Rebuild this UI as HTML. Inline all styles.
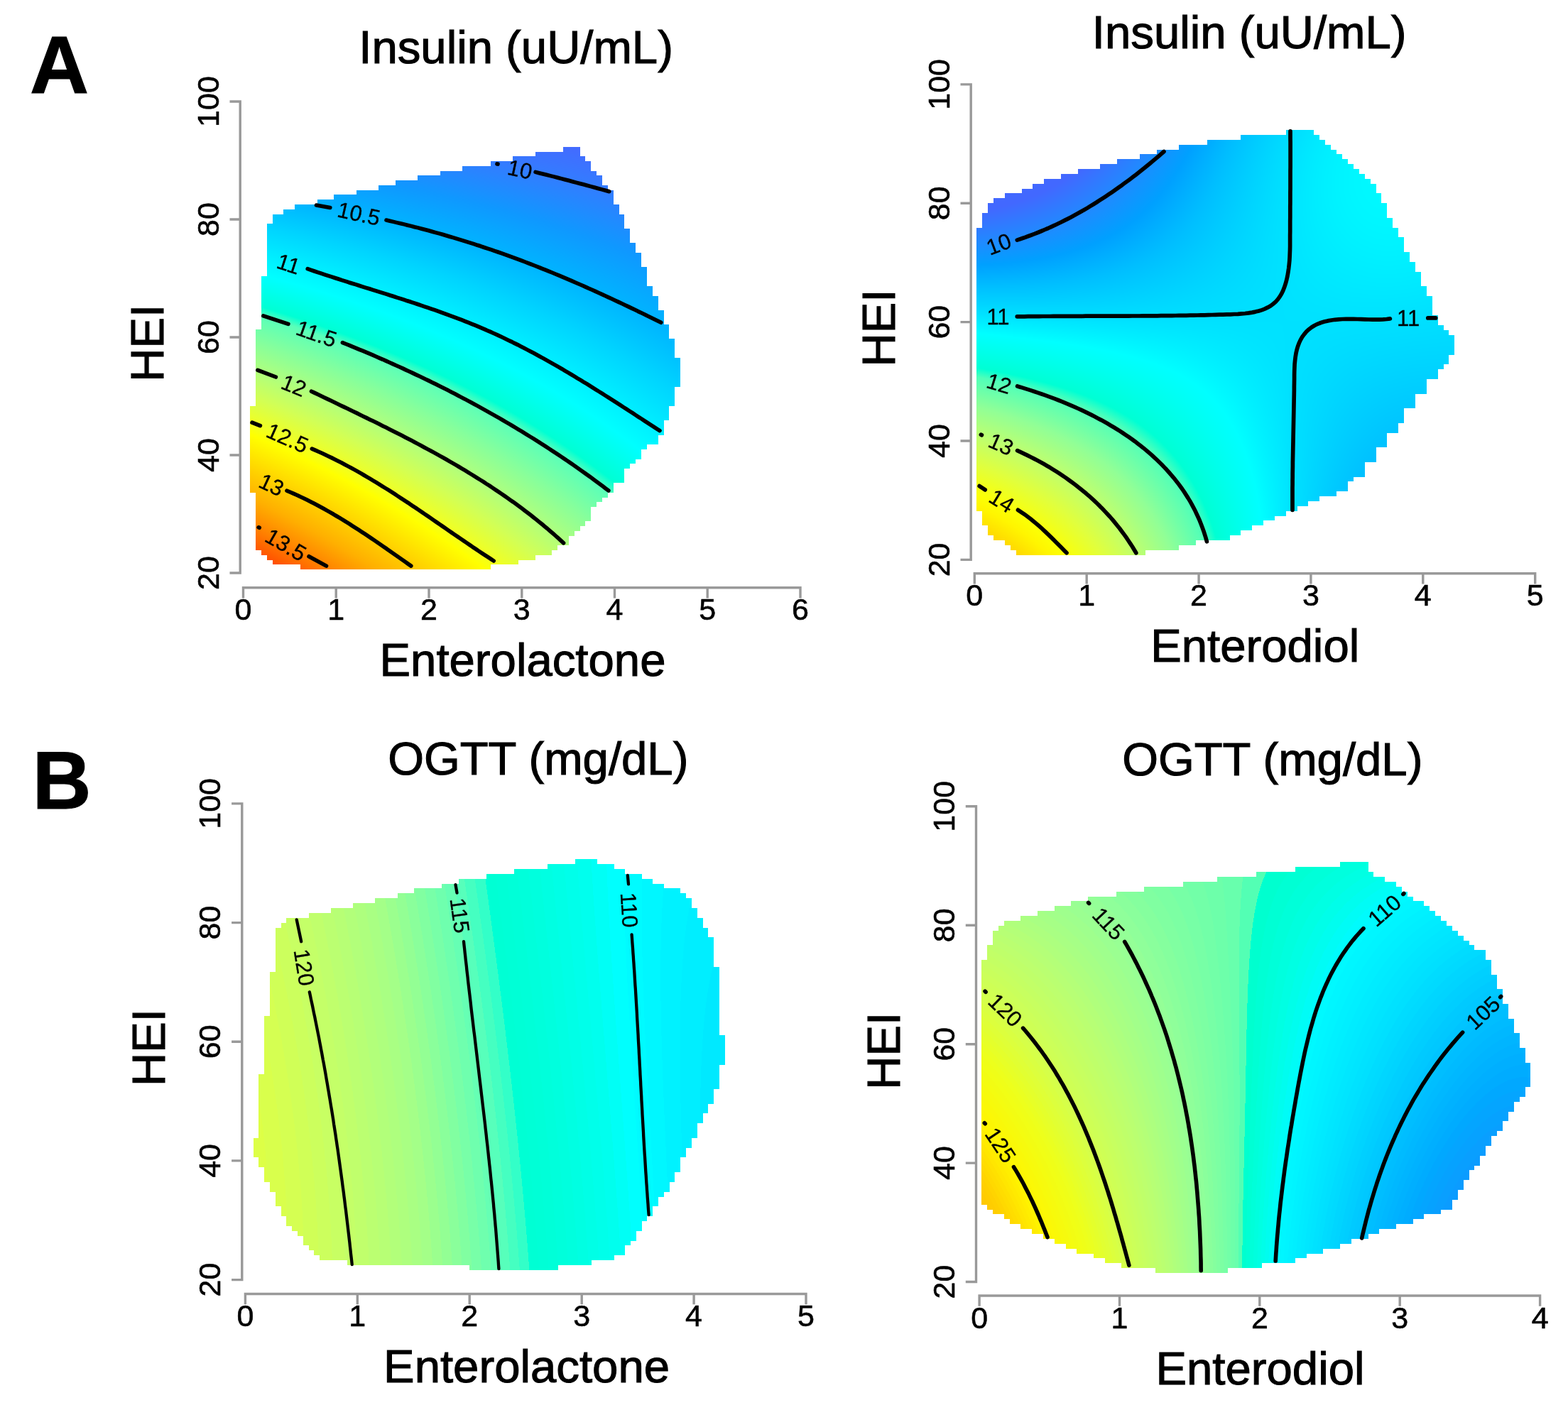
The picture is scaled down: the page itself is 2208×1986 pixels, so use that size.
<!DOCTYPE html>
<html><head><meta charset="utf-8"><title>Figure</title>
<style>html,body{margin:0;padding:0;background:#fff}#wrap{position:relative;width:2208px;height:1986px;overflow:hidden;background:#fff}
svg{position:absolute;left:0;top:0}text{font-family:"Liberation Sans", Arial, sans-serif;fill:#000;stroke:#000;stroke-width:1.1px}text.cl{stroke-width:0.3px}text.tk{stroke-width:0.6px}</style></head>
<body><div id="wrap"><noscript><svg width="2208" height="1986" style="position:absolute;left:0;top:0" xmlns="http://www.w3.org/2000/svg"><defs><linearGradient id="gTL0" gradientUnits="userSpaceOnUse" x1="792.9" x2="816.5"><stop offset="-0.039" stop-color="#416dff"/><stop offset="0.977" stop-color="#436bff"/></linearGradient><linearGradient id="gTL1" gradientUnits="userSpaceOnUse" x1="753.6" x2="816.5"><stop offset="-0.009" stop-color="#3c72ff"/><stop offset="1.007" stop-color="#416eff"/></linearGradient><linearGradient id="gTL2" gradientUnits="userSpaceOnUse" x1="722.1" x2="824.4"><stop offset="-0.001" stop-color="#3778ff"/><stop offset="0.996" stop-color="#3f70ff"/></linearGradient><linearGradient id="gTL3" gradientUnits="userSpaceOnUse" x1="690.6" x2="832.3"><stop offset="-0.004" stop-color="#327dff"/><stop offset="0.998" stop-color="#3d71ff"/></linearGradient><linearGradient id="gTL4" gradientUnits="userSpaceOnUse" x1="651.3" x2="832.3"><stop offset="-0.001" stop-color="#2a83ff"/><stop offset="1.004" stop-color="#3b74ff"/></linearGradient><linearGradient id="gTL5" gradientUnits="userSpaceOnUse" x1="619.8" x2="840.1"><stop offset="-0.004" stop-color="#2289ff"/><stop offset="1.004" stop-color="#3975ff"/></linearGradient><linearGradient id="gTL6" gradientUnits="userSpaceOnUse" x1="588.3" x2="848.0"><stop offset="-0.001" stop-color="#1a90ff"/><stop offset="1.000" stop-color="#3777ff"/></linearGradient><linearGradient id="gTL7" gradientUnits="userSpaceOnUse" x1="556.8" x2="848.0"><stop offset="-0.003" stop-color="#1296ff"/><stop offset="1.000" stop-color="#357aff"/></linearGradient><linearGradient id="gTL8" gradientUnits="userSpaceOnUse" x1="533.2" x2="855.9"><stop offset="-0.001" stop-color="#0d9cff"/><stop offset="0.997" stop-color="#347bff"/></linearGradient><linearGradient id="gTL9" gradientUnits="userSpaceOnUse" x1="501.7" x2="863.8"><stop offset="-0.002" stop-color="#09a3ff"/><stop offset="0.998" stop-color="#327dff"/></linearGradient><linearGradient id="gTL10" gradientUnits="userSpaceOnUse" x1="470.3" x2="863.8"><stop offset="-0.001" stop-color="#05aaff"/><stop offset="0.762" stop-color="#2289ff"/><stop offset="1.001" stop-color="#2f7fff"/></linearGradient><linearGradient id="gTL11" gradientUnits="userSpaceOnUse" x1="446.6" x2="863.8"><stop offset="-0.002" stop-color="#02b1ff"/><stop offset="0.775" stop-color="#1f8cff"/><stop offset="1.001" stop-color="#2c82ff"/></linearGradient><linearGradient id="gTL12" gradientUnits="userSpaceOnUse" x1="415.2" x2="871.6"><stop offset="-0.000" stop-color="#00b9ff"/><stop offset="0.784" stop-color="#1b8eff"/><stop offset="0.999" stop-color="#2a83ff"/></linearGradient><linearGradient id="gTL13" gradientUnits="userSpaceOnUse" x1="399.4" x2="871.6"><stop offset="-0.001" stop-color="#00c0ff"/><stop offset="0.812" stop-color="#1990ff"/><stop offset="0.999" stop-color="#2786ff"/></linearGradient><linearGradient id="gTL14" gradientUnits="userSpaceOnUse" x1="383.7" x2="879.5"><stop offset="-0.001" stop-color="#00c7ff"/><stop offset="0.733" stop-color="#1097ff"/><stop offset="0.999" stop-color="#2587ff"/></linearGradient><linearGradient id="gTL15" gradientUnits="userSpaceOnUse" x1="383.7" x2="879.5"><stop offset="-0.001" stop-color="#00ccff"/><stop offset="0.696" stop-color="#0d9cff"/><stop offset="0.999" stop-color="#228aff"/></linearGradient><linearGradient id="gTL16" gradientUnits="userSpaceOnUse" x1="375.8" x2="879.5"><stop offset="-0.002" stop-color="#00d2ff"/><stop offset="0.681" stop-color="#0aa1ff"/><stop offset="0.999" stop-color="#1f8cff"/></linearGradient><linearGradient id="gTL17" gradientUnits="userSpaceOnUse" x1="375.8" x2="887.4"><stop offset="-0.002" stop-color="#00d7ff"/><stop offset="0.687" stop-color="#09a2ff"/><stop offset="0.999" stop-color="#1d8dff"/></linearGradient><linearGradient id="gTL18" gradientUnits="userSpaceOnUse" x1="375.8" x2="887.4"><stop offset="-0.002" stop-color="#00dbff"/><stop offset="0.714" stop-color="#09a4ff"/><stop offset="0.999" stop-color="#1a90ff"/></linearGradient><linearGradient id="gTL19" gradientUnits="userSpaceOnUse" x1="375.8" x2="887.4"><stop offset="-0.002" stop-color="#00e0ff"/><stop offset="0.741" stop-color="#08a4ff"/><stop offset="0.999" stop-color="#1792ff"/></linearGradient><linearGradient id="gTL20" gradientUnits="userSpaceOnUse" x1="375.8" x2="895.2"><stop offset="-0.002" stop-color="#00e4ff"/><stop offset="0.761" stop-color="#08a5ff"/><stop offset="1.000" stop-color="#1593ff"/></linearGradient><linearGradient id="gTL21" gradientUnits="userSpaceOnUse" x1="375.8" x2="895.2"><stop offset="-0.002" stop-color="#00e8ff"/><stop offset="0.792" stop-color="#08a6ff"/><stop offset="1.000" stop-color="#1296ff"/></linearGradient><linearGradient id="gTL22" gradientUnits="userSpaceOnUse" x1="375.8" x2="903.1"><stop offset="-0.002" stop-color="#00edff"/><stop offset="0.810" stop-color="#08a6ff"/><stop offset="1.000" stop-color="#1097ff"/></linearGradient><linearGradient id="gTL23" gradientUnits="userSpaceOnUse" x1="375.8" x2="903.1"><stop offset="-0.002" stop-color="#00f1ff"/><stop offset="0.840" stop-color="#07a6ff"/><stop offset="1.000" stop-color="#0e99ff"/></linearGradient><linearGradient id="gTL24" gradientUnits="userSpaceOnUse" x1="375.8" x2="903.1"><stop offset="-0.002" stop-color="#00f5ff"/><stop offset="0.871" stop-color="#07a6ff"/><stop offset="1.000" stop-color="#0d9cff"/></linearGradient><linearGradient id="gTL25" gradientUnits="userSpaceOnUse" x1="375.8" x2="911.0"><stop offset="-0.002" stop-color="#00f9ff"/><stop offset="0.884" stop-color="#07a7ff"/><stop offset="1.000" stop-color="#0c9dff"/></linearGradient><linearGradient id="gTL26" gradientUnits="userSpaceOnUse" x1="375.8" x2="911.0"><stop offset="-0.002" stop-color="#00fdff"/><stop offset="0.914" stop-color="#07a7ff"/><stop offset="1.000" stop-color="#0b9fff"/></linearGradient><linearGradient id="gTL27" gradientUnits="userSpaceOnUse" x1="367.9" x2="911.0"><stop offset="-0.002" stop-color="#00fffa"/><stop offset="0.941" stop-color="#07a7ff"/><stop offset="1.000" stop-color="#0aa2ff"/></linearGradient><linearGradient id="gTL28" gradientUnits="userSpaceOnUse" x1="367.9" x2="911.0"><stop offset="-0.002" stop-color="#00fff3"/><stop offset="0.168" stop-color="#00f8ff"/><stop offset="0.971" stop-color="#07a7ff"/><stop offset="1.000" stop-color="#09a4ff"/></linearGradient><linearGradient id="gTL29" gradientUnits="userSpaceOnUse" x1="367.9" x2="918.8"><stop offset="-0.002" stop-color="#00ffed"/><stop offset="0.183" stop-color="#00faff"/><stop offset="0.982" stop-color="#07a7ff"/><stop offset="1.000" stop-color="#08a5ff"/></linearGradient><linearGradient id="gTL30" gradientUnits="userSpaceOnUse" x1="367.9" x2="918.8"><stop offset="-0.002" stop-color="#00ffe6"/><stop offset="0.216" stop-color="#00faff"/><stop offset="1.000" stop-color="#07a7ff"/></linearGradient><linearGradient id="gTL31" gradientUnits="userSpaceOnUse" x1="367.9" x2="926.7"><stop offset="-0.002" stop-color="#00ffe0"/><stop offset="0.249" stop-color="#00faff"/><stop offset="1.001" stop-color="#06a8ff"/></linearGradient><linearGradient id="gTL32" gradientUnits="userSpaceOnUse" x1="367.9" x2="926.7"><stop offset="-0.002" stop-color="#00ffd9"/><stop offset="0.281" stop-color="#00fbff"/><stop offset="1.001" stop-color="#05abff"/></linearGradient><linearGradient id="gTL33" gradientUnits="userSpaceOnUse" x1="367.9" x2="926.7"><stop offset="-0.002" stop-color="#0bffd1"/><stop offset="0.020" stop-color="#00ffd6"/><stop offset="0.317" stop-color="#00fbff"/><stop offset="1.001" stop-color="#04adff"/></linearGradient><linearGradient id="gTL34" gradientUnits="userSpaceOnUse" x1="367.9" x2="934.6"><stop offset="-0.002" stop-color="#3affc3"/><stop offset="0.051" stop-color="#00ffd5"/><stop offset="0.344" stop-color="#00fbff"/><stop offset="1.001" stop-color="#03aeff"/></linearGradient><linearGradient id="gTL35" gradientUnits="userSpaceOnUse" x1="367.9" x2="934.6"><stop offset="-0.002" stop-color="#5cffb7"/><stop offset="0.023" stop-color="#4bffbd"/><stop offset="0.090" stop-color="#00ffd5"/><stop offset="0.376" stop-color="#00fbff"/><stop offset="1.001" stop-color="#02b0ff"/></linearGradient><linearGradient id="gTL36" gradientUnits="userSpaceOnUse" x1="367.9" x2="934.6"><stop offset="-0.002" stop-color="#64ffb2"/><stop offset="0.055" stop-color="#52ffbb"/><stop offset="0.125" stop-color="#00ffd5"/><stop offset="0.408" stop-color="#00fbff"/><stop offset="1.001" stop-color="#01b2ff"/></linearGradient><linearGradient id="gTL37" gradientUnits="userSpaceOnUse" x1="367.9" x2="942.5"><stop offset="-0.002" stop-color="#6bffad"/><stop offset="0.089" stop-color="#53ffbb"/><stop offset="0.158" stop-color="#00ffd5"/><stop offset="0.430" stop-color="#00fbff"/><stop offset="1.001" stop-color="#00b3ff"/></linearGradient><linearGradient id="gTL38" gradientUnits="userSpaceOnUse" x1="360.1" x2="942.5"><stop offset="-0.000" stop-color="#76ffa7"/><stop offset="0.134" stop-color="#55ffba"/><stop offset="0.202" stop-color="#00ffd5"/><stop offset="0.467" stop-color="#00fbff"/><stop offset="0.999" stop-color="#00b6ff"/></linearGradient><linearGradient id="gTL39" gradientUnits="userSpaceOnUse" x1="360.1" x2="942.5"><stop offset="-0.000" stop-color="#7dffa2"/><stop offset="0.168" stop-color="#53ffbb"/><stop offset="0.233" stop-color="#00ffd5"/><stop offset="0.491" stop-color="#00fbff"/><stop offset="0.999" stop-color="#00b9ff"/></linearGradient><linearGradient id="gTL40" gradientUnits="userSpaceOnUse" x1="360.1" x2="950.3"><stop offset="-0.000" stop-color="#85ff9c"/><stop offset="0.196" stop-color="#54ffbb"/><stop offset="0.261" stop-color="#00ffd5"/><stop offset="0.512" stop-color="#00fbff"/><stop offset="0.999" stop-color="#00b9ff"/></linearGradient><linearGradient id="gTL41" gradientUnits="userSpaceOnUse" x1="360.1" x2="950.3"><stop offset="-0.000" stop-color="#8cff97"/><stop offset="0.227" stop-color="#53ffbb"/><stop offset="0.288" stop-color="#00ffd4"/><stop offset="0.535" stop-color="#00fbff"/><stop offset="0.999" stop-color="#00bcff"/></linearGradient><linearGradient id="gTL42" gradientUnits="userSpaceOnUse" x1="360.1" x2="950.3"><stop offset="-0.000" stop-color="#93ff92"/><stop offset="0.254" stop-color="#56ffba"/><stop offset="0.318" stop-color="#00ffd5"/><stop offset="0.562" stop-color="#00fbff"/><stop offset="0.999" stop-color="#00beff"/></linearGradient><linearGradient id="gTL43" gradientUnits="userSpaceOnUse" x1="360.1" x2="950.3"><stop offset="-0.000" stop-color="#9aff8d"/><stop offset="0.284" stop-color="#53ffbb"/><stop offset="0.345" stop-color="#00ffd5"/><stop offset="0.586" stop-color="#00fbff"/><stop offset="0.999" stop-color="#00c1ff"/></linearGradient><linearGradient id="gTL44" gradientUnits="userSpaceOnUse" x1="360.1" x2="958.2"><stop offset="-0.000" stop-color="#a1ff88"/><stop offset="0.308" stop-color="#54ffbb"/><stop offset="0.364" stop-color="#00ffd4"/><stop offset="0.598" stop-color="#00fbff"/><stop offset="1.000" stop-color="#00c2ff"/></linearGradient><linearGradient id="gTL45" gradientUnits="userSpaceOnUse" x1="360.1" x2="958.2"><stop offset="-0.000" stop-color="#a8ff83"/><stop offset="0.334" stop-color="#53ffbb"/><stop offset="0.391" stop-color="#00ffd5"/><stop offset="0.622" stop-color="#00fbff"/><stop offset="1.000" stop-color="#00c4ff"/></linearGradient><linearGradient id="gTL46" gradientUnits="userSpaceOnUse" x1="360.1" x2="958.2"><stop offset="-0.000" stop-color="#afff7d"/><stop offset="0.358" stop-color="#56ffba"/><stop offset="0.415" stop-color="#00ffd4"/><stop offset="0.642" stop-color="#00fbff"/><stop offset="1.000" stop-color="#00c7ff"/></linearGradient><linearGradient id="gTL47" gradientUnits="userSpaceOnUse" x1="360.1" x2="958.2"><stop offset="-0.000" stop-color="#b5ff76"/><stop offset="0.384" stop-color="#53ffbb"/><stop offset="0.441" stop-color="#00ffd5"/><stop offset="0.662" stop-color="#00fbff"/><stop offset="1.000" stop-color="#00caff"/></linearGradient><linearGradient id="gTL48" gradientUnits="userSpaceOnUse" x1="360.1" x2="958.2"><stop offset="-0.000" stop-color="#bbff6f"/><stop offset="0.408" stop-color="#54ffbb"/><stop offset="0.465" stop-color="#00ffd5"/><stop offset="0.685" stop-color="#00fbff"/><stop offset="1.000" stop-color="#00ccff"/></linearGradient><linearGradient id="gTL49" gradientUnits="userSpaceOnUse" x1="360.1" x2="958.2"><stop offset="-0.000" stop-color="#c1ff68"/><stop offset="0.428" stop-color="#5affb9"/><stop offset="0.485" stop-color="#00ffd4"/><stop offset="0.702" stop-color="#00fbff"/><stop offset="1.000" stop-color="#00cfff"/></linearGradient><linearGradient id="gTL50" gradientUnits="userSpaceOnUse" x1="360.1" x2="950.3"><stop offset="-0.000" stop-color="#c7ff61"/><stop offset="0.457" stop-color="#59ffb9"/><stop offset="0.515" stop-color="#00ffd5"/><stop offset="0.732" stop-color="#00fbff"/><stop offset="0.999" stop-color="#00d4ff"/></linearGradient><linearGradient id="gTL51" gradientUnits="userSpaceOnUse" x1="360.1" x2="950.3"><stop offset="-0.000" stop-color="#ceff5a"/><stop offset="0.427" stop-color="#68ffb0"/><stop offset="0.481" stop-color="#57ffba"/><stop offset="0.535" stop-color="#00ffd4"/><stop offset="0.752" stop-color="#00fbff"/><stop offset="0.999" stop-color="#00d6ff"/></linearGradient><linearGradient id="gTL52" gradientUnits="userSpaceOnUse" x1="360.1" x2="950.3"><stop offset="-0.000" stop-color="#d4ff52"/><stop offset="0.362" stop-color="#7fffa0"/><stop offset="0.505" stop-color="#54ffbb"/><stop offset="0.559" stop-color="#00ffd5"/><stop offset="0.769" stop-color="#00fbff"/><stop offset="0.999" stop-color="#00d8ff"/></linearGradient><linearGradient id="gTL53" gradientUnits="userSpaceOnUse" x1="360.1" x2="950.3"><stop offset="-0.000" stop-color="#d9ff49"/><stop offset="0.325" stop-color="#8fff95"/><stop offset="0.525" stop-color="#56ffba"/><stop offset="0.579" stop-color="#00ffd5"/><stop offset="0.789" stop-color="#00fbff"/><stop offset="0.999" stop-color="#00dbff"/></linearGradient><linearGradient id="gTL54" gradientUnits="userSpaceOnUse" x1="352.2" x2="942.5"><stop offset="-0.000" stop-color="#e1ff3c"/><stop offset="0.332" stop-color="#97ff8f"/><stop offset="0.559" stop-color="#57ffba"/><stop offset="0.613" stop-color="#00ffd5"/><stop offset="0.820" stop-color="#00fbff"/><stop offset="0.999" stop-color="#00dfff"/></linearGradient><linearGradient id="gTL55" gradientUnits="userSpaceOnUse" x1="352.2" x2="942.5"><stop offset="-0.000" stop-color="#e6ff33"/><stop offset="0.318" stop-color="#a0ff88"/><stop offset="0.579" stop-color="#57ffba"/><stop offset="0.633" stop-color="#00ffd5"/><stop offset="0.837" stop-color="#00fbff"/><stop offset="0.999" stop-color="#00e2ff"/></linearGradient><linearGradient id="gTL56" gradientUnits="userSpaceOnUse" x1="352.2" x2="942.5"><stop offset="-0.000" stop-color="#ecff2a"/><stop offset="0.311" stop-color="#a8ff82"/><stop offset="0.599" stop-color="#56ffba"/><stop offset="0.650" stop-color="#00ffd4"/><stop offset="0.854" stop-color="#00fbff"/><stop offset="0.999" stop-color="#00e4ff"/></linearGradient><linearGradient id="gTL57" gradientUnits="userSpaceOnUse" x1="352.2" x2="934.6"><stop offset="-0.000" stop-color="#f1ff20"/><stop offset="0.312" stop-color="#afff7d"/><stop offset="0.628" stop-color="#55ffbb"/><stop offset="0.680" stop-color="#00ffd5"/><stop offset="0.882" stop-color="#00fbff"/><stop offset="0.999" stop-color="#00e9ff"/></linearGradient><linearGradient id="gTL58" gradientUnits="userSpaceOnUse" x1="352.2" x2="934.6"><stop offset="-0.000" stop-color="#f7ff12"/><stop offset="0.274" stop-color="#bdff6d"/><stop offset="0.645" stop-color="#59ffb9"/><stop offset="0.697" stop-color="#00ffd4"/><stop offset="0.896" stop-color="#00fbff"/><stop offset="0.999" stop-color="#00ebff"/></linearGradient><linearGradient id="gTL59" gradientUnits="userSpaceOnUse" x1="352.2" x2="934.6"><stop offset="-0.000" stop-color="#fdff05"/><stop offset="0.164" stop-color="#dbff46"/><stop offset="0.467" stop-color="#92ff93"/><stop offset="0.666" stop-color="#55ffba"/><stop offset="0.717" stop-color="#00ffd5"/><stop offset="0.913" stop-color="#00fbff"/><stop offset="0.999" stop-color="#00eeff"/></linearGradient><linearGradient id="gTL60" gradientUnits="userSpaceOnUse" x1="352.2" x2="926.7"><stop offset="-0.000" stop-color="#fffb00"/><stop offset="0.055" stop-color="#f7ff13"/><stop offset="0.327" stop-color="#bcff6e"/><stop offset="0.692" stop-color="#58ffba"/><stop offset="0.745" stop-color="#00ffd5"/><stop offset="0.943" stop-color="#00fbff"/><stop offset="0.999" stop-color="#00f2ff"/></linearGradient><linearGradient id="gTL61" gradientUnits="userSpaceOnUse" x1="352.2" x2="926.7"><stop offset="-0.000" stop-color="#fff500"/><stop offset="0.059" stop-color="#fcff08"/><stop offset="0.236" stop-color="#d7ff4d"/><stop offset="0.539" stop-color="#8bff98"/><stop offset="0.713" stop-color="#53ffbb"/><stop offset="0.762" stop-color="#00ffd5"/><stop offset="0.957" stop-color="#00fbff"/><stop offset="0.999" stop-color="#00f5ff"/></linearGradient><linearGradient id="gTL62" gradientUnits="userSpaceOnUse" x1="352.2" x2="911.0"><stop offset="-0.000" stop-color="#ffef00"/><stop offset="0.086" stop-color="#fcff07"/><stop offset="0.257" stop-color="#d9ff4a"/><stop offset="0.562" stop-color="#8fff95"/><stop offset="0.751" stop-color="#54ffbb"/><stop offset="0.801" stop-color="#00ffd5"/><stop offset="0.998" stop-color="#00fbff"/></linearGradient><linearGradient id="gTL63" gradientUnits="userSpaceOnUse" x1="352.2" x2="903.1"><stop offset="-0.000" stop-color="#ffe900"/><stop offset="0.112" stop-color="#fcff07"/><stop offset="0.283" stop-color="#d9ff49"/><stop offset="0.584" stop-color="#90ff94"/><stop offset="0.780" stop-color="#54ffbb"/><stop offset="0.831" stop-color="#00ffd5"/><stop offset="1.002" stop-color="#00ffff"/></linearGradient><linearGradient id="gTL64" gradientUnits="userSpaceOnUse" x1="352.2" x2="903.1"><stop offset="-0.000" stop-color="#ffe200"/><stop offset="0.138" stop-color="#fcff06"/><stop offset="0.305" stop-color="#d9ff49"/><stop offset="0.606" stop-color="#90ff94"/><stop offset="0.798" stop-color="#53ffbb"/><stop offset="0.846" stop-color="#00ffd4"/><stop offset="1.002" stop-color="#00fffb"/></linearGradient><linearGradient id="gTL65" gradientUnits="userSpaceOnUse" x1="352.2" x2="895.2"><stop offset="-0.000" stop-color="#ffdc00"/><stop offset="0.162" stop-color="#fdff05"/><stop offset="0.324" stop-color="#dbff46"/><stop offset="0.622" stop-color="#93ff92"/><stop offset="0.825" stop-color="#58ffb9"/><stop offset="0.876" stop-color="#00ffd5"/><stop offset="1.001" stop-color="#00fff4"/></linearGradient><linearGradient id="gTL66" gradientUnits="userSpaceOnUse" x1="352.2" x2="887.4"><stop offset="-0.000" stop-color="#ffd600"/><stop offset="0.190" stop-color="#fdff05"/><stop offset="0.351" stop-color="#dbff46"/><stop offset="0.650" stop-color="#94ff92"/><stop offset="0.855" stop-color="#57ffba"/><stop offset="0.908" stop-color="#00ffd5"/><stop offset="1.001" stop-color="#00ffec"/></linearGradient><linearGradient id="gTL67" gradientUnits="userSpaceOnUse" x1="352.2" x2="879.5"><stop offset="-0.000" stop-color="#ffd000"/><stop offset="0.220" stop-color="#fcff06"/><stop offset="0.390" stop-color="#d9ff49"/><stop offset="0.694" stop-color="#90ff94"/><stop offset="0.887" stop-color="#54ffbb"/><stop offset="0.936" stop-color="#00ffd4"/><stop offset="1.001" stop-color="#00ffe4"/></linearGradient><linearGradient id="gTL68" gradientUnits="userSpaceOnUse" x1="352.2" x2="879.5"><stop offset="-0.000" stop-color="#ffca00"/><stop offset="0.242" stop-color="#fdff05"/><stop offset="0.405" stop-color="#dbff47"/><stop offset="0.701" stop-color="#93ff92"/><stop offset="0.902" stop-color="#58ffba"/><stop offset="0.952" stop-color="#00ffd4"/><stop offset="1.001" stop-color="#00ffe0"/></linearGradient><linearGradient id="gTL69" gradientUnits="userSpaceOnUse" x1="352.2" x2="879.5"><stop offset="-0.000" stop-color="#ffc400"/><stop offset="0.265" stop-color="#fdff04"/><stop offset="0.421" stop-color="#dcff44"/><stop offset="0.716" stop-color="#94ff91"/><stop offset="0.921" stop-color="#54ffbb"/><stop offset="0.971" stop-color="#00ffd5"/><stop offset="1.001" stop-color="#00ffdc"/></linearGradient><linearGradient id="gTL70" gradientUnits="userSpaceOnUse" x1="352.2" x2="863.8"><stop offset="-0.000" stop-color="#ffbe00"/><stop offset="0.301" stop-color="#fcff06"/><stop offset="0.465" stop-color="#daff47"/><stop offset="0.766" stop-color="#92ff93"/><stop offset="0.965" stop-color="#56ffba"/><stop offset="1.000" stop-color="#18ffcd"/></linearGradient><linearGradient id="gTL71" gradientUnits="userSpaceOnUse" x1="352.2" x2="863.8"><stop offset="-0.000" stop-color="#ffb800"/><stop offset="0.324" stop-color="#fcff06"/><stop offset="0.488" stop-color="#daff48"/><stop offset="0.785" stop-color="#92ff93"/><stop offset="0.981" stop-color="#58ffba"/><stop offset="1.000" stop-color="#35ffc4"/></linearGradient><linearGradient id="gTL72" gradientUnits="userSpaceOnUse" x1="360.1" x2="855.9"><stop offset="-0.000" stop-color="#ffb600"/><stop offset="0.343" stop-color="#fcff06"/><stop offset="0.512" stop-color="#d9ff49"/><stop offset="0.815" stop-color="#91ff93"/><stop offset="1.000" stop-color="#5dffb7"/></linearGradient><linearGradient id="gTL73" gradientUnits="userSpaceOnUse" x1="360.1" x2="848.0"><stop offset="-0.000" stop-color="#ffb000"/><stop offset="0.369" stop-color="#fdff04"/><stop offset="0.529" stop-color="#dcff44"/><stop offset="0.836" stop-color="#94ff91"/><stop offset="1.000" stop-color="#67ffb1"/></linearGradient><linearGradient id="gTL74" gradientUnits="userSpaceOnUse" x1="360.1" x2="840.1"><stop offset="-0.000" stop-color="#ffa900"/><stop offset="0.400" stop-color="#fdff05"/><stop offset="0.562" stop-color="#dcff45"/><stop offset="0.871" stop-color="#93ff92"/><stop offset="1.000" stop-color="#70ffaa"/></linearGradient><linearGradient id="gTL75" gradientUnits="userSpaceOnUse" x1="360.1" x2="832.3"><stop offset="-0.000" stop-color="#ffa100"/><stop offset="0.432" stop-color="#fdff06"/><stop offset="0.601" stop-color="#daff47"/><stop offset="0.910" stop-color="#92ff93"/><stop offset="0.999" stop-color="#7affa4"/></linearGradient><linearGradient id="gTL76" gradientUnits="userSpaceOnUse" x1="360.1" x2="832.3"><stop offset="-0.000" stop-color="#ff9900"/><stop offset="0.453" stop-color="#fdff05"/><stop offset="0.618" stop-color="#dbff46"/><stop offset="0.923" stop-color="#93ff92"/><stop offset="0.999" stop-color="#7fffa0"/></linearGradient><linearGradient id="gTL77" gradientUnits="userSpaceOnUse" x1="360.1" x2="832.3"><stop offset="-0.000" stop-color="#ff9100"/><stop offset="0.478" stop-color="#fcff06"/><stop offset="0.644" stop-color="#daff47"/><stop offset="0.944" stop-color="#93ff92"/><stop offset="0.999" stop-color="#84ff9d"/></linearGradient><linearGradient id="gTL78" gradientUnits="userSpaceOnUse" x1="360.1" x2="824.4"><stop offset="-0.000" stop-color="#ff8900"/><stop offset="0.465" stop-color="#fff800"/><stop offset="0.517" stop-color="#fbff0a"/><stop offset="0.706" stop-color="#d4ff51"/><stop offset="0.999" stop-color="#8dff96"/></linearGradient><linearGradient id="gTL79" gradientUnits="userSpaceOnUse" x1="360.1" x2="816.5"><stop offset="-0.000" stop-color="#ff8000"/><stop offset="0.307" stop-color="#ffcd00"/><stop offset="0.539" stop-color="#fdff05"/><stop offset="0.697" stop-color="#ddff43"/><stop offset="0.999" stop-color="#96ff90"/></linearGradient><linearGradient id="gTL80" gradientUnits="userSpaceOnUse" x1="360.1" x2="808.7"><stop offset="-0.000" stop-color="#ff7700"/><stop offset="0.303" stop-color="#ffc600"/><stop offset="0.571" stop-color="#fdff05"/><stop offset="0.731" stop-color="#dcff44"/><stop offset="0.999" stop-color="#9fff89"/></linearGradient><linearGradient id="gTL81" gradientUnits="userSpaceOnUse" x1="360.1" x2="800.8"><stop offset="-0.000" stop-color="#ff6d00"/><stop offset="0.317" stop-color="#ffc200"/><stop offset="0.603" stop-color="#fdff04"/><stop offset="0.767" stop-color="#dcff44"/><stop offset="0.998" stop-color="#a9ff82"/></linearGradient><linearGradient id="gTL82" gradientUnits="userSpaceOnUse" x1="360.1" x2="800.8"><stop offset="-0.000" stop-color="#ff6400"/><stop offset="0.336" stop-color="#ffc100"/><stop offset="0.626" stop-color="#fdff05"/><stop offset="0.789" stop-color="#dcff45"/><stop offset="0.998" stop-color="#aeff7e"/></linearGradient><linearGradient id="gTL83" gradientUnits="userSpaceOnUse" x1="360.1" x2="785.1"><stop offset="-0.000" stop-color="#ff5b00"/><stop offset="0.357" stop-color="#ffbe00"/><stop offset="0.673" stop-color="#fdff05"/><stop offset="0.842" stop-color="#dbff45"/><stop offset="1.002" stop-color="#b9ff71"/></linearGradient><linearGradient id="gTL84" gradientUnits="userSpaceOnUse" x1="367.9" x2="777.2"><stop offset="-0.002" stop-color="#ff5600"/><stop offset="0.364" stop-color="#ffbb00"/><stop offset="0.701" stop-color="#fdff04"/><stop offset="0.872" stop-color="#dcff44"/><stop offset="1.000" stop-color="#c2ff67"/></linearGradient><linearGradient id="gTL85" gradientUnits="userSpaceOnUse" x1="375.8" x2="753.6"><stop offset="-0.002" stop-color="#ff5300"/><stop offset="0.395" stop-color="#ffba00"/><stop offset="0.766" stop-color="#fdff05"/><stop offset="0.951" stop-color="#dcff45"/><stop offset="0.998" stop-color="#d3ff53"/></linearGradient><linearGradient id="gTL86" gradientUnits="userSpaceOnUse" x1="383.7" x2="730.0"><stop offset="-0.002" stop-color="#ff5000"/><stop offset="0.437" stop-color="#ffb900"/><stop offset="0.841" stop-color="#fdff06"/><stop offset="0.997" stop-color="#e3ff39"/></linearGradient><linearGradient id="gTL87" gradientUnits="userSpaceOnUse" x1="423.0" x2="690.6"><stop offset="-0.000" stop-color="#ff6600"/><stop offset="0.516" stop-color="#ffc100"/><stop offset="0.972" stop-color="#fdff05"/><stop offset="1.001" stop-color="#f9ff0e"/></linearGradient><linearGradient id="gTR0" gradientUnits="userSpaceOnUse" x1="1810.8" x2="1850.4"><stop offset="-0.020" stop-color="#00daff"/><stop offset="0.990" stop-color="#00e6ff"/></linearGradient><linearGradient id="gTR1" gradientUnits="userSpaceOnUse" x1="1747.4" x2="1858.3"><stop offset="-0.004" stop-color="#00c2ff"/><stop offset="1.006" stop-color="#00eaff"/></linearGradient><linearGradient id="gTR2" gradientUnits="userSpaceOnUse" x1="1699.9" x2="1866.2"><stop offset="-0.005" stop-color="#00aaff"/><stop offset="0.957" stop-color="#00ebff"/><stop offset="1.005" stop-color="#00edff"/></linearGradient><linearGradient id="gTR3" gradientUnits="userSpaceOnUse" x1="1660.3" x2="1874.1"><stop offset="-0.001" stop-color="#0b99ff"/><stop offset="0.186" stop-color="#00adff"/><stop offset="0.962" stop-color="#00edff"/><stop offset="0.999" stop-color="#00efff"/></linearGradient><linearGradient id="gTR4" gradientUnits="userSpaceOnUse" x1="1628.6" x2="1882.1"><stop offset="-0.002" stop-color="#1b8dff"/><stop offset="0.226" stop-color="#00a7ff"/><stop offset="0.881" stop-color="#00eaff"/><stop offset="1.000" stop-color="#00f1ff"/></linearGradient><linearGradient id="gTR5" gradientUnits="userSpaceOnUse" x1="1604.9" x2="1890.0"><stop offset="-0.003" stop-color="#2585ff"/><stop offset="0.271" stop-color="#00a7ff"/><stop offset="0.874" stop-color="#00ebff"/><stop offset="1.000" stop-color="#00f3ff"/></linearGradient><linearGradient id="gTR6" gradientUnits="userSpaceOnUse" x1="1573.2" x2="1897.9"><stop offset="-0.001" stop-color="#3179ff"/><stop offset="0.320" stop-color="#00a6ff"/><stop offset="0.862" stop-color="#00ecff"/><stop offset="0.997" stop-color="#00f5ff"/></linearGradient><linearGradient id="gTR7" gradientUnits="userSpaceOnUse" x1="1549.4" x2="1905.8"><stop offset="-0.001" stop-color="#3872ff"/><stop offset="0.347" stop-color="#00a6ff"/><stop offset="0.852" stop-color="#00ecff"/><stop offset="0.998" stop-color="#00f6ff"/></linearGradient><linearGradient id="gTR8" gradientUnits="userSpaceOnUse" x1="1517.8" x2="1913.8"><stop offset="-0.002" stop-color="#4268ff"/><stop offset="0.387" stop-color="#00a7ff"/><stop offset="0.857" stop-color="#00edff"/><stop offset="0.998" stop-color="#00f7ff"/></linearGradient><linearGradient id="gTR9" gradientUnits="userSpaceOnUse" x1="1494.0" x2="1921.7"><stop offset="-0.002" stop-color="#4268ff"/><stop offset="0.320" stop-color="#0b98ff"/><stop offset="0.428" stop-color="#00acff"/><stop offset="0.877" stop-color="#00f0ff"/><stop offset="0.998" stop-color="#00f8ff"/></linearGradient><linearGradient id="gTR10" gradientUnits="userSpaceOnUse" x1="1470.2" x2="1929.6"><stop offset="-0.001" stop-color="#4268ff"/><stop offset="0.152" stop-color="#3278ff"/><stop offset="0.417" stop-color="#00a7ff"/><stop offset="0.844" stop-color="#00eeff"/><stop offset="1.001" stop-color="#00f8ff"/></linearGradient><linearGradient id="gTR11" gradientUnits="userSpaceOnUse" x1="1454.4" x2="1937.5"><stop offset="-0.001" stop-color="#4268ff"/><stop offset="0.148" stop-color="#3476ff"/><stop offset="0.421" stop-color="#00a7ff"/><stop offset="0.840" stop-color="#00eeff"/><stop offset="1.001" stop-color="#00f9ff"/></linearGradient><linearGradient id="gTR12" gradientUnits="userSpaceOnUse" x1="1438.5" x2="1937.5"><stop offset="-0.001" stop-color="#4268ff"/><stop offset="0.159" stop-color="#3377ff"/><stop offset="0.428" stop-color="#00a7ff"/><stop offset="0.841" stop-color="#00eeff"/><stop offset="1.001" stop-color="#00f9ff"/></linearGradient><linearGradient id="gTR13" gradientUnits="userSpaceOnUse" x1="1414.8" x2="1945.4"><stop offset="-0.001" stop-color="#4268ff"/><stop offset="0.157" stop-color="#3674ff"/><stop offset="0.439" stop-color="#00a7ff"/><stop offset="0.843" stop-color="#00efff"/><stop offset="1.001" stop-color="#00f9ff"/></linearGradient><linearGradient id="gTR14" gradientUnits="userSpaceOnUse" x1="1399.0" x2="1945.4"><stop offset="-0.002" stop-color="#4268ff"/><stop offset="0.174" stop-color="#3377ff"/><stop offset="0.445" stop-color="#00a7ff"/><stop offset="0.847" stop-color="#00efff"/><stop offset="1.001" stop-color="#00f8ff"/></linearGradient><linearGradient id="gTR15" gradientUnits="userSpaceOnUse" x1="1391.0" x2="1953.3"><stop offset="-0.000" stop-color="#4268ff"/><stop offset="0.281" stop-color="#1e8bff"/><stop offset="0.437" stop-color="#00a7ff"/><stop offset="0.843" stop-color="#00efff"/><stop offset="0.999" stop-color="#00f8ff"/></linearGradient><linearGradient id="gTR16" gradientUnits="userSpaceOnUse" x1="1391.0" x2="1953.3"><stop offset="-0.000" stop-color="#4169ff"/><stop offset="0.324" stop-color="#1095ff"/><stop offset="0.434" stop-color="#00a9ff"/><stop offset="0.850" stop-color="#00f0ff"/><stop offset="0.999" stop-color="#00f7ff"/></linearGradient><linearGradient id="gTR17" gradientUnits="userSpaceOnUse" x1="1383.1" x2="1953.3"><stop offset="-0.000" stop-color="#3d6dff"/><stop offset="0.315" stop-color="#1195ff"/><stop offset="0.428" stop-color="#00a8ff"/><stop offset="0.852" stop-color="#00efff"/><stop offset="0.999" stop-color="#00f7ff"/></linearGradient><linearGradient id="gTR18" gradientUnits="userSpaceOnUse" x1="1383.1" x2="1961.3"><stop offset="-0.000" stop-color="#3872ff"/><stop offset="0.304" stop-color="#0e96ff"/><stop offset="0.418" stop-color="#00aaff"/><stop offset="0.851" stop-color="#00f0ff"/><stop offset="1.000" stop-color="#00f6ff"/></linearGradient><linearGradient id="gTR19" gradientUnits="userSpaceOnUse" x1="1383.1" x2="1961.3"><stop offset="-0.000" stop-color="#3278ff"/><stop offset="0.297" stop-color="#0b98ff"/><stop offset="0.415" stop-color="#00acff"/><stop offset="0.861" stop-color="#00f0ff"/><stop offset="1.000" stop-color="#00f6ff"/></linearGradient><linearGradient id="gTR20" gradientUnits="userSpaceOnUse" x1="1375.2" x2="1969.2"><stop offset="-0.000" stop-color="#2e7cff"/><stop offset="0.283" stop-color="#0b98ff"/><stop offset="0.404" stop-color="#00acff"/><stop offset="0.855" stop-color="#00f0ff"/><stop offset="1.000" stop-color="#00f5ff"/></linearGradient><linearGradient id="gTR21" gradientUnits="userSpaceOnUse" x1="1375.2" x2="1969.2"><stop offset="-0.000" stop-color="#2882ff"/><stop offset="0.296" stop-color="#049dff"/><stop offset="0.838" stop-color="#00eeff"/><stop offset="1.000" stop-color="#00f4ff"/></linearGradient><linearGradient id="gTR22" gradientUnits="userSpaceOnUse" x1="1375.2" x2="1977.1"><stop offset="-0.000" stop-color="#2387ff"/><stop offset="0.352" stop-color="#00aaff"/><stop offset="0.847" stop-color="#00efff"/><stop offset="1.000" stop-color="#00f3ff"/></linearGradient><linearGradient id="gTR23" gradientUnits="userSpaceOnUse" x1="1375.2" x2="1977.1"><stop offset="-0.000" stop-color="#1d8cff"/><stop offset="0.335" stop-color="#00abff"/><stop offset="0.857" stop-color="#00efff"/><stop offset="1.000" stop-color="#00f2ff"/></linearGradient><linearGradient id="gTR24" gradientUnits="userSpaceOnUse" x1="1375.2" x2="1977.1"><stop offset="-0.000" stop-color="#1691ff"/><stop offset="0.322" stop-color="#00acff"/><stop offset="0.867" stop-color="#00efff"/><stop offset="1.000" stop-color="#00f1ff"/></linearGradient><linearGradient id="gTR25" gradientUnits="userSpaceOnUse" x1="1375.2" x2="1985.0"><stop offset="-0.000" stop-color="#0f96ff"/><stop offset="0.318" stop-color="#00b0ff"/><stop offset="0.872" stop-color="#00efff"/><stop offset="1.000" stop-color="#00f0ff"/></linearGradient><linearGradient id="gTR26" gradientUnits="userSpaceOnUse" x1="1375.2" x2="1985.0"><stop offset="-0.000" stop-color="#089aff"/><stop offset="0.351" stop-color="#00b8ff"/><stop offset="0.898" stop-color="#00efff"/><stop offset="1.000" stop-color="#00efff"/></linearGradient><linearGradient id="gTR27" gradientUnits="userSpaceOnUse" x1="1375.2" x2="1993.0"><stop offset="-0.000" stop-color="#019fff"/><stop offset="0.446" stop-color="#00c7ff"/><stop offset="0.922" stop-color="#00efff"/><stop offset="1.000" stop-color="#00eeff"/></linearGradient><linearGradient id="gTR28" gradientUnits="userSpaceOnUse" x1="1375.2" x2="1993.0"><stop offset="-0.000" stop-color="#00a6ff"/><stop offset="0.508" stop-color="#00d0ff"/><stop offset="0.948" stop-color="#00eeff"/><stop offset="1.000" stop-color="#00edff"/></linearGradient><linearGradient id="gTR29" gradientUnits="userSpaceOnUse" x1="1375.2" x2="2000.9"><stop offset="-0.000" stop-color="#00adff"/><stop offset="0.556" stop-color="#00d6ff"/><stop offset="0.968" stop-color="#00ecff"/><stop offset="1.000" stop-color="#00ebff"/></linearGradient><linearGradient id="gTR30" gradientUnits="userSpaceOnUse" x1="1375.2" x2="2000.9"><stop offset="-0.000" stop-color="#00b4ff"/><stop offset="0.652" stop-color="#00dfff"/><stop offset="1.000" stop-color="#00eaff"/></linearGradient><linearGradient id="gTR31" gradientUnits="userSpaceOnUse" x1="1375.2" x2="2000.9"><stop offset="-0.000" stop-color="#00baff"/><stop offset="0.633" stop-color="#00deff"/><stop offset="1.000" stop-color="#00e9ff"/></linearGradient><linearGradient id="gTR32" gradientUnits="userSpaceOnUse" x1="1375.2" x2="2008.8"><stop offset="-0.000" stop-color="#00c1ff"/><stop offset="0.622" stop-color="#00deff"/><stop offset="1.000" stop-color="#00e7ff"/></linearGradient><linearGradient id="gTR33" gradientUnits="userSpaceOnUse" x1="1375.2" x2="2008.8"><stop offset="-0.000" stop-color="#00c7ff"/><stop offset="0.691" stop-color="#00e2ff"/><stop offset="1.000" stop-color="#00e6ff"/></linearGradient><linearGradient id="gTR34" gradientUnits="userSpaceOnUse" x1="1375.2" x2="2016.7"><stop offset="-0.000" stop-color="#00cdff"/><stop offset="1.000" stop-color="#00e4ff"/></linearGradient><linearGradient id="gTR35" gradientUnits="userSpaceOnUse" x1="1375.2" x2="2016.7"><stop offset="-0.000" stop-color="#00d4ff"/><stop offset="1.000" stop-color="#00e3ff"/></linearGradient><linearGradient id="gTR36" gradientUnits="userSpaceOnUse" x1="1375.2" x2="2016.7"><stop offset="-0.000" stop-color="#00daff"/><stop offset="1.000" stop-color="#00e2ff"/></linearGradient><linearGradient id="gTR37" gradientUnits="userSpaceOnUse" x1="1375.2" x2="2016.7"><stop offset="-0.000" stop-color="#00e0ff"/><stop offset="1.000" stop-color="#00e1ff"/></linearGradient><linearGradient id="gTR38" gradientUnits="userSpaceOnUse" x1="1375.2" x2="2024.6"><stop offset="-0.000" stop-color="#00e8ff"/><stop offset="1.001" stop-color="#00dfff"/></linearGradient><linearGradient id="gTR39" gradientUnits="userSpaceOnUse" x1="1375.2" x2="2024.6"><stop offset="-0.000" stop-color="#00efff"/><stop offset="0.807" stop-color="#00e1ff"/><stop offset="1.001" stop-color="#00deff"/></linearGradient><linearGradient id="gTR40" gradientUnits="userSpaceOnUse" x1="1375.2" x2="2032.5"><stop offset="-0.000" stop-color="#00f7ff"/><stop offset="0.788" stop-color="#00e0ff"/><stop offset="1.001" stop-color="#00ddff"/></linearGradient><linearGradient id="gTR41" gradientUnits="userSpaceOnUse" x1="1375.2" x2="2040.5"><stop offset="-0.000" stop-color="#00feff"/><stop offset="0.769" stop-color="#00dfff"/><stop offset="1.001" stop-color="#00dcff"/></linearGradient><linearGradient id="gTR42" gradientUnits="userSpaceOnUse" x1="1375.2" x2="2048.4"><stop offset="-0.000" stop-color="#00fffa"/><stop offset="0.995" stop-color="#00daff"/><stop offset="1.001" stop-color="#00daff"/></linearGradient><linearGradient id="gTR43" gradientUnits="userSpaceOnUse" x1="1375.2" x2="2048.4"><stop offset="-0.000" stop-color="#00fff4"/><stop offset="0.321" stop-color="#00f3ff"/><stop offset="1.001" stop-color="#00d9ff"/></linearGradient><linearGradient id="gTR44" gradientUnits="userSpaceOnUse" x1="1375.2" x2="2048.4"><stop offset="-0.000" stop-color="#00ffee"/><stop offset="0.332" stop-color="#00f6ff"/><stop offset="0.959" stop-color="#00d8ff"/><stop offset="1.001" stop-color="#00d8ff"/></linearGradient><linearGradient id="gTR45" gradientUnits="userSpaceOnUse" x1="1375.2" x2="2048.4"><stop offset="-0.000" stop-color="#00ffe8"/><stop offset="0.365" stop-color="#00f7ff"/><stop offset="0.927" stop-color="#00d8ff"/><stop offset="1.001" stop-color="#00d7ff"/></linearGradient><linearGradient id="gTR46" gradientUnits="userSpaceOnUse" x1="1375.2" x2="2040.5"><stop offset="-0.000" stop-color="#00ffe1"/><stop offset="0.400" stop-color="#00f8ff"/><stop offset="0.917" stop-color="#00d7ff"/><stop offset="1.001" stop-color="#00d6ff"/></linearGradient><linearGradient id="gTR47" gradientUnits="userSpaceOnUse" x1="1375.2" x2="2040.5"><stop offset="-0.000" stop-color="#00ffdb"/><stop offset="0.424" stop-color="#00f8ff"/><stop offset="0.899" stop-color="#00d6ff"/><stop offset="1.001" stop-color="#00d5ff"/></linearGradient><linearGradient id="gTR48" gradientUnits="userSpaceOnUse" x1="1375.2" x2="2032.5"><stop offset="-0.000" stop-color="#00ffd5"/><stop offset="0.450" stop-color="#00f9ff"/><stop offset="0.897" stop-color="#00d5ff"/><stop offset="1.001" stop-color="#00d3ff"/></linearGradient><linearGradient id="gTR49" gradientUnits="userSpaceOnUse" x1="1375.2" x2="2024.6"><stop offset="-0.000" stop-color="#23ffc8"/><stop offset="0.055" stop-color="#00ffd5"/><stop offset="0.477" stop-color="#00f8ff"/><stop offset="0.902" stop-color="#00d4ff"/><stop offset="1.001" stop-color="#00d2ff"/></linearGradient><linearGradient id="gTR50" gradientUnits="userSpaceOnUse" x1="1375.2" x2="2024.6"><stop offset="-0.000" stop-color="#4effba"/><stop offset="0.104" stop-color="#00ffd5"/><stop offset="0.492" stop-color="#00f8ff"/><stop offset="0.893" stop-color="#00d3ff"/><stop offset="1.001" stop-color="#00d1ff"/></linearGradient><linearGradient id="gTR51" gradientUnits="userSpaceOnUse" x1="1375.2" x2="2008.8"><stop offset="-0.000" stop-color="#5affb4"/><stop offset="0.060" stop-color="#48ffbc"/><stop offset="0.151" stop-color="#00ffd5"/><stop offset="0.521" stop-color="#00f8ff"/><stop offset="0.912" stop-color="#00d2ff"/><stop offset="1.000" stop-color="#00cfff"/></linearGradient><linearGradient id="gTR52" gradientUnits="userSpaceOnUse" x1="1375.2" x2="2008.8"><stop offset="-0.000" stop-color="#65ffae"/><stop offset="0.104" stop-color="#4affbb"/><stop offset="0.189" stop-color="#00ffd5"/><stop offset="0.533" stop-color="#00f8ff"/><stop offset="0.906" stop-color="#00d1ff"/><stop offset="1.000" stop-color="#00ceff"/></linearGradient><linearGradient id="gTR53" gradientUnits="userSpaceOnUse" x1="1375.2" x2="2008.8"><stop offset="-0.000" stop-color="#6fffa8"/><stop offset="0.145" stop-color="#48ffbc"/><stop offset="0.221" stop-color="#00ffd5"/><stop offset="0.543" stop-color="#00f9ff"/><stop offset="0.899" stop-color="#00d0ff"/><stop offset="1.000" stop-color="#00cdff"/></linearGradient><linearGradient id="gTR54" gradientUnits="userSpaceOnUse" x1="1375.2" x2="1993.0"><stop offset="-0.000" stop-color="#7affa3"/><stop offset="0.181" stop-color="#4bffbb"/><stop offset="0.255" stop-color="#00ffd5"/><stop offset="0.566" stop-color="#00f9ff"/><stop offset="0.916" stop-color="#00cfff"/><stop offset="1.000" stop-color="#00ccff"/></linearGradient><linearGradient id="gTR55" gradientUnits="userSpaceOnUse" x1="1375.2" x2="1993.0"><stop offset="-0.000" stop-color="#84ff9d"/><stop offset="0.213" stop-color="#4affbb"/><stop offset="0.281" stop-color="#00ffd5"/><stop offset="0.576" stop-color="#00f9ff"/><stop offset="0.913" stop-color="#00ceff"/><stop offset="1.000" stop-color="#00caff"/></linearGradient><linearGradient id="gTR56" gradientUnits="userSpaceOnUse" x1="1375.2" x2="1993.0"><stop offset="-0.000" stop-color="#8fff97"/><stop offset="0.239" stop-color="#4cffba"/><stop offset="0.307" stop-color="#00ffd5"/><stop offset="0.586" stop-color="#00f8ff"/><stop offset="0.913" stop-color="#00cdff"/><stop offset="1.000" stop-color="#00c9ff"/></linearGradient><linearGradient id="gTR57" gradientUnits="userSpaceOnUse" x1="1375.2" x2="1977.1"><stop offset="-0.000" stop-color="#97ff91"/><stop offset="0.272" stop-color="#4affbb"/><stop offset="0.335" stop-color="#00ffd5"/><stop offset="0.608" stop-color="#00f8ff"/><stop offset="0.933" stop-color="#00ccff"/><stop offset="1.000" stop-color="#00c8ff"/></linearGradient><linearGradient id="gTR58" gradientUnits="userSpaceOnUse" x1="1375.2" x2="1977.1"><stop offset="-0.000" stop-color="#9fff8a"/><stop offset="0.239" stop-color="#60ffb0"/><stop offset="0.295" stop-color="#4affbb"/><stop offset="0.355" stop-color="#00ffd5"/><stop offset="0.614" stop-color="#00f8ff"/><stop offset="0.930" stop-color="#00cbff"/><stop offset="1.000" stop-color="#00c7ff"/></linearGradient><linearGradient id="gTR59" gradientUnits="userSpaceOnUse" x1="1375.2" x2="1977.1"><stop offset="-0.000" stop-color="#a6ff83"/><stop offset="0.202" stop-color="#74ffa6"/><stop offset="0.315" stop-color="#4bffbb"/><stop offset="0.372" stop-color="#00ffd4"/><stop offset="0.621" stop-color="#00f8ff"/><stop offset="0.927" stop-color="#00caff"/><stop offset="1.000" stop-color="#00c6ff"/></linearGradient><linearGradient id="gTR60" gradientUnits="userSpaceOnUse" x1="1375.2" x2="1969.2"><stop offset="-0.000" stop-color="#aeff7d"/><stop offset="0.212" stop-color="#7affa2"/><stop offset="0.340" stop-color="#49ffbb"/><stop offset="0.394" stop-color="#00ffd5"/><stop offset="0.633" stop-color="#00f9ff"/><stop offset="0.932" stop-color="#00c9ff"/><stop offset="1.000" stop-color="#00c5ff"/></linearGradient><linearGradient id="gTR61" gradientUnits="userSpaceOnUse" x1="1375.2" x2="1969.2"><stop offset="-0.000" stop-color="#b5ff76"/><stop offset="0.229" stop-color="#7dffa1"/><stop offset="0.357" stop-color="#4affbb"/><stop offset="0.410" stop-color="#00ffd5"/><stop offset="0.639" stop-color="#00f9ff"/><stop offset="0.932" stop-color="#00c8ff"/><stop offset="1.000" stop-color="#00c4ff"/></linearGradient><linearGradient id="gTR62" gradientUnits="userSpaceOnUse" x1="1375.2" x2="1953.3"><stop offset="-0.000" stop-color="#bdff6f"/><stop offset="0.256" stop-color="#7dffa1"/><stop offset="0.384" stop-color="#49ffbb"/><stop offset="0.436" stop-color="#00ffd5"/><stop offset="0.664" stop-color="#00f8ff"/><stop offset="0.958" stop-color="#00c7ff"/><stop offset="0.999" stop-color="#00c4ff"/></linearGradient><linearGradient id="gTR63" gradientUnits="userSpaceOnUse" x1="1375.2" x2="1953.3"><stop offset="-0.000" stop-color="#c3ff67"/><stop offset="0.269" stop-color="#80ff9f"/><stop offset="0.397" stop-color="#4bffbb"/><stop offset="0.446" stop-color="#00ffd4"/><stop offset="0.667" stop-color="#00f8ff"/><stop offset="0.954" stop-color="#00c6ff"/><stop offset="0.999" stop-color="#00c3ff"/></linearGradient><linearGradient id="gTR64" gradientUnits="userSpaceOnUse" x1="1375.2" x2="1953.3"><stop offset="-0.000" stop-color="#c9ff5f"/><stop offset="0.276" stop-color="#85ff9d"/><stop offset="0.411" stop-color="#4bffbb"/><stop offset="0.460" stop-color="#00ffd5"/><stop offset="0.671" stop-color="#00f9ff"/><stop offset="0.951" stop-color="#00c6ff"/><stop offset="0.999" stop-color="#00c1ff"/></linearGradient><linearGradient id="gTR65" gradientUnits="userSpaceOnUse" x1="1375.2" x2="1937.5"><stop offset="-0.000" stop-color="#cfff56"/><stop offset="0.281" stop-color="#8eff98"/><stop offset="0.437" stop-color="#4affbb"/><stop offset="0.483" stop-color="#00ffd4"/><stop offset="0.693" stop-color="#00f9ff"/><stop offset="0.974" stop-color="#00c5ff"/><stop offset="0.999" stop-color="#00c2ff"/></linearGradient><linearGradient id="gTR66" gradientUnits="userSpaceOnUse" x1="1375.2" x2="1937.5"><stop offset="-0.000" stop-color="#d4ff4e"/><stop offset="0.266" stop-color="#98ff90"/><stop offset="0.448" stop-color="#4dffba"/><stop offset="0.494" stop-color="#00ffd4"/><stop offset="0.697" stop-color="#00f9ff"/><stop offset="0.974" stop-color="#00c4ff"/><stop offset="0.999" stop-color="#00c1ff"/></linearGradient><linearGradient id="gTR67" gradientUnits="userSpaceOnUse" x1="1375.2" x2="1937.5"><stop offset="-0.000" stop-color="#daff46"/><stop offset="0.263" stop-color="#9eff8a"/><stop offset="0.458" stop-color="#4effba"/><stop offset="0.505" stop-color="#00ffd5"/><stop offset="0.700" stop-color="#00f9ff"/><stop offset="0.971" stop-color="#00c3ff"/><stop offset="0.999" stop-color="#00c0ff"/></linearGradient><linearGradient id="gTR68" gradientUnits="userSpaceOnUse" x1="1375.2" x2="1921.7"><stop offset="-0.000" stop-color="#e0ff3d"/><stop offset="0.278" stop-color="#a2ff87"/><stop offset="0.483" stop-color="#4fffb9"/><stop offset="0.530" stop-color="#00ffd5"/><stop offset="0.724" stop-color="#00f9ff"/><stop offset="0.999" stop-color="#00c2ff"/></linearGradient><linearGradient id="gTR69" gradientUnits="userSpaceOnUse" x1="1375.2" x2="1921.7"><stop offset="-0.000" stop-color="#e5ff34"/><stop offset="0.281" stop-color="#a6ff83"/><stop offset="0.457" stop-color="#60ffb0"/><stop offset="0.497" stop-color="#47ffbc"/><stop offset="0.538" stop-color="#00ffd4"/><stop offset="0.728" stop-color="#00f9ff"/><stop offset="0.999" stop-color="#00c1ff"/></linearGradient><linearGradient id="gTR70" gradientUnits="userSpaceOnUse" x1="1375.2" x2="1921.7"><stop offset="-0.000" stop-color="#e9ff2b"/><stop offset="0.281" stop-color="#abff7f"/><stop offset="0.442" stop-color="#6cffaa"/><stop offset="0.505" stop-color="#4bffbb"/><stop offset="0.545" stop-color="#00ffd4"/><stop offset="0.732" stop-color="#00f8ff"/><stop offset="0.995" stop-color="#00c0ff"/><stop offset="0.999" stop-color="#00c0ff"/></linearGradient><linearGradient id="gTR71" gradientUnits="userSpaceOnUse" x1="1375.2" x2="1905.8"><stop offset="-0.000" stop-color="#eeff22"/><stop offset="0.286" stop-color="#b2ff79"/><stop offset="0.452" stop-color="#73ffa6"/><stop offset="0.531" stop-color="#48ffbc"/><stop offset="0.569" stop-color="#00ffd4"/><stop offset="0.757" stop-color="#00f8ff"/><stop offset="0.998" stop-color="#00c3ff"/></linearGradient><linearGradient id="gTR72" gradientUnits="userSpaceOnUse" x1="1375.2" x2="1897.9"><stop offset="-0.000" stop-color="#f2ff19"/><stop offset="0.279" stop-color="#bbff71"/><stop offset="0.463" stop-color="#76ffa4"/><stop offset="0.547" stop-color="#4affbb"/><stop offset="0.585" stop-color="#01ffd4"/><stop offset="0.769" stop-color="#00f9ff"/><stop offset="0.998" stop-color="#00c4ff"/></linearGradient><linearGradient id="gTR73" gradientUnits="userSpaceOnUse" x1="1375.2" x2="1897.9"><stop offset="-0.000" stop-color="#f7ff0f"/><stop offset="0.283" stop-color="#bfff6d"/><stop offset="0.470" stop-color="#78ffa3"/><stop offset="0.554" stop-color="#4bffbb"/><stop offset="0.593" stop-color="#00ffd4"/><stop offset="0.773" stop-color="#00f9ff"/><stop offset="0.998" stop-color="#00c3ff"/></linearGradient><linearGradient id="gTR74" gradientUnits="userSpaceOnUse" x1="1375.2" x2="1882.1"><stop offset="-0.000" stop-color="#fbff06"/><stop offset="0.292" stop-color="#c3ff67"/><stop offset="0.489" stop-color="#7bffa2"/><stop offset="0.580" stop-color="#4cffba"/><stop offset="0.619" stop-color="#00ffd4"/><stop offset="0.797" stop-color="#00f9ff"/><stop offset="1.002" stop-color="#00c7ff"/></linearGradient><linearGradient id="gTR75" gradientUnits="userSpaceOnUse" x1="1375.2" x2="1858.3"><stop offset="-0.000" stop-color="#fdfb03"/><stop offset="0.169" stop-color="#e6ff32"/><stop offset="0.434" stop-color="#a0ff89"/><stop offset="0.616" stop-color="#4bffbb"/><stop offset="0.658" stop-color="#00ffd5"/><stop offset="0.840" stop-color="#00f9ff"/><stop offset="1.001" stop-color="#00d0ff"/></linearGradient><linearGradient id="gTR76" gradientUnits="userSpaceOnUse" x1="1375.2" x2="1842.5"><stop offset="-0.000" stop-color="#fef701"/><stop offset="0.098" stop-color="#f6ff11"/><stop offset="0.385" stop-color="#b9ff73"/><stop offset="0.565" stop-color="#75ffa5"/><stop offset="0.646" stop-color="#4affbb"/><stop offset="0.684" stop-color="#01ffd4"/><stop offset="0.873" stop-color="#00f8ff"/><stop offset="1.001" stop-color="#00d6ff"/></linearGradient><linearGradient id="gTR77" gradientUnits="userSpaceOnUse" x1="1375.2" x2="1826.6"><stop offset="-0.000" stop-color="#fff200"/><stop offset="0.119" stop-color="#f7ff0e"/><stop offset="0.412" stop-color="#b9ff72"/><stop offset="0.598" stop-color="#73ffa6"/><stop offset="0.677" stop-color="#47ffbc"/><stop offset="0.717" stop-color="#00ffd4"/><stop offset="0.903" stop-color="#00f9ff"/><stop offset="1.001" stop-color="#00deff"/></linearGradient><linearGradient id="gTR78" gradientUnits="userSpaceOnUse" x1="1383.1" x2="1810.8"><stop offset="-0.000" stop-color="#ffef00"/><stop offset="0.131" stop-color="#f8ff0d"/><stop offset="0.435" stop-color="#b8ff73"/><stop offset="0.622" stop-color="#73ffa6"/><stop offset="0.701" stop-color="#4dffba"/><stop offset="0.743" stop-color="#00ffd4"/><stop offset="0.935" stop-color="#00f9ff"/><stop offset="1.000" stop-color="#00e7ff"/></linearGradient><linearGradient id="gTR79" gradientUnits="userSpaceOnUse" x1="1383.1" x2="1795.0"><stop offset="-0.000" stop-color="#ffe900"/><stop offset="0.160" stop-color="#f8ff0d"/><stop offset="0.466" stop-color="#b8ff74"/><stop offset="0.655" stop-color="#73ffa6"/><stop offset="0.738" stop-color="#48ffbc"/><stop offset="0.782" stop-color="#00ffd5"/><stop offset="0.976" stop-color="#00f8ff"/><stop offset="1.000" stop-color="#00f2ff"/></linearGradient><linearGradient id="gTR80" gradientUnits="userSpaceOnUse" x1="1383.1" x2="1779.1"><stop offset="-0.000" stop-color="#ffe300"/><stop offset="0.187" stop-color="#f9ff0c"/><stop offset="0.500" stop-color="#b7ff74"/><stop offset="0.692" stop-color="#72ffa6"/><stop offset="0.772" stop-color="#4cffba"/><stop offset="0.818" stop-color="#00ffd5"/><stop offset="1.000" stop-color="#00fdff"/></linearGradient><linearGradient id="gTR81" gradientUnits="userSpaceOnUse" x1="1391.0" x2="1763.3"><stop offset="-0.000" stop-color="#ffe000"/><stop offset="0.199" stop-color="#f9ff0b"/><stop offset="0.526" stop-color="#b7ff75"/><stop offset="0.725" stop-color="#72ffa7"/><stop offset="0.806" stop-color="#4fffb9"/><stop offset="0.854" stop-color="#00ffd4"/><stop offset="0.999" stop-color="#00fff7"/></linearGradient><linearGradient id="gTR82" gradientUnits="userSpaceOnUse" x1="1391.0" x2="1747.4"><stop offset="-0.000" stop-color="#ffda00"/><stop offset="0.224" stop-color="#faff09"/><stop offset="0.561" stop-color="#b7ff74"/><stop offset="0.763" stop-color="#73ffa6"/><stop offset="0.853" stop-color="#48ffbc"/><stop offset="0.898" stop-color="#00ffd4"/><stop offset="0.999" stop-color="#00ffec"/></linearGradient><linearGradient id="gTR83" gradientUnits="userSpaceOnUse" x1="1399.0" x2="1731.6"><stop offset="-0.003" stop-color="#ffd800"/><stop offset="0.238" stop-color="#faff08"/><stop offset="0.592" stop-color="#b7ff74"/><stop offset="0.809" stop-color="#71ffa7"/><stop offset="0.893" stop-color="#4fffb9"/><stop offset="0.947" stop-color="#00ffd5"/><stop offset="1.001" stop-color="#00ffe1"/></linearGradient><linearGradient id="gTR84" gradientUnits="userSpaceOnUse" x1="1414.8" x2="1684.1"><stop offset="-0.003" stop-color="#ffda00"/><stop offset="0.264" stop-color="#faff09"/><stop offset="0.695" stop-color="#b5ff76"/><stop offset="0.948" stop-color="#72ffa7"/><stop offset="1.000" stop-color="#61ffb0"/></linearGradient><linearGradient id="gTR85" gradientUnits="userSpaceOnUse" x1="1422.7" x2="1660.3"><stop offset="-0.003" stop-color="#ffd900"/><stop offset="0.300" stop-color="#faff0a"/><stop offset="0.771" stop-color="#b5ff76"/><stop offset="0.999" stop-color="#81ff9e"/></linearGradient><linearGradient id="gTR86" gradientUnits="userSpaceOnUse" x1="1430.6" x2="1612.8"><stop offset="-0.003" stop-color="#ffd900"/><stop offset="0.381" stop-color="#faff09"/><stop offset="0.985" stop-color="#b5ff76"/><stop offset="0.996" stop-color="#b3ff77"/></linearGradient><linearGradient id="gBL0" gradientUnits="userSpaceOnUse" x1="809.8" x2="841.1"><stop offset="-0.025" stop-color="#00ffea"/><stop offset="0.678" stop-color="#00ffee"/><stop offset="0.870" stop-color="#00fff6"/><stop offset="0.998" stop-color="#00fff6"/></linearGradient><linearGradient id="gBL1" gradientUnits="userSpaceOnUse" x1="770.7" x2="864.5"><stop offset="-0.008" stop-color="#00ffe2"/><stop offset="0.653" stop-color="#00ffee"/><stop offset="0.717" stop-color="#00fff6"/><stop offset="0.888" stop-color="#00fff6"/><stop offset="0.952" stop-color="#00fffe"/><stop offset="0.995" stop-color="#00fffe"/></linearGradient><linearGradient id="gBL2" gradientUnits="userSpaceOnUse" x1="723.8" x2="880.1"><stop offset="-0.005" stop-color="#00ffd8"/><stop offset="0.698" stop-color="#00ffee"/><stop offset="0.737" stop-color="#00fff6"/><stop offset="0.826" stop-color="#00fff6"/><stop offset="0.865" stop-color="#00fffe"/><stop offset="1.006" stop-color="#00fbff"/></linearGradient><linearGradient id="gBL3" gradientUnits="userSpaceOnUse" x1="684.8" x2="903.6"><stop offset="-0.003" stop-color="#00ffd4"/><stop offset="0.673" stop-color="#00ffee"/><stop offset="0.700" stop-color="#00fff6"/><stop offset="0.773" stop-color="#00fff6"/><stop offset="0.801" stop-color="#00fffe"/><stop offset="1.002" stop-color="#00fbff"/></linearGradient><linearGradient id="gBL4" gradientUnits="userSpaceOnUse" x1="645.7" x2="919.2"><stop offset="-0.002" stop-color="#57ffbb"/><stop offset="0.027" stop-color="#57ffbb"/><stop offset="0.034" stop-color="#45ffc1"/><stop offset="0.085" stop-color="#45ffc1"/><stop offset="0.093" stop-color="#33ffc8"/><stop offset="0.136" stop-color="#33ffc8"/><stop offset="0.144" stop-color="#00ffd4"/><stop offset="0.685" stop-color="#00ffee"/><stop offset="0.707" stop-color="#00fff6"/><stop offset="0.765" stop-color="#00fff6"/><stop offset="0.787" stop-color="#00fffe"/><stop offset="0.999" stop-color="#00f7ff"/></linearGradient><linearGradient id="gBL5" gradientUnits="userSpaceOnUse" x1="622.2" x2="934.8"><stop offset="-0.001" stop-color="#6fffae"/><stop offset="0.057" stop-color="#66ffb4"/><stop offset="0.063" stop-color="#57ffbb"/><stop offset="0.102" stop-color="#57ffbb"/><stop offset="0.108" stop-color="#45ffc1"/><stop offset="0.153" stop-color="#45ffc1"/><stop offset="0.159" stop-color="#33ffc8"/><stop offset="0.198" stop-color="#33ffc8"/><stop offset="0.204" stop-color="#00ffd4"/><stop offset="0.677" stop-color="#00ffee"/><stop offset="0.697" stop-color="#00fff6"/><stop offset="0.741" stop-color="#00fff6"/><stop offset="0.761" stop-color="#00fffe"/><stop offset="0.997" stop-color="#00f7ff"/></linearGradient><linearGradient id="gBL6" gradientUnits="userSpaceOnUse" x1="583.2" x2="958.3"><stop offset="-0.000" stop-color="#8aff9b"/><stop offset="0.016" stop-color="#81ffa1"/><stop offset="0.037" stop-color="#81ffa1"/><stop offset="0.053" stop-color="#78ffa8"/><stop offset="0.080" stop-color="#78ffa8"/><stop offset="0.096" stop-color="#6fffae"/><stop offset="0.117" stop-color="#6fffae"/><stop offset="0.133" stop-color="#66ffb4"/><stop offset="0.154" stop-color="#66ffb4"/><stop offset="0.160" stop-color="#57ffbb"/><stop offset="0.192" stop-color="#57ffbb"/><stop offset="0.197" stop-color="#45ffc1"/><stop offset="0.234" stop-color="#45ffc1"/><stop offset="0.239" stop-color="#33ffc8"/><stop offset="0.271" stop-color="#33ffc8"/><stop offset="0.277" stop-color="#00ffd4"/><stop offset="0.671" stop-color="#00ffee"/><stop offset="0.687" stop-color="#00fff6"/><stop offset="0.725" stop-color="#00fff6"/><stop offset="0.741" stop-color="#00fffe"/><stop offset="1.002" stop-color="#00f2ff"/></linearGradient><linearGradient id="gBL7" gradientUnits="userSpaceOnUse" x1="559.7" x2="966.1"><stop offset="-0.002" stop-color="#93ff94"/><stop offset="0.023" stop-color="#93ff94"/><stop offset="0.038" stop-color="#8aff9b"/><stop offset="0.062" stop-color="#8aff9b"/><stop offset="0.077" stop-color="#81ffa1"/><stop offset="0.097" stop-color="#81ffa1"/><stop offset="0.111" stop-color="#78ffa8"/><stop offset="0.131" stop-color="#78ffa8"/><stop offset="0.146" stop-color="#6fffae"/><stop offset="0.166" stop-color="#6fffae"/><stop offset="0.180" stop-color="#66ffb4"/><stop offset="0.200" stop-color="#66ffb4"/><stop offset="0.205" stop-color="#57ffbb"/><stop offset="0.239" stop-color="#57ffbb"/><stop offset="0.244" stop-color="#45ffc1"/><stop offset="0.274" stop-color="#45ffc1"/><stop offset="0.279" stop-color="#33ffc8"/><stop offset="0.308" stop-color="#33ffc8"/><stop offset="0.313" stop-color="#00ffd4"/><stop offset="0.677" stop-color="#00ffee"/><stop offset="0.692" stop-color="#00fff6"/><stop offset="0.727" stop-color="#00fff6"/><stop offset="0.741" stop-color="#00fffe"/><stop offset="1.002" stop-color="#00f2ff"/></linearGradient><linearGradient id="gBL8" gradientUnits="userSpaceOnUse" x1="528.5" x2="973.9"><stop offset="-0.001" stop-color="#a4ff88"/><stop offset="0.030" stop-color="#a4ff88"/><stop offset="0.044" stop-color="#9bff8e"/><stop offset="0.062" stop-color="#9bff8e"/><stop offset="0.075" stop-color="#93ff94"/><stop offset="0.098" stop-color="#93ff94"/><stop offset="0.111" stop-color="#8aff9b"/><stop offset="0.129" stop-color="#8aff9b"/><stop offset="0.143" stop-color="#81ffa1"/><stop offset="0.161" stop-color="#81ffa1"/><stop offset="0.174" stop-color="#78ffa8"/><stop offset="0.192" stop-color="#78ffa8"/><stop offset="0.206" stop-color="#6fffae"/><stop offset="0.223" stop-color="#6fffae"/><stop offset="0.237" stop-color="#66ffb4"/><stop offset="0.255" stop-color="#66ffb4"/><stop offset="0.259" stop-color="#57ffbb"/><stop offset="0.291" stop-color="#57ffbb"/><stop offset="0.295" stop-color="#45ffc1"/><stop offset="0.322" stop-color="#45ffc1"/><stop offset="0.327" stop-color="#33ffc8"/><stop offset="0.354" stop-color="#33ffc8"/><stop offset="0.358" stop-color="#00ffd4"/><stop offset="0.690" stop-color="#00ffee"/><stop offset="0.704" stop-color="#00fff6"/><stop offset="0.735" stop-color="#00fff6"/><stop offset="0.749" stop-color="#00fffe"/><stop offset="1.000" stop-color="#00eeff"/></linearGradient><linearGradient id="gBL9" gradientUnits="userSpaceOnUse" x1="497.2" x2="973.9"><stop offset="-0.000" stop-color="#b2ff7a"/><stop offset="0.096" stop-color="#a4ff88"/><stop offset="0.109" stop-color="#9bff8e"/><stop offset="0.125" stop-color="#9bff8e"/><stop offset="0.138" stop-color="#93ff94"/><stop offset="0.159" stop-color="#93ff94"/><stop offset="0.172" stop-color="#8aff9b"/><stop offset="0.188" stop-color="#8aff9b"/><stop offset="0.201" stop-color="#81ffa1"/><stop offset="0.218" stop-color="#81ffa1"/><stop offset="0.230" stop-color="#78ffa8"/><stop offset="0.247" stop-color="#78ffa8"/><stop offset="0.260" stop-color="#6fffae"/><stop offset="0.276" stop-color="#6fffae"/><stop offset="0.289" stop-color="#66ffb4"/><stop offset="0.310" stop-color="#66ffb4"/><stop offset="0.314" stop-color="#57ffbb"/><stop offset="0.339" stop-color="#57ffbb"/><stop offset="0.344" stop-color="#45ffc1"/><stop offset="0.369" stop-color="#45ffc1"/><stop offset="0.373" stop-color="#33ffc8"/><stop offset="0.398" stop-color="#33ffc8"/><stop offset="0.402" stop-color="#00ffd4"/><stop offset="0.709" stop-color="#00ffee"/><stop offset="0.721" stop-color="#00fff6"/><stop offset="0.751" stop-color="#00fff6"/><stop offset="0.763" stop-color="#00fffe"/><stop offset="0.998" stop-color="#00eeff"/></linearGradient><linearGradient id="gBL10" gradientUnits="userSpaceOnUse" x1="465.9" x2="981.7"><stop offset="-0.002" stop-color="#bbff71"/><stop offset="0.153" stop-color="#a4ff88"/><stop offset="0.165" stop-color="#9bff8e"/><stop offset="0.180" stop-color="#9bff8e"/><stop offset="0.192" stop-color="#93ff94"/><stop offset="0.208" stop-color="#93ff94"/><stop offset="0.219" stop-color="#8aff9b"/><stop offset="0.235" stop-color="#8aff9b"/><stop offset="0.246" stop-color="#81ffa1"/><stop offset="0.266" stop-color="#81ffa1"/><stop offset="0.277" stop-color="#78ffa8"/><stop offset="0.293" stop-color="#78ffa8"/><stop offset="0.305" stop-color="#6fffae"/><stop offset="0.320" stop-color="#6fffae"/><stop offset="0.332" stop-color="#66ffb4"/><stop offset="0.347" stop-color="#66ffb4"/><stop offset="0.351" stop-color="#57ffbb"/><stop offset="0.374" stop-color="#57ffbb"/><stop offset="0.378" stop-color="#45ffc1"/><stop offset="0.401" stop-color="#45ffc1"/><stop offset="0.405" stop-color="#33ffc8"/><stop offset="0.432" stop-color="#33ffc8"/><stop offset="0.436" stop-color="#00ffd4"/><stop offset="0.716" stop-color="#00ffee"/><stop offset="0.727" stop-color="#00fff6"/><stop offset="0.758" stop-color="#00fff6"/><stop offset="0.770" stop-color="#00fffe"/><stop offset="0.999" stop-color="#00eeff"/></linearGradient><linearGradient id="gBL11" gradientUnits="userSpaceOnUse" x1="434.7" x2="981.7"><stop offset="-0.001" stop-color="#c4ff68"/><stop offset="0.204" stop-color="#a4ff88"/><stop offset="0.214" stop-color="#9bff8e"/><stop offset="0.229" stop-color="#9bff8e"/><stop offset="0.240" stop-color="#93ff94"/><stop offset="0.255" stop-color="#93ff94"/><stop offset="0.266" stop-color="#8aff9b"/><stop offset="0.280" stop-color="#8aff9b"/><stop offset="0.291" stop-color="#81ffa1"/><stop offset="0.310" stop-color="#81ffa1"/><stop offset="0.320" stop-color="#78ffa8"/><stop offset="0.335" stop-color="#78ffa8"/><stop offset="0.346" stop-color="#6fffae"/><stop offset="0.361" stop-color="#6fffae"/><stop offset="0.372" stop-color="#66ffb4"/><stop offset="0.386" stop-color="#66ffb4"/><stop offset="0.390" stop-color="#57ffbb"/><stop offset="0.412" stop-color="#57ffbb"/><stop offset="0.416" stop-color="#45ffc1"/><stop offset="0.437" stop-color="#45ffc1"/><stop offset="0.441" stop-color="#33ffc8"/><stop offset="0.467" stop-color="#33ffc8"/><stop offset="0.470" stop-color="#00ffd4"/><stop offset="0.734" stop-color="#00ffee"/><stop offset="0.745" stop-color="#00fff6"/><stop offset="0.770" stop-color="#00fff6"/><stop offset="0.781" stop-color="#00fffe"/><stop offset="1.001" stop-color="#00eeff"/></linearGradient><linearGradient id="gBL12" gradientUnits="userSpaceOnUse" x1="403.4" x2="989.5"><stop offset="-0.001" stop-color="#c8ff63"/><stop offset="0.245" stop-color="#a4ff88"/><stop offset="0.255" stop-color="#9bff8e"/><stop offset="0.269" stop-color="#9bff8e"/><stop offset="0.279" stop-color="#93ff94"/><stop offset="0.293" stop-color="#93ff94"/><stop offset="0.303" stop-color="#8aff9b"/><stop offset="0.320" stop-color="#8aff9b"/><stop offset="0.330" stop-color="#81ffa1"/><stop offset="0.344" stop-color="#81ffa1"/><stop offset="0.354" stop-color="#78ffa8"/><stop offset="0.368" stop-color="#78ffa8"/><stop offset="0.378" stop-color="#6fffae"/><stop offset="0.392" stop-color="#6fffae"/><stop offset="0.402" stop-color="#66ffb4"/><stop offset="0.416" stop-color="#66ffb4"/><stop offset="0.419" stop-color="#57ffbb"/><stop offset="0.439" stop-color="#57ffbb"/><stop offset="0.443" stop-color="#45ffc1"/><stop offset="0.463" stop-color="#45ffc1"/><stop offset="0.467" stop-color="#33ffc8"/><stop offset="0.491" stop-color="#33ffc8"/><stop offset="0.494" stop-color="#00ffd4"/><stop offset="0.740" stop-color="#00ffee"/><stop offset="0.750" stop-color="#00fff6"/><stop offset="0.774" stop-color="#00fff6"/><stop offset="0.784" stop-color="#00fffe"/><stop offset="0.999" stop-color="#00eeff"/></linearGradient><linearGradient id="gBL13" gradientUnits="userSpaceOnUse" x1="395.6" x2="989.5"><stop offset="-0.001" stop-color="#ccff5d"/><stop offset="0.255" stop-color="#a4ff88"/><stop offset="0.265" stop-color="#9bff8e"/><stop offset="0.282" stop-color="#9bff8e"/><stop offset="0.292" stop-color="#93ff94"/><stop offset="0.305" stop-color="#93ff94"/><stop offset="0.316" stop-color="#8aff9b"/><stop offset="0.329" stop-color="#8aff9b"/><stop offset="0.339" stop-color="#81ffa1"/><stop offset="0.353" stop-color="#81ffa1"/><stop offset="0.363" stop-color="#78ffa8"/><stop offset="0.376" stop-color="#78ffa8"/><stop offset="0.386" stop-color="#6fffae"/><stop offset="0.400" stop-color="#6fffae"/><stop offset="0.410" stop-color="#66ffb4"/><stop offset="0.427" stop-color="#66ffb4"/><stop offset="0.430" stop-color="#57ffbb"/><stop offset="0.450" stop-color="#57ffbb"/><stop offset="0.454" stop-color="#45ffc1"/><stop offset="0.474" stop-color="#45ffc1"/><stop offset="0.477" stop-color="#33ffc8"/><stop offset="0.497" stop-color="#33ffc8"/><stop offset="0.501" stop-color="#00ffd4"/><stop offset="0.743" stop-color="#00ffee"/><stop offset="0.753" stop-color="#00fff6"/><stop offset="0.777" stop-color="#00fff6"/><stop offset="0.787" stop-color="#00fffe"/><stop offset="0.999" stop-color="#00eeff"/></linearGradient><linearGradient id="gBL14" gradientUnits="userSpaceOnUse" x1="387.8" x2="997.4"><stop offset="-0.001" stop-color="#ccff5d"/><stop offset="0.264" stop-color="#a4ff88"/><stop offset="0.274" stop-color="#9bff8e"/><stop offset="0.287" stop-color="#9bff8e"/><stop offset="0.297" stop-color="#93ff94"/><stop offset="0.314" stop-color="#93ff94"/><stop offset="0.324" stop-color="#8aff9b"/><stop offset="0.337" stop-color="#8aff9b"/><stop offset="0.346" stop-color="#81ffa1"/><stop offset="0.360" stop-color="#81ffa1"/><stop offset="0.369" stop-color="#78ffa8"/><stop offset="0.383" stop-color="#78ffa8"/><stop offset="0.392" stop-color="#6fffae"/><stop offset="0.406" stop-color="#6fffae"/><stop offset="0.415" stop-color="#66ffb4"/><stop offset="0.429" stop-color="#66ffb4"/><stop offset="0.432" stop-color="#57ffbb"/><stop offset="0.451" stop-color="#57ffbb"/><stop offset="0.455" stop-color="#45ffc1"/><stop offset="0.474" stop-color="#45ffc1"/><stop offset="0.478" stop-color="#33ffc8"/><stop offset="0.501" stop-color="#33ffc8"/><stop offset="0.504" stop-color="#00ffd4"/><stop offset="0.737" stop-color="#00ffee"/><stop offset="0.747" stop-color="#00fff6"/><stop offset="0.770" stop-color="#00fff6"/><stop offset="0.780" stop-color="#00fffe"/><stop offset="0.999" stop-color="#00eeff"/></linearGradient><linearGradient id="gBL15" gradientUnits="userSpaceOnUse" x1="387.8" x2="997.4"><stop offset="-0.001" stop-color="#ccff5d"/><stop offset="0.242" stop-color="#a9ff83"/><stop offset="0.268" stop-color="#a4ff88"/><stop offset="0.278" stop-color="#9bff8e"/><stop offset="0.291" stop-color="#9bff8e"/><stop offset="0.301" stop-color="#93ff94"/><stop offset="0.314" stop-color="#93ff94"/><stop offset="0.324" stop-color="#8aff9b"/><stop offset="0.337" stop-color="#8aff9b"/><stop offset="0.346" stop-color="#81ffa1"/><stop offset="0.360" stop-color="#81ffa1"/><stop offset="0.369" stop-color="#78ffa8"/><stop offset="0.383" stop-color="#78ffa8"/><stop offset="0.392" stop-color="#6fffae"/><stop offset="0.406" stop-color="#6fffae"/><stop offset="0.415" stop-color="#66ffb4"/><stop offset="0.432" stop-color="#66ffb4"/><stop offset="0.435" stop-color="#57ffbb"/><stop offset="0.455" stop-color="#57ffbb"/><stop offset="0.458" stop-color="#45ffc1"/><stop offset="0.478" stop-color="#45ffc1"/><stop offset="0.481" stop-color="#33ffc8"/><stop offset="0.501" stop-color="#33ffc8"/><stop offset="0.504" stop-color="#00ffd4"/><stop offset="0.740" stop-color="#00ffee"/><stop offset="0.750" stop-color="#00fff6"/><stop offset="0.773" stop-color="#00fff6"/><stop offset="0.783" stop-color="#00fffe"/><stop offset="0.999" stop-color="#00eeff"/></linearGradient><linearGradient id="gBL16" gradientUnits="userSpaceOnUse" x1="387.8" x2="1005.2"><stop offset="-0.001" stop-color="#d0ff57"/><stop offset="0.264" stop-color="#a4ff88"/><stop offset="0.274" stop-color="#9bff8e"/><stop offset="0.287" stop-color="#9bff8e"/><stop offset="0.297" stop-color="#93ff94"/><stop offset="0.313" stop-color="#93ff94"/><stop offset="0.323" stop-color="#8aff9b"/><stop offset="0.336" stop-color="#8aff9b"/><stop offset="0.345" stop-color="#81ffa1"/><stop offset="0.358" stop-color="#81ffa1"/><stop offset="0.368" stop-color="#78ffa8"/><stop offset="0.381" stop-color="#78ffa8"/><stop offset="0.391" stop-color="#6fffae"/><stop offset="0.404" stop-color="#6fffae"/><stop offset="0.413" stop-color="#66ffb4"/><stop offset="0.426" stop-color="#66ffb4"/><stop offset="0.430" stop-color="#57ffbb"/><stop offset="0.449" stop-color="#57ffbb"/><stop offset="0.452" stop-color="#45ffc1"/><stop offset="0.472" stop-color="#45ffc1"/><stop offset="0.475" stop-color="#33ffc8"/><stop offset="0.498" stop-color="#33ffc8"/><stop offset="0.501" stop-color="#00ffd4"/><stop offset="0.731" stop-color="#00ffee"/><stop offset="0.741" stop-color="#00fff6"/><stop offset="0.763" stop-color="#00fff6"/><stop offset="0.773" stop-color="#00fffe"/><stop offset="1.000" stop-color="#00eeff"/></linearGradient><linearGradient id="gBL17" gradientUnits="userSpaceOnUse" x1="387.8" x2="1005.2"><stop offset="-0.001" stop-color="#d0ff57"/><stop offset="0.268" stop-color="#a4ff88"/><stop offset="0.277" stop-color="#9bff8e"/><stop offset="0.290" stop-color="#9bff8e"/><stop offset="0.300" stop-color="#93ff94"/><stop offset="0.313" stop-color="#93ff94"/><stop offset="0.323" stop-color="#8aff9b"/><stop offset="0.336" stop-color="#8aff9b"/><stop offset="0.345" stop-color="#81ffa1"/><stop offset="0.358" stop-color="#81ffa1"/><stop offset="0.368" stop-color="#78ffa8"/><stop offset="0.381" stop-color="#78ffa8"/><stop offset="0.391" stop-color="#6fffae"/><stop offset="0.407" stop-color="#6fffae"/><stop offset="0.417" stop-color="#66ffb4"/><stop offset="0.430" stop-color="#66ffb4"/><stop offset="0.433" stop-color="#57ffbb"/><stop offset="0.452" stop-color="#57ffbb"/><stop offset="0.455" stop-color="#45ffc1"/><stop offset="0.475" stop-color="#45ffc1"/><stop offset="0.478" stop-color="#33ffc8"/><stop offset="0.498" stop-color="#33ffc8"/><stop offset="0.501" stop-color="#00ffd4"/><stop offset="0.731" stop-color="#00ffee"/><stop offset="0.741" stop-color="#00fff6"/><stop offset="0.763" stop-color="#00fff6"/><stop offset="0.773" stop-color="#00fffe"/><stop offset="1.000" stop-color="#00eeff"/></linearGradient><linearGradient id="gBL18" gradientUnits="userSpaceOnUse" x1="387.8" x2="1005.2"><stop offset="-0.001" stop-color="#d0ff57"/><stop offset="0.268" stop-color="#a4ff88"/><stop offset="0.277" stop-color="#9bff8e"/><stop offset="0.294" stop-color="#9bff8e"/><stop offset="0.303" stop-color="#93ff94"/><stop offset="0.316" stop-color="#93ff94"/><stop offset="0.326" stop-color="#8aff9b"/><stop offset="0.339" stop-color="#8aff9b"/><stop offset="0.349" stop-color="#81ffa1"/><stop offset="0.362" stop-color="#81ffa1"/><stop offset="0.371" stop-color="#78ffa8"/><stop offset="0.384" stop-color="#78ffa8"/><stop offset="0.394" stop-color="#6fffae"/><stop offset="0.407" stop-color="#6fffae"/><stop offset="0.417" stop-color="#66ffb4"/><stop offset="0.430" stop-color="#66ffb4"/><stop offset="0.433" stop-color="#57ffbb"/><stop offset="0.452" stop-color="#57ffbb"/><stop offset="0.455" stop-color="#45ffc1"/><stop offset="0.475" stop-color="#45ffc1"/><stop offset="0.478" stop-color="#33ffc8"/><stop offset="0.498" stop-color="#33ffc8"/><stop offset="0.501" stop-color="#00ffd4"/><stop offset="0.731" stop-color="#00ffee"/><stop offset="0.741" stop-color="#00fff6"/><stop offset="0.763" stop-color="#00fff6"/><stop offset="0.773" stop-color="#00fffe"/><stop offset="1.000" stop-color="#00eeff"/></linearGradient><linearGradient id="gBL19" gradientUnits="userSpaceOnUse" x1="387.8" x2="1005.2"><stop offset="-0.001" stop-color="#d0ff57"/><stop offset="0.271" stop-color="#a4ff88"/><stop offset="0.281" stop-color="#9bff8e"/><stop offset="0.294" stop-color="#9bff8e"/><stop offset="0.303" stop-color="#93ff94"/><stop offset="0.316" stop-color="#93ff94"/><stop offset="0.326" stop-color="#8aff9b"/><stop offset="0.339" stop-color="#8aff9b"/><stop offset="0.349" stop-color="#81ffa1"/><stop offset="0.362" stop-color="#81ffa1"/><stop offset="0.371" stop-color="#78ffa8"/><stop offset="0.384" stop-color="#78ffa8"/><stop offset="0.394" stop-color="#6fffae"/><stop offset="0.410" stop-color="#6fffae"/><stop offset="0.420" stop-color="#66ffb4"/><stop offset="0.433" stop-color="#66ffb4"/><stop offset="0.436" stop-color="#57ffbb"/><stop offset="0.455" stop-color="#57ffbb"/><stop offset="0.459" stop-color="#45ffc1"/><stop offset="0.478" stop-color="#45ffc1"/><stop offset="0.481" stop-color="#33ffc8"/><stop offset="0.501" stop-color="#33ffc8"/><stop offset="0.504" stop-color="#00ffd4"/><stop offset="0.734" stop-color="#00ffee"/><stop offset="0.744" stop-color="#00fff6"/><stop offset="0.763" stop-color="#00fff6"/><stop offset="0.773" stop-color="#00fffe"/><stop offset="1.000" stop-color="#00eeff"/></linearGradient><linearGradient id="gBL20" gradientUnits="userSpaceOnUse" x1="387.8" x2="1005.2"><stop offset="-0.001" stop-color="#d0ff57"/><stop offset="0.274" stop-color="#a4ff88"/><stop offset="0.284" stop-color="#9bff8e"/><stop offset="0.297" stop-color="#9bff8e"/><stop offset="0.306" stop-color="#93ff94"/><stop offset="0.319" stop-color="#93ff94"/><stop offset="0.329" stop-color="#8aff9b"/><stop offset="0.342" stop-color="#8aff9b"/><stop offset="0.352" stop-color="#81ffa1"/><stop offset="0.365" stop-color="#81ffa1"/><stop offset="0.375" stop-color="#78ffa8"/><stop offset="0.387" stop-color="#78ffa8"/><stop offset="0.397" stop-color="#6fffae"/><stop offset="0.410" stop-color="#6fffae"/><stop offset="0.420" stop-color="#66ffb4"/><stop offset="0.433" stop-color="#66ffb4"/><stop offset="0.436" stop-color="#57ffbb"/><stop offset="0.455" stop-color="#57ffbb"/><stop offset="0.459" stop-color="#45ffc1"/><stop offset="0.478" stop-color="#45ffc1"/><stop offset="0.481" stop-color="#33ffc8"/><stop offset="0.501" stop-color="#33ffc8"/><stop offset="0.504" stop-color="#00ffd4"/><stop offset="0.734" stop-color="#00ffee"/><stop offset="0.744" stop-color="#00fff6"/><stop offset="0.766" stop-color="#00fff6"/><stop offset="0.776" stop-color="#00fffe"/><stop offset="1.000" stop-color="#00eeff"/></linearGradient><linearGradient id="gBL21" gradientUnits="userSpaceOnUse" x1="387.8" x2="1005.2"><stop offset="-0.001" stop-color="#d0ff57"/><stop offset="0.274" stop-color="#a4ff88"/><stop offset="0.284" stop-color="#9bff8e"/><stop offset="0.297" stop-color="#9bff8e"/><stop offset="0.306" stop-color="#93ff94"/><stop offset="0.319" stop-color="#93ff94"/><stop offset="0.329" stop-color="#8aff9b"/><stop offset="0.342" stop-color="#8aff9b"/><stop offset="0.352" stop-color="#81ffa1"/><stop offset="0.368" stop-color="#81ffa1"/><stop offset="0.378" stop-color="#78ffa8"/><stop offset="0.391" stop-color="#78ffa8"/><stop offset="0.400" stop-color="#6fffae"/><stop offset="0.413" stop-color="#6fffae"/><stop offset="0.423" stop-color="#66ffb4"/><stop offset="0.436" stop-color="#66ffb4"/><stop offset="0.439" stop-color="#57ffbb"/><stop offset="0.459" stop-color="#57ffbb"/><stop offset="0.462" stop-color="#45ffc1"/><stop offset="0.481" stop-color="#45ffc1"/><stop offset="0.485" stop-color="#33ffc8"/><stop offset="0.504" stop-color="#33ffc8"/><stop offset="0.507" stop-color="#00ffd4"/><stop offset="0.734" stop-color="#00ffee"/><stop offset="0.744" stop-color="#00fff6"/><stop offset="0.766" stop-color="#00fff6"/><stop offset="0.776" stop-color="#00fffe"/><stop offset="1.000" stop-color="#00e9ff"/></linearGradient><linearGradient id="gBL22" gradientUnits="userSpaceOnUse" x1="387.8" x2="1013.0"><stop offset="-0.001" stop-color="#d0ff57"/><stop offset="0.274" stop-color="#a4ff88"/><stop offset="0.283" stop-color="#9bff8e"/><stop offset="0.296" stop-color="#9bff8e"/><stop offset="0.306" stop-color="#93ff94"/><stop offset="0.319" stop-color="#93ff94"/><stop offset="0.328" stop-color="#8aff9b"/><stop offset="0.341" stop-color="#8aff9b"/><stop offset="0.351" stop-color="#81ffa1"/><stop offset="0.363" stop-color="#81ffa1"/><stop offset="0.373" stop-color="#78ffa8"/><stop offset="0.386" stop-color="#78ffa8"/><stop offset="0.395" stop-color="#6fffae"/><stop offset="0.408" stop-color="#6fffae"/><stop offset="0.418" stop-color="#66ffb4"/><stop offset="0.431" stop-color="#66ffb4"/><stop offset="0.434" stop-color="#57ffbb"/><stop offset="0.453" stop-color="#57ffbb"/><stop offset="0.456" stop-color="#45ffc1"/><stop offset="0.475" stop-color="#45ffc1"/><stop offset="0.479" stop-color="#33ffc8"/><stop offset="0.498" stop-color="#33ffc8"/><stop offset="0.501" stop-color="#00ffd4"/><stop offset="0.728" stop-color="#00ffee"/><stop offset="0.738" stop-color="#00fff6"/><stop offset="0.757" stop-color="#00fff6"/><stop offset="0.766" stop-color="#00fffe"/><stop offset="1.000" stop-color="#00e9ff"/></linearGradient><linearGradient id="gBL23" gradientUnits="userSpaceOnUse" x1="380.0" x2="1013.0"><stop offset="-0.002" stop-color="#d0ff57"/><stop offset="0.239" stop-color="#aeff7e"/><stop offset="0.283" stop-color="#a4ff88"/><stop offset="0.292" stop-color="#9bff8e"/><stop offset="0.305" stop-color="#9bff8e"/><stop offset="0.314" stop-color="#93ff94"/><stop offset="0.330" stop-color="#93ff94"/><stop offset="0.340" stop-color="#8aff9b"/><stop offset="0.352" stop-color="#8aff9b"/><stop offset="0.362" stop-color="#81ffa1"/><stop offset="0.374" stop-color="#81ffa1"/><stop offset="0.384" stop-color="#78ffa8"/><stop offset="0.397" stop-color="#78ffa8"/><stop offset="0.406" stop-color="#6fffae"/><stop offset="0.419" stop-color="#6fffae"/><stop offset="0.428" stop-color="#66ffb4"/><stop offset="0.441" stop-color="#66ffb4"/><stop offset="0.444" stop-color="#57ffbb"/><stop offset="0.463" stop-color="#57ffbb"/><stop offset="0.466" stop-color="#45ffc1"/><stop offset="0.485" stop-color="#45ffc1"/><stop offset="0.488" stop-color="#33ffc8"/><stop offset="0.507" stop-color="#33ffc8"/><stop offset="0.510" stop-color="#00ffd4"/><stop offset="0.731" stop-color="#00ffee"/><stop offset="0.741" stop-color="#00fff6"/><stop offset="0.760" stop-color="#00fff6"/><stop offset="0.769" stop-color="#00fffe"/><stop offset="1.000" stop-color="#00e9ff"/></linearGradient><linearGradient id="gBL24" gradientUnits="userSpaceOnUse" x1="380.0" x2="1013.0"><stop offset="-0.002" stop-color="#d0ff57"/><stop offset="0.191" stop-color="#b7ff75"/><stop offset="0.286" stop-color="#a4ff88"/><stop offset="0.295" stop-color="#9bff8e"/><stop offset="0.308" stop-color="#9bff8e"/><stop offset="0.318" stop-color="#93ff94"/><stop offset="0.330" stop-color="#93ff94"/><stop offset="0.340" stop-color="#8aff9b"/><stop offset="0.352" stop-color="#8aff9b"/><stop offset="0.362" stop-color="#81ffa1"/><stop offset="0.374" stop-color="#81ffa1"/><stop offset="0.384" stop-color="#78ffa8"/><stop offset="0.397" stop-color="#78ffa8"/><stop offset="0.406" stop-color="#6fffae"/><stop offset="0.419" stop-color="#6fffae"/><stop offset="0.428" stop-color="#66ffb4"/><stop offset="0.441" stop-color="#66ffb4"/><stop offset="0.444" stop-color="#57ffbb"/><stop offset="0.463" stop-color="#57ffbb"/><stop offset="0.466" stop-color="#45ffc1"/><stop offset="0.485" stop-color="#45ffc1"/><stop offset="0.488" stop-color="#33ffc8"/><stop offset="0.507" stop-color="#33ffc8"/><stop offset="0.510" stop-color="#00ffd4"/><stop offset="0.731" stop-color="#00ffee"/><stop offset="0.741" stop-color="#00fff6"/><stop offset="0.763" stop-color="#00fff6"/><stop offset="0.773" stop-color="#00fffe"/><stop offset="1.000" stop-color="#00e9ff"/></linearGradient><linearGradient id="gBL25" gradientUnits="userSpaceOnUse" x1="380.0" x2="1013.0"><stop offset="-0.002" stop-color="#d5ff52"/><stop offset="0.286" stop-color="#a4ff88"/><stop offset="0.295" stop-color="#9bff8e"/><stop offset="0.311" stop-color="#9bff8e"/><stop offset="0.321" stop-color="#93ff94"/><stop offset="0.333" stop-color="#93ff94"/><stop offset="0.343" stop-color="#8aff9b"/><stop offset="0.355" stop-color="#8aff9b"/><stop offset="0.365" stop-color="#81ffa1"/><stop offset="0.378" stop-color="#81ffa1"/><stop offset="0.387" stop-color="#78ffa8"/><stop offset="0.400" stop-color="#78ffa8"/><stop offset="0.409" stop-color="#6fffae"/><stop offset="0.422" stop-color="#6fffae"/><stop offset="0.431" stop-color="#66ffb4"/><stop offset="0.441" stop-color="#66ffb4"/><stop offset="0.444" stop-color="#57ffbb"/><stop offset="0.463" stop-color="#57ffbb"/><stop offset="0.466" stop-color="#45ffc1"/><stop offset="0.488" stop-color="#45ffc1"/><stop offset="0.491" stop-color="#33ffc8"/><stop offset="0.510" stop-color="#33ffc8"/><stop offset="0.513" stop-color="#00ffd4"/><stop offset="0.731" stop-color="#00ffee"/><stop offset="0.741" stop-color="#00fff6"/><stop offset="0.763" stop-color="#00fff6"/><stop offset="0.773" stop-color="#00fffe"/><stop offset="1.000" stop-color="#00e9ff"/></linearGradient><linearGradient id="gBL26" gradientUnits="userSpaceOnUse" x1="380.0" x2="1013.0"><stop offset="-0.002" stop-color="#d5ff52"/><stop offset="0.289" stop-color="#a4ff88"/><stop offset="0.299" stop-color="#9bff8e"/><stop offset="0.311" stop-color="#9bff8e"/><stop offset="0.321" stop-color="#93ff94"/><stop offset="0.333" stop-color="#93ff94"/><stop offset="0.343" stop-color="#8aff9b"/><stop offset="0.355" stop-color="#8aff9b"/><stop offset="0.365" stop-color="#81ffa1"/><stop offset="0.378" stop-color="#81ffa1"/><stop offset="0.387" stop-color="#78ffa8"/><stop offset="0.400" stop-color="#78ffa8"/><stop offset="0.409" stop-color="#6fffae"/><stop offset="0.422" stop-color="#6fffae"/><stop offset="0.431" stop-color="#66ffb4"/><stop offset="0.444" stop-color="#66ffb4"/><stop offset="0.447" stop-color="#57ffbb"/><stop offset="0.466" stop-color="#57ffbb"/><stop offset="0.469" stop-color="#45ffc1"/><stop offset="0.488" stop-color="#45ffc1"/><stop offset="0.491" stop-color="#33ffc8"/><stop offset="0.510" stop-color="#33ffc8"/><stop offset="0.513" stop-color="#00ffd4"/><stop offset="0.735" stop-color="#00ffee"/><stop offset="0.744" stop-color="#00fff6"/><stop offset="0.763" stop-color="#00fff6"/><stop offset="0.773" stop-color="#00fffe"/><stop offset="1.000" stop-color="#00e9ff"/></linearGradient><linearGradient id="gBL27" gradientUnits="userSpaceOnUse" x1="380.0" x2="1013.0"><stop offset="-0.002" stop-color="#d5ff52"/><stop offset="0.292" stop-color="#a4ff88"/><stop offset="0.302" stop-color="#9bff8e"/><stop offset="0.314" stop-color="#9bff8e"/><stop offset="0.324" stop-color="#93ff94"/><stop offset="0.337" stop-color="#93ff94"/><stop offset="0.346" stop-color="#8aff9b"/><stop offset="0.359" stop-color="#8aff9b"/><stop offset="0.368" stop-color="#81ffa1"/><stop offset="0.381" stop-color="#81ffa1"/><stop offset="0.390" stop-color="#78ffa8"/><stop offset="0.403" stop-color="#78ffa8"/><stop offset="0.412" stop-color="#6fffae"/><stop offset="0.422" stop-color="#6fffae"/><stop offset="0.431" stop-color="#66ffb4"/><stop offset="0.444" stop-color="#66ffb4"/><stop offset="0.447" stop-color="#57ffbb"/><stop offset="0.466" stop-color="#57ffbb"/><stop offset="0.469" stop-color="#45ffc1"/><stop offset="0.488" stop-color="#45ffc1"/><stop offset="0.491" stop-color="#33ffc8"/><stop offset="0.513" stop-color="#33ffc8"/><stop offset="0.517" stop-color="#00ffd4"/><stop offset="0.735" stop-color="#00ffee"/><stop offset="0.744" stop-color="#00fff6"/><stop offset="0.763" stop-color="#00fff6"/><stop offset="0.773" stop-color="#00fffe"/><stop offset="1.000" stop-color="#00e9ff"/></linearGradient><linearGradient id="gBL28" gradientUnits="userSpaceOnUse" x1="380.0" x2="1013.0"><stop offset="-0.002" stop-color="#d5ff52"/><stop offset="0.292" stop-color="#a4ff88"/><stop offset="0.302" stop-color="#9bff8e"/><stop offset="0.314" stop-color="#9bff8e"/><stop offset="0.324" stop-color="#93ff94"/><stop offset="0.337" stop-color="#93ff94"/><stop offset="0.346" stop-color="#8aff9b"/><stop offset="0.359" stop-color="#8aff9b"/><stop offset="0.368" stop-color="#81ffa1"/><stop offset="0.381" stop-color="#81ffa1"/><stop offset="0.390" stop-color="#78ffa8"/><stop offset="0.403" stop-color="#78ffa8"/><stop offset="0.412" stop-color="#6fffae"/><stop offset="0.425" stop-color="#6fffae"/><stop offset="0.434" stop-color="#66ffb4"/><stop offset="0.447" stop-color="#66ffb4"/><stop offset="0.450" stop-color="#57ffbb"/><stop offset="0.469" stop-color="#57ffbb"/><stop offset="0.472" stop-color="#45ffc1"/><stop offset="0.491" stop-color="#45ffc1"/><stop offset="0.495" stop-color="#33ffc8"/><stop offset="0.513" stop-color="#33ffc8"/><stop offset="0.517" stop-color="#00ffd4"/><stop offset="0.735" stop-color="#00ffee"/><stop offset="0.744" stop-color="#00fff6"/><stop offset="0.763" stop-color="#00fff6"/><stop offset="0.773" stop-color="#00fffe"/><stop offset="1.000" stop-color="#00e9ff"/></linearGradient><linearGradient id="gBL29" gradientUnits="userSpaceOnUse" x1="380.0" x2="1013.0"><stop offset="-0.002" stop-color="#d5ff52"/><stop offset="0.270" stop-color="#a9ff83"/><stop offset="0.295" stop-color="#a4ff88"/><stop offset="0.305" stop-color="#9bff8e"/><stop offset="0.318" stop-color="#9bff8e"/><stop offset="0.327" stop-color="#93ff94"/><stop offset="0.340" stop-color="#93ff94"/><stop offset="0.349" stop-color="#8aff9b"/><stop offset="0.362" stop-color="#8aff9b"/><stop offset="0.371" stop-color="#81ffa1"/><stop offset="0.384" stop-color="#81ffa1"/><stop offset="0.393" stop-color="#78ffa8"/><stop offset="0.406" stop-color="#78ffa8"/><stop offset="0.416" stop-color="#6fffae"/><stop offset="0.425" stop-color="#6fffae"/><stop offset="0.434" stop-color="#66ffb4"/><stop offset="0.447" stop-color="#66ffb4"/><stop offset="0.450" stop-color="#57ffbb"/><stop offset="0.469" stop-color="#57ffbb"/><stop offset="0.472" stop-color="#45ffc1"/><stop offset="0.491" stop-color="#45ffc1"/><stop offset="0.495" stop-color="#33ffc8"/><stop offset="0.513" stop-color="#33ffc8"/><stop offset="0.517" stop-color="#00ffd4"/><stop offset="0.735" stop-color="#00ffee"/><stop offset="0.744" stop-color="#00fff6"/><stop offset="0.766" stop-color="#00fff6"/><stop offset="0.776" stop-color="#00fffe"/><stop offset="1.000" stop-color="#00e9ff"/></linearGradient><linearGradient id="gBL30" gradientUnits="userSpaceOnUse" x1="380.0" x2="1013.0"><stop offset="-0.002" stop-color="#d5ff52"/><stop offset="0.273" stop-color="#a9ff83"/><stop offset="0.295" stop-color="#a4ff88"/><stop offset="0.305" stop-color="#9bff8e"/><stop offset="0.318" stop-color="#9bff8e"/><stop offset="0.327" stop-color="#93ff94"/><stop offset="0.340" stop-color="#93ff94"/><stop offset="0.349" stop-color="#8aff9b"/><stop offset="0.362" stop-color="#8aff9b"/><stop offset="0.371" stop-color="#81ffa1"/><stop offset="0.384" stop-color="#81ffa1"/><stop offset="0.393" stop-color="#78ffa8"/><stop offset="0.406" stop-color="#78ffa8"/><stop offset="0.416" stop-color="#6fffae"/><stop offset="0.428" stop-color="#6fffae"/><stop offset="0.438" stop-color="#66ffb4"/><stop offset="0.450" stop-color="#66ffb4"/><stop offset="0.453" stop-color="#57ffbb"/><stop offset="0.472" stop-color="#57ffbb"/><stop offset="0.476" stop-color="#45ffc1"/><stop offset="0.495" stop-color="#45ffc1"/><stop offset="0.498" stop-color="#33ffc8"/><stop offset="0.517" stop-color="#33ffc8"/><stop offset="0.520" stop-color="#00ffd4"/><stop offset="0.738" stop-color="#00ffee"/><stop offset="0.747" stop-color="#00fff6"/><stop offset="0.766" stop-color="#00fff6"/><stop offset="0.776" stop-color="#00fffe"/><stop offset="1.000" stop-color="#00e9ff"/></linearGradient><linearGradient id="gBL31" gradientUnits="userSpaceOnUse" x1="380.0" x2="1013.0"><stop offset="-0.002" stop-color="#d5ff52"/><stop offset="0.251" stop-color="#aeff7e"/><stop offset="0.299" stop-color="#a4ff88"/><stop offset="0.308" stop-color="#9bff8e"/><stop offset="0.321" stop-color="#9bff8e"/><stop offset="0.330" stop-color="#93ff94"/><stop offset="0.343" stop-color="#93ff94"/><stop offset="0.352" stop-color="#8aff9b"/><stop offset="0.365" stop-color="#8aff9b"/><stop offset="0.374" stop-color="#81ffa1"/><stop offset="0.387" stop-color="#81ffa1"/><stop offset="0.397" stop-color="#78ffa8"/><stop offset="0.406" stop-color="#78ffa8"/><stop offset="0.416" stop-color="#6fffae"/><stop offset="0.428" stop-color="#6fffae"/><stop offset="0.438" stop-color="#66ffb4"/><stop offset="0.450" stop-color="#66ffb4"/><stop offset="0.453" stop-color="#57ffbb"/><stop offset="0.472" stop-color="#57ffbb"/><stop offset="0.476" stop-color="#45ffc1"/><stop offset="0.495" stop-color="#45ffc1"/><stop offset="0.498" stop-color="#33ffc8"/><stop offset="0.517" stop-color="#33ffc8"/><stop offset="0.520" stop-color="#00ffd4"/><stop offset="0.738" stop-color="#00ffee"/><stop offset="0.747" stop-color="#00fff6"/><stop offset="0.766" stop-color="#00fff6"/><stop offset="0.776" stop-color="#00fffe"/><stop offset="1.000" stop-color="#00e9ff"/></linearGradient><linearGradient id="gBL32" gradientUnits="userSpaceOnUse" x1="372.2" x2="1013.0"><stop offset="-0.000" stop-color="#d5ff52"/><stop offset="0.215" stop-color="#b7ff75"/><stop offset="0.309" stop-color="#a4ff88"/><stop offset="0.318" stop-color="#9bff8e"/><stop offset="0.331" stop-color="#9bff8e"/><stop offset="0.340" stop-color="#93ff94"/><stop offset="0.352" stop-color="#93ff94"/><stop offset="0.362" stop-color="#8aff9b"/><stop offset="0.374" stop-color="#8aff9b"/><stop offset="0.384" stop-color="#81ffa1"/><stop offset="0.396" stop-color="#81ffa1"/><stop offset="0.405" stop-color="#78ffa8"/><stop offset="0.415" stop-color="#78ffa8"/><stop offset="0.424" stop-color="#6fffae"/><stop offset="0.437" stop-color="#6fffae"/><stop offset="0.446" stop-color="#66ffb4"/><stop offset="0.459" stop-color="#66ffb4"/><stop offset="0.462" stop-color="#57ffbb"/><stop offset="0.480" stop-color="#57ffbb"/><stop offset="0.484" stop-color="#45ffc1"/><stop offset="0.502" stop-color="#45ffc1"/><stop offset="0.505" stop-color="#33ffc8"/><stop offset="0.524" stop-color="#33ffc8"/><stop offset="0.527" stop-color="#00ffd4"/><stop offset="0.743" stop-color="#00ffee"/><stop offset="0.752" stop-color="#00fff6"/><stop offset="0.771" stop-color="#00fff6"/><stop offset="0.780" stop-color="#00fffe"/><stop offset="0.998" stop-color="#00e9ff"/></linearGradient><linearGradient id="gBL33" gradientUnits="userSpaceOnUse" x1="372.2" x2="1013.0"><stop offset="-0.000" stop-color="#d5ff52"/><stop offset="0.218" stop-color="#b7ff75"/><stop offset="0.309" stop-color="#a4ff88"/><stop offset="0.318" stop-color="#9bff8e"/><stop offset="0.331" stop-color="#9bff8e"/><stop offset="0.340" stop-color="#93ff94"/><stop offset="0.352" stop-color="#93ff94"/><stop offset="0.362" stop-color="#8aff9b"/><stop offset="0.374" stop-color="#8aff9b"/><stop offset="0.384" stop-color="#81ffa1"/><stop offset="0.396" stop-color="#81ffa1"/><stop offset="0.405" stop-color="#78ffa8"/><stop offset="0.418" stop-color="#78ffa8"/><stop offset="0.427" stop-color="#6fffae"/><stop offset="0.440" stop-color="#6fffae"/><stop offset="0.449" stop-color="#66ffb4"/><stop offset="0.462" stop-color="#66ffb4"/><stop offset="0.465" stop-color="#57ffbb"/><stop offset="0.484" stop-color="#57ffbb"/><stop offset="0.487" stop-color="#45ffc1"/><stop offset="0.505" stop-color="#45ffc1"/><stop offset="0.508" stop-color="#33ffc8"/><stop offset="0.527" stop-color="#33ffc8"/><stop offset="0.530" stop-color="#00ffd4"/><stop offset="0.743" stop-color="#00ffee"/><stop offset="0.752" stop-color="#00fff6"/><stop offset="0.771" stop-color="#00fff6"/><stop offset="0.780" stop-color="#00fffe"/><stop offset="0.998" stop-color="#00e9ff"/></linearGradient><linearGradient id="gBL34" gradientUnits="userSpaceOnUse" x1="372.2" x2="1013.0"><stop offset="-0.000" stop-color="#d5ff52"/><stop offset="0.221" stop-color="#b7ff75"/><stop offset="0.312" stop-color="#a4ff88"/><stop offset="0.321" stop-color="#9bff8e"/><stop offset="0.334" stop-color="#9bff8e"/><stop offset="0.343" stop-color="#93ff94"/><stop offset="0.356" stop-color="#93ff94"/><stop offset="0.365" stop-color="#8aff9b"/><stop offset="0.377" stop-color="#8aff9b"/><stop offset="0.387" stop-color="#81ffa1"/><stop offset="0.399" stop-color="#81ffa1"/><stop offset="0.409" stop-color="#78ffa8"/><stop offset="0.418" stop-color="#78ffa8"/><stop offset="0.427" stop-color="#6fffae"/><stop offset="0.440" stop-color="#6fffae"/><stop offset="0.449" stop-color="#66ffb4"/><stop offset="0.462" stop-color="#66ffb4"/><stop offset="0.465" stop-color="#57ffbb"/><stop offset="0.484" stop-color="#57ffbb"/><stop offset="0.487" stop-color="#45ffc1"/><stop offset="0.505" stop-color="#45ffc1"/><stop offset="0.508" stop-color="#33ffc8"/><stop offset="0.527" stop-color="#33ffc8"/><stop offset="0.530" stop-color="#00ffd4"/><stop offset="0.743" stop-color="#00ffee"/><stop offset="0.752" stop-color="#00fff6"/><stop offset="0.771" stop-color="#00fff6"/><stop offset="0.780" stop-color="#00fffe"/><stop offset="0.998" stop-color="#00e9ff"/></linearGradient><linearGradient id="gBL35" gradientUnits="userSpaceOnUse" x1="372.2" x2="1013.0"><stop offset="-0.000" stop-color="#d9ff4c"/><stop offset="0.290" stop-color="#a9ff83"/><stop offset="0.312" stop-color="#a4ff88"/><stop offset="0.321" stop-color="#9bff8e"/><stop offset="0.334" stop-color="#9bff8e"/><stop offset="0.343" stop-color="#93ff94"/><stop offset="0.356" stop-color="#93ff94"/><stop offset="0.365" stop-color="#8aff9b"/><stop offset="0.377" stop-color="#8aff9b"/><stop offset="0.387" stop-color="#81ffa1"/><stop offset="0.399" stop-color="#81ffa1"/><stop offset="0.409" stop-color="#78ffa8"/><stop offset="0.421" stop-color="#78ffa8"/><stop offset="0.430" stop-color="#6fffae"/><stop offset="0.443" stop-color="#6fffae"/><stop offset="0.452" stop-color="#66ffb4"/><stop offset="0.465" stop-color="#66ffb4"/><stop offset="0.468" stop-color="#57ffbb"/><stop offset="0.487" stop-color="#57ffbb"/><stop offset="0.490" stop-color="#45ffc1"/><stop offset="0.505" stop-color="#45ffc1"/><stop offset="0.508" stop-color="#33ffc8"/><stop offset="0.527" stop-color="#33ffc8"/><stop offset="0.530" stop-color="#00ffd4"/><stop offset="0.746" stop-color="#00ffee"/><stop offset="0.755" stop-color="#00fff6"/><stop offset="0.774" stop-color="#00fff6"/><stop offset="0.783" stop-color="#00fffe"/><stop offset="0.998" stop-color="#00e9ff"/></linearGradient><linearGradient id="gBL36" gradientUnits="userSpaceOnUse" x1="372.2" x2="1020.8"><stop offset="-0.000" stop-color="#d9ff4c"/><stop offset="0.311" stop-color="#a4ff88"/><stop offset="0.320" stop-color="#9bff8e"/><stop offset="0.333" stop-color="#9bff8e"/><stop offset="0.342" stop-color="#93ff94"/><stop offset="0.354" stop-color="#93ff94"/><stop offset="0.364" stop-color="#8aff9b"/><stop offset="0.376" stop-color="#8aff9b"/><stop offset="0.385" stop-color="#81ffa1"/><stop offset="0.394" stop-color="#81ffa1"/><stop offset="0.404" stop-color="#78ffa8"/><stop offset="0.416" stop-color="#78ffa8"/><stop offset="0.425" stop-color="#6fffae"/><stop offset="0.438" stop-color="#6fffae"/><stop offset="0.447" stop-color="#66ffb4"/><stop offset="0.459" stop-color="#66ffb4"/><stop offset="0.462" stop-color="#57ffbb"/><stop offset="0.481" stop-color="#57ffbb"/><stop offset="0.484" stop-color="#45ffc1"/><stop offset="0.502" stop-color="#45ffc1"/><stop offset="0.505" stop-color="#33ffc8"/><stop offset="0.524" stop-color="#33ffc8"/><stop offset="0.527" stop-color="#00ffd4"/><stop offset="0.737" stop-color="#00ffee"/><stop offset="0.746" stop-color="#00fff6"/><stop offset="0.764" stop-color="#00fff6"/><stop offset="0.774" stop-color="#00fffe"/><stop offset="0.999" stop-color="#00e9ff"/></linearGradient><linearGradient id="gBL37" gradientUnits="userSpaceOnUse" x1="372.2" x2="1020.8"><stop offset="-0.000" stop-color="#d9ff4c"/><stop offset="0.290" stop-color="#a9ff83"/><stop offset="0.311" stop-color="#a4ff88"/><stop offset="0.320" stop-color="#9bff8e"/><stop offset="0.333" stop-color="#9bff8e"/><stop offset="0.342" stop-color="#93ff94"/><stop offset="0.354" stop-color="#93ff94"/><stop offset="0.364" stop-color="#8aff9b"/><stop offset="0.376" stop-color="#8aff9b"/><stop offset="0.385" stop-color="#81ffa1"/><stop offset="0.398" stop-color="#81ffa1"/><stop offset="0.407" stop-color="#78ffa8"/><stop offset="0.419" stop-color="#78ffa8"/><stop offset="0.428" stop-color="#6fffae"/><stop offset="0.441" stop-color="#6fffae"/><stop offset="0.450" stop-color="#66ffb4"/><stop offset="0.462" stop-color="#66ffb4"/><stop offset="0.465" stop-color="#57ffbb"/><stop offset="0.481" stop-color="#57ffbb"/><stop offset="0.484" stop-color="#45ffc1"/><stop offset="0.502" stop-color="#45ffc1"/><stop offset="0.505" stop-color="#33ffc8"/><stop offset="0.524" stop-color="#33ffc8"/><stop offset="0.527" stop-color="#00ffd4"/><stop offset="0.737" stop-color="#00ffee"/><stop offset="0.746" stop-color="#00fff6"/><stop offset="0.764" stop-color="#00fff6"/><stop offset="0.774" stop-color="#00fffe"/><stop offset="0.999" stop-color="#00e9ff"/></linearGradient><linearGradient id="gBL38" gradientUnits="userSpaceOnUse" x1="372.2" x2="1020.8"><stop offset="-0.000" stop-color="#d9ff4c"/><stop offset="0.293" stop-color="#a9ff83"/><stop offset="0.314" stop-color="#a4ff88"/><stop offset="0.324" stop-color="#9bff8e"/><stop offset="0.336" stop-color="#9bff8e"/><stop offset="0.345" stop-color="#93ff94"/><stop offset="0.357" stop-color="#93ff94"/><stop offset="0.367" stop-color="#8aff9b"/><stop offset="0.379" stop-color="#8aff9b"/><stop offset="0.388" stop-color="#81ffa1"/><stop offset="0.398" stop-color="#81ffa1"/><stop offset="0.407" stop-color="#78ffa8"/><stop offset="0.419" stop-color="#78ffa8"/><stop offset="0.428" stop-color="#6fffae"/><stop offset="0.441" stop-color="#6fffae"/><stop offset="0.450" stop-color="#66ffb4"/><stop offset="0.462" stop-color="#66ffb4"/><stop offset="0.465" stop-color="#57ffbb"/><stop offset="0.484" stop-color="#57ffbb"/><stop offset="0.487" stop-color="#45ffc1"/><stop offset="0.505" stop-color="#45ffc1"/><stop offset="0.509" stop-color="#33ffc8"/><stop offset="0.527" stop-color="#33ffc8"/><stop offset="0.530" stop-color="#00ffd4"/><stop offset="0.737" stop-color="#00ffee"/><stop offset="0.746" stop-color="#00fff6"/><stop offset="0.764" stop-color="#00fff6"/><stop offset="0.774" stop-color="#00fffe"/><stop offset="0.999" stop-color="#00e9ff"/></linearGradient><linearGradient id="gBL39" gradientUnits="userSpaceOnUse" x1="372.2" x2="1020.8"><stop offset="-0.000" stop-color="#d9ff4c"/><stop offset="0.271" stop-color="#aeff7e"/><stop offset="0.314" stop-color="#a4ff88"/><stop offset="0.324" stop-color="#9bff8e"/><stop offset="0.336" stop-color="#9bff8e"/><stop offset="0.345" stop-color="#93ff94"/><stop offset="0.357" stop-color="#93ff94"/><stop offset="0.367" stop-color="#8aff9b"/><stop offset="0.379" stop-color="#8aff9b"/><stop offset="0.388" stop-color="#81ffa1"/><stop offset="0.401" stop-color="#81ffa1"/><stop offset="0.410" stop-color="#78ffa8"/><stop offset="0.422" stop-color="#78ffa8"/><stop offset="0.431" stop-color="#6fffae"/><stop offset="0.444" stop-color="#6fffae"/><stop offset="0.453" stop-color="#66ffb4"/><stop offset="0.462" stop-color="#66ffb4"/><stop offset="0.465" stop-color="#57ffbb"/><stop offset="0.484" stop-color="#57ffbb"/><stop offset="0.487" stop-color="#45ffc1"/><stop offset="0.505" stop-color="#45ffc1"/><stop offset="0.509" stop-color="#33ffc8"/><stop offset="0.527" stop-color="#33ffc8"/><stop offset="0.530" stop-color="#00ffd4"/><stop offset="0.740" stop-color="#00ffee"/><stop offset="0.749" stop-color="#00fff6"/><stop offset="0.768" stop-color="#00fff6"/><stop offset="0.777" stop-color="#00fffe"/><stop offset="0.999" stop-color="#00e9ff"/></linearGradient><linearGradient id="gBL40" gradientUnits="userSpaceOnUse" x1="372.2" x2="1020.8"><stop offset="-0.000" stop-color="#d9ff4c"/><stop offset="0.271" stop-color="#aeff7e"/><stop offset="0.317" stop-color="#a4ff88"/><stop offset="0.327" stop-color="#9bff8e"/><stop offset="0.339" stop-color="#9bff8e"/><stop offset="0.348" stop-color="#93ff94"/><stop offset="0.361" stop-color="#93ff94"/><stop offset="0.370" stop-color="#8aff9b"/><stop offset="0.379" stop-color="#8aff9b"/><stop offset="0.388" stop-color="#81ffa1"/><stop offset="0.401" stop-color="#81ffa1"/><stop offset="0.410" stop-color="#78ffa8"/><stop offset="0.422" stop-color="#78ffa8"/><stop offset="0.431" stop-color="#6fffae"/><stop offset="0.444" stop-color="#6fffae"/><stop offset="0.453" stop-color="#66ffb4"/><stop offset="0.465" stop-color="#66ffb4"/><stop offset="0.468" stop-color="#57ffbb"/><stop offset="0.487" stop-color="#57ffbb"/><stop offset="0.490" stop-color="#45ffc1"/><stop offset="0.509" stop-color="#45ffc1"/><stop offset="0.512" stop-color="#33ffc8"/><stop offset="0.530" stop-color="#33ffc8"/><stop offset="0.533" stop-color="#00ffd4"/><stop offset="0.740" stop-color="#00ffee"/><stop offset="0.749" stop-color="#00fff6"/><stop offset="0.768" stop-color="#00fff6"/><stop offset="0.777" stop-color="#00fffe"/><stop offset="0.999" stop-color="#00e9ff"/></linearGradient><linearGradient id="gBL41" gradientUnits="userSpaceOnUse" x1="372.2" x2="1020.8"><stop offset="-0.000" stop-color="#d9ff4c"/><stop offset="0.274" stop-color="#aeff7e"/><stop offset="0.317" stop-color="#a4ff88"/><stop offset="0.327" stop-color="#9bff8e"/><stop offset="0.339" stop-color="#9bff8e"/><stop offset="0.348" stop-color="#93ff94"/><stop offset="0.361" stop-color="#93ff94"/><stop offset="0.370" stop-color="#8aff9b"/><stop offset="0.382" stop-color="#8aff9b"/><stop offset="0.391" stop-color="#81ffa1"/><stop offset="0.404" stop-color="#81ffa1"/><stop offset="0.413" stop-color="#78ffa8"/><stop offset="0.425" stop-color="#78ffa8"/><stop offset="0.435" stop-color="#6fffae"/><stop offset="0.444" stop-color="#6fffae"/><stop offset="0.453" stop-color="#66ffb4"/><stop offset="0.465" stop-color="#66ffb4"/><stop offset="0.468" stop-color="#57ffbb"/><stop offset="0.487" stop-color="#57ffbb"/><stop offset="0.490" stop-color="#45ffc1"/><stop offset="0.509" stop-color="#45ffc1"/><stop offset="0.512" stop-color="#33ffc8"/><stop offset="0.530" stop-color="#33ffc8"/><stop offset="0.533" stop-color="#00ffd4"/><stop offset="0.740" stop-color="#00ffee"/><stop offset="0.749" stop-color="#00fff6"/><stop offset="0.768" stop-color="#00fff6"/><stop offset="0.777" stop-color="#00fffe"/><stop offset="0.999" stop-color="#00e9ff"/></linearGradient><linearGradient id="gBL42" gradientUnits="userSpaceOnUse" x1="372.2" x2="1013.0"><stop offset="-0.000" stop-color="#d9ff4c"/><stop offset="0.278" stop-color="#aeff7e"/><stop offset="0.324" stop-color="#a4ff88"/><stop offset="0.334" stop-color="#9bff8e"/><stop offset="0.346" stop-color="#9bff8e"/><stop offset="0.356" stop-color="#93ff94"/><stop offset="0.368" stop-color="#93ff94"/><stop offset="0.377" stop-color="#8aff9b"/><stop offset="0.387" stop-color="#8aff9b"/><stop offset="0.396" stop-color="#81ffa1"/><stop offset="0.409" stop-color="#81ffa1"/><stop offset="0.418" stop-color="#78ffa8"/><stop offset="0.430" stop-color="#78ffa8"/><stop offset="0.440" stop-color="#6fffae"/><stop offset="0.452" stop-color="#6fffae"/><stop offset="0.462" stop-color="#66ffb4"/><stop offset="0.474" stop-color="#66ffb4"/><stop offset="0.477" stop-color="#57ffbb"/><stop offset="0.496" stop-color="#57ffbb"/><stop offset="0.499" stop-color="#45ffc1"/><stop offset="0.515" stop-color="#45ffc1"/><stop offset="0.518" stop-color="#33ffc8"/><stop offset="0.537" stop-color="#33ffc8"/><stop offset="0.540" stop-color="#00ffd4"/><stop offset="0.752" stop-color="#00ffee"/><stop offset="0.761" stop-color="#00fff6"/><stop offset="0.777" stop-color="#00fff6"/><stop offset="0.786" stop-color="#00fffe"/><stop offset="0.998" stop-color="#00e9ff"/></linearGradient><linearGradient id="gBL43" gradientUnits="userSpaceOnUse" x1="372.2" x2="1013.0"><stop offset="-0.000" stop-color="#d9ff4c"/><stop offset="0.259" stop-color="#b2ff7a"/><stop offset="0.324" stop-color="#a4ff88"/><stop offset="0.334" stop-color="#9bff8e"/><stop offset="0.346" stop-color="#9bff8e"/><stop offset="0.356" stop-color="#93ff94"/><stop offset="0.368" stop-color="#93ff94"/><stop offset="0.377" stop-color="#8aff9b"/><stop offset="0.390" stop-color="#8aff9b"/><stop offset="0.399" stop-color="#81ffa1"/><stop offset="0.412" stop-color="#81ffa1"/><stop offset="0.421" stop-color="#78ffa8"/><stop offset="0.430" stop-color="#78ffa8"/><stop offset="0.440" stop-color="#6fffae"/><stop offset="0.452" stop-color="#6fffae"/><stop offset="0.462" stop-color="#66ffb4"/><stop offset="0.474" stop-color="#66ffb4"/><stop offset="0.477" stop-color="#57ffbb"/><stop offset="0.496" stop-color="#57ffbb"/><stop offset="0.499" stop-color="#45ffc1"/><stop offset="0.518" stop-color="#45ffc1"/><stop offset="0.521" stop-color="#33ffc8"/><stop offset="0.540" stop-color="#33ffc8"/><stop offset="0.543" stop-color="#00ffd4"/><stop offset="0.752" stop-color="#00ffee"/><stop offset="0.761" stop-color="#00fff6"/><stop offset="0.780" stop-color="#00fff6"/><stop offset="0.789" stop-color="#00fffe"/><stop offset="0.998" stop-color="#00e9ff"/></linearGradient><linearGradient id="gBL44" gradientUnits="userSpaceOnUse" x1="364.3" x2="1013.0"><stop offset="-0.001" stop-color="#d9ff4c"/><stop offset="0.221" stop-color="#bbff71"/><stop offset="0.336" stop-color="#a4ff88"/><stop offset="0.345" stop-color="#9bff8e"/><stop offset="0.357" stop-color="#9bff8e"/><stop offset="0.366" stop-color="#93ff94"/><stop offset="0.376" stop-color="#93ff94"/><stop offset="0.385" stop-color="#8aff9b"/><stop offset="0.397" stop-color="#8aff9b"/><stop offset="0.406" stop-color="#81ffa1"/><stop offset="0.419" stop-color="#81ffa1"/><stop offset="0.428" stop-color="#78ffa8"/><stop offset="0.440" stop-color="#78ffa8"/><stop offset="0.450" stop-color="#6fffae"/><stop offset="0.462" stop-color="#6fffae"/><stop offset="0.471" stop-color="#66ffb4"/><stop offset="0.484" stop-color="#66ffb4"/><stop offset="0.487" stop-color="#57ffbb"/><stop offset="0.502" stop-color="#57ffbb"/><stop offset="0.505" stop-color="#45ffc1"/><stop offset="0.524" stop-color="#45ffc1"/><stop offset="0.527" stop-color="#33ffc8"/><stop offset="0.545" stop-color="#33ffc8"/><stop offset="0.548" stop-color="#00ffd4"/><stop offset="0.755" stop-color="#00ffee"/><stop offset="0.764" stop-color="#00fff6"/><stop offset="0.783" stop-color="#00fff6"/><stop offset="0.792" stop-color="#00fffe"/><stop offset="0.998" stop-color="#00e9ff"/></linearGradient><linearGradient id="gBL45" gradientUnits="userSpaceOnUse" x1="364.3" x2="1013.0"><stop offset="-0.001" stop-color="#d9ff4c"/><stop offset="0.147" stop-color="#c8ff63"/><stop offset="0.336" stop-color="#a4ff88"/><stop offset="0.345" stop-color="#9bff8e"/><stop offset="0.357" stop-color="#9bff8e"/><stop offset="0.366" stop-color="#93ff94"/><stop offset="0.379" stop-color="#93ff94"/><stop offset="0.388" stop-color="#8aff9b"/><stop offset="0.400" stop-color="#8aff9b"/><stop offset="0.410" stop-color="#81ffa1"/><stop offset="0.422" stop-color="#81ffa1"/><stop offset="0.431" stop-color="#78ffa8"/><stop offset="0.440" stop-color="#78ffa8"/><stop offset="0.450" stop-color="#6fffae"/><stop offset="0.462" stop-color="#6fffae"/><stop offset="0.471" stop-color="#66ffb4"/><stop offset="0.484" stop-color="#66ffb4"/><stop offset="0.487" stop-color="#57ffbb"/><stop offset="0.505" stop-color="#57ffbb"/><stop offset="0.508" stop-color="#45ffc1"/><stop offset="0.527" stop-color="#45ffc1"/><stop offset="0.530" stop-color="#33ffc8"/><stop offset="0.548" stop-color="#33ffc8"/><stop offset="0.551" stop-color="#00ffd4"/><stop offset="0.755" stop-color="#00ffee"/><stop offset="0.764" stop-color="#00fff6"/><stop offset="0.783" stop-color="#00fff6"/><stop offset="0.792" stop-color="#00fffe"/><stop offset="0.998" stop-color="#00e9ff"/></linearGradient><linearGradient id="gBL46" gradientUnits="userSpaceOnUse" x1="364.3" x2="1013.0"><stop offset="-0.001" stop-color="#d9ff4c"/><stop offset="0.151" stop-color="#c8ff63"/><stop offset="0.336" stop-color="#a4ff88"/><stop offset="0.345" stop-color="#9bff8e"/><stop offset="0.357" stop-color="#9bff8e"/><stop offset="0.366" stop-color="#93ff94"/><stop offset="0.379" stop-color="#93ff94"/><stop offset="0.388" stop-color="#8aff9b"/><stop offset="0.400" stop-color="#8aff9b"/><stop offset="0.410" stop-color="#81ffa1"/><stop offset="0.422" stop-color="#81ffa1"/><stop offset="0.431" stop-color="#78ffa8"/><stop offset="0.443" stop-color="#78ffa8"/><stop offset="0.453" stop-color="#6fffae"/><stop offset="0.465" stop-color="#6fffae"/><stop offset="0.474" stop-color="#66ffb4"/><stop offset="0.484" stop-color="#66ffb4"/><stop offset="0.487" stop-color="#57ffbb"/><stop offset="0.505" stop-color="#57ffbb"/><stop offset="0.508" stop-color="#45ffc1"/><stop offset="0.527" stop-color="#45ffc1"/><stop offset="0.530" stop-color="#33ffc8"/><stop offset="0.548" stop-color="#33ffc8"/><stop offset="0.551" stop-color="#00ffd4"/><stop offset="0.758" stop-color="#00ffee"/><stop offset="0.767" stop-color="#00fff6"/><stop offset="0.783" stop-color="#00fff6"/><stop offset="0.792" stop-color="#00fffe"/><stop offset="0.998" stop-color="#00e9ff"/></linearGradient><linearGradient id="gBL47" gradientUnits="userSpaceOnUse" x1="364.3" x2="1005.2"><stop offset="-0.001" stop-color="#d9ff4c"/><stop offset="0.096" stop-color="#d0ff57"/><stop offset="0.343" stop-color="#a4ff88"/><stop offset="0.352" stop-color="#9bff8e"/><stop offset="0.365" stop-color="#9bff8e"/><stop offset="0.374" stop-color="#93ff94"/><stop offset="0.386" stop-color="#93ff94"/><stop offset="0.396" stop-color="#8aff9b"/><stop offset="0.408" stop-color="#8aff9b"/><stop offset="0.418" stop-color="#81ffa1"/><stop offset="0.427" stop-color="#81ffa1"/><stop offset="0.436" stop-color="#78ffa8"/><stop offset="0.449" stop-color="#78ffa8"/><stop offset="0.458" stop-color="#6fffae"/><stop offset="0.471" stop-color="#6fffae"/><stop offset="0.480" stop-color="#66ffb4"/><stop offset="0.493" stop-color="#66ffb4"/><stop offset="0.496" stop-color="#57ffbb"/><stop offset="0.514" stop-color="#57ffbb"/><stop offset="0.518" stop-color="#45ffc1"/><stop offset="0.533" stop-color="#45ffc1"/><stop offset="0.536" stop-color="#33ffc8"/><stop offset="0.555" stop-color="#33ffc8"/><stop offset="0.558" stop-color="#00ffd4"/><stop offset="0.767" stop-color="#00ffee"/><stop offset="0.777" stop-color="#00fff6"/><stop offset="0.795" stop-color="#00fff6"/><stop offset="0.805" stop-color="#00fffe"/><stop offset="1.001" stop-color="#00e9ff"/></linearGradient><linearGradient id="gBL48" gradientUnits="userSpaceOnUse" x1="364.3" x2="1005.2"><stop offset="-0.001" stop-color="#ddff46"/><stop offset="0.299" stop-color="#aeff7e"/><stop offset="0.343" stop-color="#a4ff88"/><stop offset="0.352" stop-color="#9bff8e"/><stop offset="0.365" stop-color="#9bff8e"/><stop offset="0.374" stop-color="#93ff94"/><stop offset="0.386" stop-color="#93ff94"/><stop offset="0.396" stop-color="#8aff9b"/><stop offset="0.408" stop-color="#8aff9b"/><stop offset="0.418" stop-color="#81ffa1"/><stop offset="0.430" stop-color="#81ffa1"/><stop offset="0.440" stop-color="#78ffa8"/><stop offset="0.452" stop-color="#78ffa8"/><stop offset="0.461" stop-color="#6fffae"/><stop offset="0.471" stop-color="#6fffae"/><stop offset="0.480" stop-color="#66ffb4"/><stop offset="0.493" stop-color="#66ffb4"/><stop offset="0.496" stop-color="#57ffbb"/><stop offset="0.514" stop-color="#57ffbb"/><stop offset="0.518" stop-color="#45ffc1"/><stop offset="0.536" stop-color="#45ffc1"/><stop offset="0.539" stop-color="#33ffc8"/><stop offset="0.558" stop-color="#33ffc8"/><stop offset="0.561" stop-color="#00ffd4"/><stop offset="0.767" stop-color="#00ffee"/><stop offset="0.777" stop-color="#00fff6"/><stop offset="0.795" stop-color="#00fff6"/><stop offset="0.805" stop-color="#00fffe"/><stop offset="1.001" stop-color="#00e9ff"/></linearGradient><linearGradient id="gBL49" gradientUnits="userSpaceOnUse" x1="364.3" x2="1005.2"><stop offset="-0.001" stop-color="#ddff46"/><stop offset="0.277" stop-color="#b2ff7a"/><stop offset="0.346" stop-color="#a4ff88"/><stop offset="0.355" stop-color="#9bff8e"/><stop offset="0.368" stop-color="#9bff8e"/><stop offset="0.377" stop-color="#93ff94"/><stop offset="0.390" stop-color="#93ff94"/><stop offset="0.399" stop-color="#8aff9b"/><stop offset="0.408" stop-color="#8aff9b"/><stop offset="0.418" stop-color="#81ffa1"/><stop offset="0.430" stop-color="#81ffa1"/><stop offset="0.440" stop-color="#78ffa8"/><stop offset="0.452" stop-color="#78ffa8"/><stop offset="0.461" stop-color="#6fffae"/><stop offset="0.474" stop-color="#6fffae"/><stop offset="0.483" stop-color="#66ffb4"/><stop offset="0.496" stop-color="#66ffb4"/><stop offset="0.499" stop-color="#57ffbb"/><stop offset="0.514" stop-color="#57ffbb"/><stop offset="0.518" stop-color="#45ffc1"/><stop offset="0.536" stop-color="#45ffc1"/><stop offset="0.539" stop-color="#33ffc8"/><stop offset="0.558" stop-color="#33ffc8"/><stop offset="0.561" stop-color="#00ffd4"/><stop offset="0.767" stop-color="#00ffee"/><stop offset="0.777" stop-color="#00fff6"/><stop offset="0.795" stop-color="#00fff6"/><stop offset="0.805" stop-color="#00fffe"/><stop offset="1.001" stop-color="#00e9ff"/></linearGradient><linearGradient id="gBL50" gradientUnits="userSpaceOnUse" x1="364.3" x2="997.4"><stop offset="-0.001" stop-color="#ddff46"/><stop offset="0.306" stop-color="#aeff7e"/><stop offset="0.350" stop-color="#a4ff88"/><stop offset="0.360" stop-color="#9bff8e"/><stop offset="0.372" stop-color="#9bff8e"/><stop offset="0.382" stop-color="#93ff94"/><stop offset="0.394" stop-color="#93ff94"/><stop offset="0.404" stop-color="#8aff9b"/><stop offset="0.417" stop-color="#8aff9b"/><stop offset="0.426" stop-color="#81ffa1"/><stop offset="0.439" stop-color="#81ffa1"/><stop offset="0.448" stop-color="#78ffa8"/><stop offset="0.458" stop-color="#78ffa8"/><stop offset="0.467" stop-color="#6fffae"/><stop offset="0.480" stop-color="#6fffae"/><stop offset="0.489" stop-color="#66ffb4"/><stop offset="0.502" stop-color="#66ffb4"/><stop offset="0.505" stop-color="#57ffbb"/><stop offset="0.524" stop-color="#57ffbb"/><stop offset="0.527" stop-color="#45ffc1"/><stop offset="0.546" stop-color="#45ffc1"/><stop offset="0.549" stop-color="#33ffc8"/><stop offset="0.565" stop-color="#33ffc8"/><stop offset="0.568" stop-color="#00ffd4"/><stop offset="0.780" stop-color="#00ffee"/><stop offset="0.789" stop-color="#00fff6"/><stop offset="0.805" stop-color="#00fff6"/><stop offset="0.815" stop-color="#00fffe"/><stop offset="1.001" stop-color="#00e9ff"/></linearGradient><linearGradient id="gBL51" gradientUnits="userSpaceOnUse" x1="364.3" x2="997.4"><stop offset="-0.001" stop-color="#ddff46"/><stop offset="0.284" stop-color="#b2ff7a"/><stop offset="0.353" stop-color="#a4ff88"/><stop offset="0.363" stop-color="#9bff8e"/><stop offset="0.375" stop-color="#9bff8e"/><stop offset="0.385" stop-color="#93ff94"/><stop offset="0.394" stop-color="#93ff94"/><stop offset="0.404" stop-color="#8aff9b"/><stop offset="0.417" stop-color="#8aff9b"/><stop offset="0.426" stop-color="#81ffa1"/><stop offset="0.439" stop-color="#81ffa1"/><stop offset="0.448" stop-color="#78ffa8"/><stop offset="0.461" stop-color="#78ffa8"/><stop offset="0.470" stop-color="#6fffae"/><stop offset="0.483" stop-color="#6fffae"/><stop offset="0.492" stop-color="#66ffb4"/><stop offset="0.502" stop-color="#66ffb4"/><stop offset="0.505" stop-color="#57ffbb"/><stop offset="0.524" stop-color="#57ffbb"/><stop offset="0.527" stop-color="#45ffc1"/><stop offset="0.546" stop-color="#45ffc1"/><stop offset="0.549" stop-color="#33ffc8"/><stop offset="0.568" stop-color="#33ffc8"/><stop offset="0.571" stop-color="#00ffd4"/><stop offset="0.780" stop-color="#00ffee"/><stop offset="0.789" stop-color="#00fff6"/><stop offset="0.808" stop-color="#00fff6"/><stop offset="0.818" stop-color="#00fffe"/><stop offset="1.001" stop-color="#00e9ff"/></linearGradient><linearGradient id="gBL52" gradientUnits="userSpaceOnUse" x1="364.3" x2="989.5"><stop offset="-0.001" stop-color="#ddff46"/><stop offset="0.291" stop-color="#b2ff7a"/><stop offset="0.358" stop-color="#a4ff88"/><stop offset="0.367" stop-color="#9bff8e"/><stop offset="0.380" stop-color="#9bff8e"/><stop offset="0.390" stop-color="#93ff94"/><stop offset="0.403" stop-color="#93ff94"/><stop offset="0.412" stop-color="#8aff9b"/><stop offset="0.425" stop-color="#8aff9b"/><stop offset="0.435" stop-color="#81ffa1"/><stop offset="0.444" stop-color="#81ffa1"/><stop offset="0.454" stop-color="#78ffa8"/><stop offset="0.467" stop-color="#78ffa8"/><stop offset="0.476" stop-color="#6fffae"/><stop offset="0.489" stop-color="#6fffae"/><stop offset="0.498" stop-color="#66ffb4"/><stop offset="0.511" stop-color="#66ffb4"/><stop offset="0.514" stop-color="#57ffbb"/><stop offset="0.534" stop-color="#57ffbb"/><stop offset="0.537" stop-color="#45ffc1"/><stop offset="0.553" stop-color="#45ffc1"/><stop offset="0.556" stop-color="#33ffc8"/><stop offset="0.575" stop-color="#33ffc8"/><stop offset="0.578" stop-color="#00ffd4"/><stop offset="0.790" stop-color="#00ffee"/><stop offset="0.799" stop-color="#00fff6"/><stop offset="0.818" stop-color="#00fff6"/><stop offset="0.828" stop-color="#00fffe"/><stop offset="1.001" stop-color="#00e9ff"/></linearGradient><linearGradient id="gBL53" gradientUnits="userSpaceOnUse" x1="364.3" x2="989.5"><stop offset="-0.001" stop-color="#ddff46"/><stop offset="0.291" stop-color="#b2ff7a"/><stop offset="0.358" stop-color="#a4ff88"/><stop offset="0.367" stop-color="#9bff8e"/><stop offset="0.380" stop-color="#9bff8e"/><stop offset="0.390" stop-color="#93ff94"/><stop offset="0.403" stop-color="#93ff94"/><stop offset="0.412" stop-color="#8aff9b"/><stop offset="0.425" stop-color="#8aff9b"/><stop offset="0.435" stop-color="#81ffa1"/><stop offset="0.447" stop-color="#81ffa1"/><stop offset="0.457" stop-color="#78ffa8"/><stop offset="0.470" stop-color="#78ffa8"/><stop offset="0.479" stop-color="#6fffae"/><stop offset="0.489" stop-color="#6fffae"/><stop offset="0.498" stop-color="#66ffb4"/><stop offset="0.511" stop-color="#66ffb4"/><stop offset="0.514" stop-color="#57ffbb"/><stop offset="0.534" stop-color="#57ffbb"/><stop offset="0.537" stop-color="#45ffc1"/><stop offset="0.556" stop-color="#45ffc1"/><stop offset="0.559" stop-color="#33ffc8"/><stop offset="0.578" stop-color="#33ffc8"/><stop offset="0.582" stop-color="#00ffd4"/><stop offset="0.793" stop-color="#00ffee"/><stop offset="0.802" stop-color="#00fff6"/><stop offset="0.818" stop-color="#00fff6"/><stop offset="0.828" stop-color="#00fffe"/><stop offset="1.001" stop-color="#00e9ff"/></linearGradient><linearGradient id="gBL54" gradientUnits="userSpaceOnUse" x1="364.3" x2="981.7"><stop offset="-0.001" stop-color="#ddff46"/><stop offset="0.272" stop-color="#b7ff75"/><stop offset="0.366" stop-color="#a4ff88"/><stop offset="0.375" stop-color="#9bff8e"/><stop offset="0.388" stop-color="#9bff8e"/><stop offset="0.398" stop-color="#93ff94"/><stop offset="0.411" stop-color="#93ff94"/><stop offset="0.421" stop-color="#8aff9b"/><stop offset="0.434" stop-color="#8aff9b"/><stop offset="0.443" stop-color="#81ffa1"/><stop offset="0.453" stop-color="#81ffa1"/><stop offset="0.463" stop-color="#78ffa8"/><stop offset="0.476" stop-color="#78ffa8"/><stop offset="0.485" stop-color="#6fffae"/><stop offset="0.498" stop-color="#6fffae"/><stop offset="0.508" stop-color="#66ffb4"/><stop offset="0.521" stop-color="#66ffb4"/><stop offset="0.524" stop-color="#57ffbb"/><stop offset="0.540" stop-color="#57ffbb"/><stop offset="0.544" stop-color="#45ffc1"/><stop offset="0.563" stop-color="#45ffc1"/><stop offset="0.566" stop-color="#33ffc8"/><stop offset="0.586" stop-color="#33ffc8"/><stop offset="0.589" stop-color="#00ffd4"/><stop offset="0.803" stop-color="#00ffee"/><stop offset="0.813" stop-color="#00fff6"/><stop offset="0.829" stop-color="#00fff6"/><stop offset="0.838" stop-color="#00fffe"/><stop offset="1.000" stop-color="#00eeff"/></linearGradient><linearGradient id="gBL55" gradientUnits="userSpaceOnUse" x1="364.3" x2="981.7"><stop offset="-0.001" stop-color="#ddff46"/><stop offset="0.297" stop-color="#b2ff7a"/><stop offset="0.366" stop-color="#a4ff88"/><stop offset="0.375" stop-color="#9bff8e"/><stop offset="0.388" stop-color="#9bff8e"/><stop offset="0.398" stop-color="#93ff94"/><stop offset="0.411" stop-color="#93ff94"/><stop offset="0.421" stop-color="#8aff9b"/><stop offset="0.434" stop-color="#8aff9b"/><stop offset="0.443" stop-color="#81ffa1"/><stop offset="0.456" stop-color="#81ffa1"/><stop offset="0.466" stop-color="#78ffa8"/><stop offset="0.476" stop-color="#78ffa8"/><stop offset="0.485" stop-color="#6fffae"/><stop offset="0.498" stop-color="#6fffae"/><stop offset="0.508" stop-color="#66ffb4"/><stop offset="0.521" stop-color="#66ffb4"/><stop offset="0.524" stop-color="#57ffbb"/><stop offset="0.544" stop-color="#57ffbb"/><stop offset="0.547" stop-color="#45ffc1"/><stop offset="0.563" stop-color="#45ffc1"/><stop offset="0.566" stop-color="#33ffc8"/><stop offset="0.586" stop-color="#33ffc8"/><stop offset="0.589" stop-color="#00ffd4"/><stop offset="0.803" stop-color="#00ffee"/><stop offset="0.813" stop-color="#00fff6"/><stop offset="0.832" stop-color="#00fff6"/><stop offset="0.842" stop-color="#00fffe"/><stop offset="1.000" stop-color="#00eeff"/></linearGradient><linearGradient id="gBL56" gradientUnits="userSpaceOnUse" x1="364.3" x2="981.7"><stop offset="-0.001" stop-color="#ddff46"/><stop offset="0.275" stop-color="#b7ff75"/><stop offset="0.369" stop-color="#a4ff88"/><stop offset="0.378" stop-color="#9bff8e"/><stop offset="0.391" stop-color="#9bff8e"/><stop offset="0.401" stop-color="#93ff94"/><stop offset="0.411" stop-color="#93ff94"/><stop offset="0.421" stop-color="#8aff9b"/><stop offset="0.434" stop-color="#8aff9b"/><stop offset="0.443" stop-color="#81ffa1"/><stop offset="0.456" stop-color="#81ffa1"/><stop offset="0.466" stop-color="#78ffa8"/><stop offset="0.479" stop-color="#78ffa8"/><stop offset="0.489" stop-color="#6fffae"/><stop offset="0.502" stop-color="#6fffae"/><stop offset="0.511" stop-color="#66ffb4"/><stop offset="0.521" stop-color="#66ffb4"/><stop offset="0.524" stop-color="#57ffbb"/><stop offset="0.544" stop-color="#57ffbb"/><stop offset="0.547" stop-color="#45ffc1"/><stop offset="0.566" stop-color="#45ffc1"/><stop offset="0.570" stop-color="#33ffc8"/><stop offset="0.589" stop-color="#33ffc8"/><stop offset="0.592" stop-color="#00ffd4"/><stop offset="0.803" stop-color="#00ffee"/><stop offset="0.813" stop-color="#00fff6"/><stop offset="0.832" stop-color="#00fff6"/><stop offset="0.842" stop-color="#00fffe"/><stop offset="1.000" stop-color="#00eeff"/></linearGradient><linearGradient id="gBL57" gradientUnits="userSpaceOnUse" x1="356.5" x2="973.9"><stop offset="-0.001" stop-color="#ddff46"/><stop offset="0.265" stop-color="#bbff71"/><stop offset="0.381" stop-color="#a4ff88"/><stop offset="0.391" stop-color="#9bff8e"/><stop offset="0.404" stop-color="#9bff8e"/><stop offset="0.414" stop-color="#93ff94"/><stop offset="0.427" stop-color="#93ff94"/><stop offset="0.436" stop-color="#8aff9b"/><stop offset="0.449" stop-color="#8aff9b"/><stop offset="0.459" stop-color="#81ffa1"/><stop offset="0.469" stop-color="#81ffa1"/><stop offset="0.479" stop-color="#78ffa8"/><stop offset="0.492" stop-color="#78ffa8"/><stop offset="0.501" stop-color="#6fffae"/><stop offset="0.514" stop-color="#6fffae"/><stop offset="0.524" stop-color="#66ffb4"/><stop offset="0.537" stop-color="#66ffb4"/><stop offset="0.540" stop-color="#57ffbb"/><stop offset="0.556" stop-color="#57ffbb"/><stop offset="0.560" stop-color="#45ffc1"/><stop offset="0.579" stop-color="#45ffc1"/><stop offset="0.582" stop-color="#33ffc8"/><stop offset="0.602" stop-color="#33ffc8"/><stop offset="0.605" stop-color="#00ffd4"/><stop offset="0.819" stop-color="#00ffee"/><stop offset="0.828" stop-color="#00fff6"/><stop offset="0.845" stop-color="#00fff6"/><stop offset="0.854" stop-color="#00fffe"/><stop offset="1.000" stop-color="#00eeff"/></linearGradient><linearGradient id="gBL58" gradientUnits="userSpaceOnUse" x1="356.5" x2="973.9"><stop offset="-0.001" stop-color="#ddff46"/><stop offset="0.265" stop-color="#bbff71"/><stop offset="0.381" stop-color="#a4ff88"/><stop offset="0.391" stop-color="#9bff8e"/><stop offset="0.404" stop-color="#9bff8e"/><stop offset="0.414" stop-color="#93ff94"/><stop offset="0.427" stop-color="#93ff94"/><stop offset="0.436" stop-color="#8aff9b"/><stop offset="0.449" stop-color="#8aff9b"/><stop offset="0.459" stop-color="#81ffa1"/><stop offset="0.472" stop-color="#81ffa1"/><stop offset="0.482" stop-color="#78ffa8"/><stop offset="0.495" stop-color="#78ffa8"/><stop offset="0.505" stop-color="#6fffae"/><stop offset="0.514" stop-color="#6fffae"/><stop offset="0.524" stop-color="#66ffb4"/><stop offset="0.537" stop-color="#66ffb4"/><stop offset="0.540" stop-color="#57ffbb"/><stop offset="0.560" stop-color="#57ffbb"/><stop offset="0.563" stop-color="#45ffc1"/><stop offset="0.582" stop-color="#45ffc1"/><stop offset="0.585" stop-color="#33ffc8"/><stop offset="0.602" stop-color="#33ffc8"/><stop offset="0.605" stop-color="#00ffd4"/><stop offset="0.819" stop-color="#00ffee"/><stop offset="0.828" stop-color="#00fff6"/><stop offset="0.845" stop-color="#00fff6"/><stop offset="0.854" stop-color="#00fffe"/><stop offset="1.000" stop-color="#00eeff"/></linearGradient><linearGradient id="gBL59" gradientUnits="userSpaceOnUse" x1="356.5" x2="966.1"><stop offset="-0.001" stop-color="#ddff46"/><stop offset="0.193" stop-color="#c8ff63"/><stop offset="0.390" stop-color="#a4ff88"/><stop offset="0.399" stop-color="#9bff8e"/><stop offset="0.413" stop-color="#9bff8e"/><stop offset="0.422" stop-color="#93ff94"/><stop offset="0.436" stop-color="#93ff94"/><stop offset="0.445" stop-color="#8aff9b"/><stop offset="0.455" stop-color="#8aff9b"/><stop offset="0.465" stop-color="#81ffa1"/><stop offset="0.478" stop-color="#81ffa1"/><stop offset="0.488" stop-color="#78ffa8"/><stop offset="0.501" stop-color="#78ffa8"/><stop offset="0.511" stop-color="#6fffae"/><stop offset="0.524" stop-color="#6fffae"/><stop offset="0.534" stop-color="#66ffb4"/><stop offset="0.544" stop-color="#66ffb4"/><stop offset="0.547" stop-color="#57ffbb"/><stop offset="0.567" stop-color="#57ffbb"/><stop offset="0.570" stop-color="#45ffc1"/><stop offset="0.590" stop-color="#45ffc1"/><stop offset="0.593" stop-color="#33ffc8"/><stop offset="0.613" stop-color="#33ffc8"/><stop offset="0.616" stop-color="#00ffd4"/><stop offset="0.829" stop-color="#00ffee"/><stop offset="0.839" stop-color="#00fff6"/><stop offset="0.859" stop-color="#00fff6"/><stop offset="0.869" stop-color="#00fffe"/><stop offset="1.000" stop-color="#00eeff"/></linearGradient><linearGradient id="gBL60" gradientUnits="userSpaceOnUse" x1="356.5" x2="966.1"><stop offset="-0.001" stop-color="#ddff46"/><stop offset="0.193" stop-color="#c8ff63"/><stop offset="0.390" stop-color="#a4ff88"/><stop offset="0.399" stop-color="#9bff8e"/><stop offset="0.413" stop-color="#9bff8e"/><stop offset="0.422" stop-color="#93ff94"/><stop offset="0.436" stop-color="#93ff94"/><stop offset="0.445" stop-color="#8aff9b"/><stop offset="0.458" stop-color="#8aff9b"/><stop offset="0.468" stop-color="#81ffa1"/><stop offset="0.481" stop-color="#81ffa1"/><stop offset="0.491" stop-color="#78ffa8"/><stop offset="0.501" stop-color="#78ffa8"/><stop offset="0.511" stop-color="#6fffae"/><stop offset="0.524" stop-color="#6fffae"/><stop offset="0.534" stop-color="#66ffb4"/><stop offset="0.547" stop-color="#66ffb4"/><stop offset="0.550" stop-color="#57ffbb"/><stop offset="0.570" stop-color="#57ffbb"/><stop offset="0.573" stop-color="#45ffc1"/><stop offset="0.590" stop-color="#45ffc1"/><stop offset="0.593" stop-color="#33ffc8"/><stop offset="0.613" stop-color="#33ffc8"/><stop offset="0.616" stop-color="#00ffd4"/><stop offset="0.829" stop-color="#00ffee"/><stop offset="0.839" stop-color="#00fff6"/><stop offset="0.859" stop-color="#00fff6"/><stop offset="0.869" stop-color="#00fffe"/><stop offset="1.000" stop-color="#00eeff"/></linearGradient><linearGradient id="gBL61" gradientUnits="userSpaceOnUse" x1="364.3" x2="958.3"><stop offset="-0.001" stop-color="#ddff46"/><stop offset="0.265" stop-color="#bbff71"/><stop offset="0.390" stop-color="#a4ff88"/><stop offset="0.400" stop-color="#9bff8e"/><stop offset="0.414" stop-color="#9bff8e"/><stop offset="0.424" stop-color="#93ff94"/><stop offset="0.434" stop-color="#93ff94"/><stop offset="0.444" stop-color="#8aff9b"/><stop offset="0.457" stop-color="#8aff9b"/><stop offset="0.467" stop-color="#81ffa1"/><stop offset="0.481" stop-color="#81ffa1"/><stop offset="0.491" stop-color="#78ffa8"/><stop offset="0.505" stop-color="#78ffa8"/><stop offset="0.515" stop-color="#6fffae"/><stop offset="0.525" stop-color="#6fffae"/><stop offset="0.535" stop-color="#66ffb4"/><stop offset="0.548" stop-color="#66ffb4"/><stop offset="0.552" stop-color="#57ffbb"/><stop offset="0.572" stop-color="#57ffbb"/><stop offset="0.575" stop-color="#45ffc1"/><stop offset="0.595" stop-color="#45ffc1"/><stop offset="0.599" stop-color="#33ffc8"/><stop offset="0.616" stop-color="#33ffc8"/><stop offset="0.619" stop-color="#00ffd4"/><stop offset="0.841" stop-color="#00ffee"/><stop offset="0.851" stop-color="#00fff6"/><stop offset="0.868" stop-color="#00fff6"/><stop offset="0.878" stop-color="#00fffe"/><stop offset="1.000" stop-color="#00f2ff"/></linearGradient><linearGradient id="gBL62" gradientUnits="userSpaceOnUse" x1="364.3" x2="958.3"><stop offset="-0.001" stop-color="#ddff46"/><stop offset="0.292" stop-color="#b7ff75"/><stop offset="0.390" stop-color="#a4ff88"/><stop offset="0.400" stop-color="#9bff8e"/><stop offset="0.414" stop-color="#9bff8e"/><stop offset="0.424" stop-color="#93ff94"/><stop offset="0.437" stop-color="#93ff94"/><stop offset="0.447" stop-color="#8aff9b"/><stop offset="0.461" stop-color="#8aff9b"/><stop offset="0.471" stop-color="#81ffa1"/><stop offset="0.481" stop-color="#81ffa1"/><stop offset="0.491" stop-color="#78ffa8"/><stop offset="0.505" stop-color="#78ffa8"/><stop offset="0.515" stop-color="#6fffae"/><stop offset="0.528" stop-color="#6fffae"/><stop offset="0.538" stop-color="#66ffb4"/><stop offset="0.548" stop-color="#66ffb4"/><stop offset="0.552" stop-color="#57ffbb"/><stop offset="0.572" stop-color="#57ffbb"/><stop offset="0.575" stop-color="#45ffc1"/><stop offset="0.595" stop-color="#45ffc1"/><stop offset="0.599" stop-color="#33ffc8"/><stop offset="0.619" stop-color="#33ffc8"/><stop offset="0.622" stop-color="#00ffd4"/><stop offset="0.841" stop-color="#00ffee"/><stop offset="0.851" stop-color="#00fff6"/><stop offset="0.868" stop-color="#00fff6"/><stop offset="0.878" stop-color="#00fffe"/><stop offset="1.000" stop-color="#00f2ff"/></linearGradient><linearGradient id="gBL63" gradientUnits="userSpaceOnUse" x1="372.2" x2="958.3"><stop offset="-0.000" stop-color="#ddff46"/><stop offset="0.310" stop-color="#b2ff7a"/><stop offset="0.382" stop-color="#a4ff88"/><stop offset="0.392" stop-color="#9bff8e"/><stop offset="0.406" stop-color="#9bff8e"/><stop offset="0.416" stop-color="#93ff94"/><stop offset="0.430" stop-color="#93ff94"/><stop offset="0.440" stop-color="#8aff9b"/><stop offset="0.454" stop-color="#8aff9b"/><stop offset="0.464" stop-color="#81ffa1"/><stop offset="0.477" stop-color="#81ffa1"/><stop offset="0.488" stop-color="#78ffa8"/><stop offset="0.498" stop-color="#78ffa8"/><stop offset="0.508" stop-color="#6fffae"/><stop offset="0.522" stop-color="#6fffae"/><stop offset="0.532" stop-color="#66ffb4"/><stop offset="0.546" stop-color="#66ffb4"/><stop offset="0.549" stop-color="#57ffbb"/><stop offset="0.570" stop-color="#57ffbb"/><stop offset="0.573" stop-color="#45ffc1"/><stop offset="0.590" stop-color="#45ffc1"/><stop offset="0.593" stop-color="#33ffc8"/><stop offset="0.614" stop-color="#33ffc8"/><stop offset="0.617" stop-color="#00ffd4"/><stop offset="0.839" stop-color="#00ffee"/><stop offset="0.849" stop-color="#00fff6"/><stop offset="0.870" stop-color="#00fff6"/><stop offset="0.880" stop-color="#00fffe"/><stop offset="1.000" stop-color="#00f2ff"/></linearGradient><linearGradient id="gBL64" gradientUnits="userSpaceOnUse" x1="372.2" x2="950.5"><stop offset="-0.000" stop-color="#ddff46"/><stop offset="0.314" stop-color="#b2ff7a"/><stop offset="0.391" stop-color="#a4ff88"/><stop offset="0.401" stop-color="#9bff8e"/><stop offset="0.415" stop-color="#9bff8e"/><stop offset="0.425" stop-color="#93ff94"/><stop offset="0.435" stop-color="#93ff94"/><stop offset="0.446" stop-color="#8aff9b"/><stop offset="0.460" stop-color="#8aff9b"/><stop offset="0.470" stop-color="#81ffa1"/><stop offset="0.484" stop-color="#81ffa1"/><stop offset="0.494" stop-color="#78ffa8"/><stop offset="0.508" stop-color="#78ffa8"/><stop offset="0.518" stop-color="#6fffae"/><stop offset="0.529" stop-color="#6fffae"/><stop offset="0.539" stop-color="#66ffb4"/><stop offset="0.553" stop-color="#66ffb4"/><stop offset="0.557" stop-color="#57ffbb"/><stop offset="0.577" stop-color="#57ffbb"/><stop offset="0.581" stop-color="#45ffc1"/><stop offset="0.601" stop-color="#45ffc1"/><stop offset="0.605" stop-color="#33ffc8"/><stop offset="0.622" stop-color="#33ffc8"/><stop offset="0.626" stop-color="#00ffd4"/><stop offset="0.854" stop-color="#00ffee"/><stop offset="0.864" stop-color="#00fff6"/><stop offset="0.882" stop-color="#00fff6"/><stop offset="0.892" stop-color="#00fffe"/><stop offset="0.999" stop-color="#00f2ff"/></linearGradient><linearGradient id="gBL65" gradientUnits="userSpaceOnUse" x1="372.2" x2="950.5"><stop offset="-0.000" stop-color="#ddff46"/><stop offset="0.290" stop-color="#b7ff75"/><stop offset="0.391" stop-color="#a4ff88"/><stop offset="0.401" stop-color="#9bff8e"/><stop offset="0.415" stop-color="#9bff8e"/><stop offset="0.425" stop-color="#93ff94"/><stop offset="0.439" stop-color="#93ff94"/><stop offset="0.449" stop-color="#8aff9b"/><stop offset="0.463" stop-color="#8aff9b"/><stop offset="0.474" stop-color="#81ffa1"/><stop offset="0.484" stop-color="#81ffa1"/><stop offset="0.494" stop-color="#78ffa8"/><stop offset="0.508" stop-color="#78ffa8"/><stop offset="0.518" stop-color="#6fffae"/><stop offset="0.532" stop-color="#6fffae"/><stop offset="0.543" stop-color="#66ffb4"/><stop offset="0.557" stop-color="#66ffb4"/><stop offset="0.560" stop-color="#57ffbb"/><stop offset="0.577" stop-color="#57ffbb"/><stop offset="0.581" stop-color="#45ffc1"/><stop offset="0.601" stop-color="#45ffc1"/><stop offset="0.605" stop-color="#33ffc8"/><stop offset="0.626" stop-color="#33ffc8"/><stop offset="0.629" stop-color="#00ffd4"/><stop offset="0.854" stop-color="#00ffee"/><stop offset="0.864" stop-color="#00fff6"/><stop offset="0.882" stop-color="#00fff6"/><stop offset="0.892" stop-color="#00fffe"/><stop offset="0.999" stop-color="#00f2ff"/></linearGradient><linearGradient id="gBL66" gradientUnits="userSpaceOnUse" x1="380.0" x2="942.7"><stop offset="-0.002" stop-color="#d9ff4c"/><stop offset="0.108" stop-color="#d0ff57"/><stop offset="0.389" stop-color="#a4ff88"/><stop offset="0.400" stop-color="#9bff8e"/><stop offset="0.414" stop-color="#9bff8e"/><stop offset="0.425" stop-color="#93ff94"/><stop offset="0.439" stop-color="#93ff94"/><stop offset="0.450" stop-color="#8aff9b"/><stop offset="0.460" stop-color="#8aff9b"/><stop offset="0.471" stop-color="#81ffa1"/><stop offset="0.485" stop-color="#81ffa1"/><stop offset="0.496" stop-color="#78ffa8"/><stop offset="0.510" stop-color="#78ffa8"/><stop offset="0.521" stop-color="#6fffae"/><stop offset="0.535" stop-color="#6fffae"/><stop offset="0.546" stop-color="#66ffb4"/><stop offset="0.556" stop-color="#66ffb4"/><stop offset="0.560" stop-color="#57ffbb"/><stop offset="0.581" stop-color="#57ffbb"/><stop offset="0.585" stop-color="#45ffc1"/><stop offset="0.606" stop-color="#45ffc1"/><stop offset="0.610" stop-color="#33ffc8"/><stop offset="0.631" stop-color="#33ffc8"/><stop offset="0.635" stop-color="#00ffd4"/><stop offset="0.866" stop-color="#00ffee"/><stop offset="0.876" stop-color="#00fff6"/><stop offset="0.894" stop-color="#00fff6"/><stop offset="0.905" stop-color="#00fffe"/><stop offset="1.001" stop-color="#00f2ff"/></linearGradient><linearGradient id="gBL67" gradientUnits="userSpaceOnUse" x1="380.0" x2="942.7"><stop offset="-0.002" stop-color="#d9ff4c"/><stop offset="0.144" stop-color="#ccff5d"/><stop offset="0.389" stop-color="#a4ff88"/><stop offset="0.400" stop-color="#9bff8e"/><stop offset="0.414" stop-color="#9bff8e"/><stop offset="0.425" stop-color="#93ff94"/><stop offset="0.439" stop-color="#93ff94"/><stop offset="0.450" stop-color="#8aff9b"/><stop offset="0.464" stop-color="#8aff9b"/><stop offset="0.475" stop-color="#81ffa1"/><stop offset="0.489" stop-color="#81ffa1"/><stop offset="0.499" stop-color="#78ffa8"/><stop offset="0.510" stop-color="#78ffa8"/><stop offset="0.521" stop-color="#6fffae"/><stop offset="0.535" stop-color="#6fffae"/><stop offset="0.546" stop-color="#66ffb4"/><stop offset="0.560" stop-color="#66ffb4"/><stop offset="0.563" stop-color="#57ffbb"/><stop offset="0.581" stop-color="#57ffbb"/><stop offset="0.585" stop-color="#45ffc1"/><stop offset="0.606" stop-color="#45ffc1"/><stop offset="0.610" stop-color="#33ffc8"/><stop offset="0.631" stop-color="#33ffc8"/><stop offset="0.635" stop-color="#00ffd4"/><stop offset="0.866" stop-color="#00ffee"/><stop offset="0.876" stop-color="#00fff6"/><stop offset="0.894" stop-color="#00fff6"/><stop offset="0.905" stop-color="#00fffe"/><stop offset="1.001" stop-color="#00f2ff"/></linearGradient><linearGradient id="gBL68" gradientUnits="userSpaceOnUse" x1="387.8" x2="934.8"><stop offset="-0.001" stop-color="#d9ff4c"/><stop offset="0.284" stop-color="#b7ff75"/><stop offset="0.390" stop-color="#a4ff88"/><stop offset="0.401" stop-color="#9bff8e"/><stop offset="0.412" stop-color="#9bff8e"/><stop offset="0.423" stop-color="#93ff94"/><stop offset="0.437" stop-color="#93ff94"/><stop offset="0.448" stop-color="#8aff9b"/><stop offset="0.463" stop-color="#8aff9b"/><stop offset="0.474" stop-color="#81ffa1"/><stop offset="0.488" stop-color="#81ffa1"/><stop offset="0.499" stop-color="#78ffa8"/><stop offset="0.514" stop-color="#78ffa8"/><stop offset="0.525" stop-color="#6fffae"/><stop offset="0.536" stop-color="#6fffae"/><stop offset="0.547" stop-color="#66ffb4"/><stop offset="0.562" stop-color="#66ffb4"/><stop offset="0.565" stop-color="#57ffbb"/><stop offset="0.587" stop-color="#57ffbb"/><stop offset="0.591" stop-color="#45ffc1"/><stop offset="0.609" stop-color="#45ffc1"/><stop offset="0.613" stop-color="#33ffc8"/><stop offset="0.635" stop-color="#33ffc8"/><stop offset="0.638" stop-color="#00ffd4"/><stop offset="0.876" stop-color="#00ffee"/><stop offset="0.887" stop-color="#00fff6"/><stop offset="0.905" stop-color="#00fff6"/><stop offset="0.916" stop-color="#00fffe"/><stop offset="1.000" stop-color="#00f7ff"/></linearGradient><linearGradient id="gBL69" gradientUnits="userSpaceOnUse" x1="387.8" x2="927.0"><stop offset="-0.001" stop-color="#d9ff4c"/><stop offset="0.288" stop-color="#b7ff75"/><stop offset="0.395" stop-color="#a4ff88"/><stop offset="0.407" stop-color="#9bff8e"/><stop offset="0.421" stop-color="#9bff8e"/><stop offset="0.432" stop-color="#93ff94"/><stop offset="0.447" stop-color="#93ff94"/><stop offset="0.458" stop-color="#8aff9b"/><stop offset="0.470" stop-color="#8aff9b"/><stop offset="0.481" stop-color="#81ffa1"/><stop offset="0.496" stop-color="#81ffa1"/><stop offset="0.507" stop-color="#78ffa8"/><stop offset="0.522" stop-color="#78ffa8"/><stop offset="0.533" stop-color="#6fffae"/><stop offset="0.547" stop-color="#6fffae"/><stop offset="0.559" stop-color="#66ffb4"/><stop offset="0.570" stop-color="#66ffb4"/><stop offset="0.573" stop-color="#57ffbb"/><stop offset="0.596" stop-color="#57ffbb"/><stop offset="0.599" stop-color="#45ffc1"/><stop offset="0.622" stop-color="#45ffc1"/><stop offset="0.625" stop-color="#33ffc8"/><stop offset="0.648" stop-color="#33ffc8"/><stop offset="0.651" stop-color="#00ffd4"/><stop offset="0.889" stop-color="#00ffee"/><stop offset="0.900" stop-color="#00fff6"/><stop offset="0.922" stop-color="#00fff6"/><stop offset="0.933" stop-color="#00fffe"/><stop offset="1.000" stop-color="#00f7ff"/></linearGradient><linearGradient id="gBL70" gradientUnits="userSpaceOnUse" x1="387.8" x2="927.0"><stop offset="-0.001" stop-color="#d9ff4c"/><stop offset="0.288" stop-color="#b7ff75"/><stop offset="0.395" stop-color="#a4ff88"/><stop offset="0.407" stop-color="#9bff8e"/><stop offset="0.421" stop-color="#9bff8e"/><stop offset="0.432" stop-color="#93ff94"/><stop offset="0.447" stop-color="#93ff94"/><stop offset="0.458" stop-color="#8aff9b"/><stop offset="0.473" stop-color="#8aff9b"/><stop offset="0.484" stop-color="#81ffa1"/><stop offset="0.499" stop-color="#81ffa1"/><stop offset="0.510" stop-color="#78ffa8"/><stop offset="0.522" stop-color="#78ffa8"/><stop offset="0.533" stop-color="#6fffae"/><stop offset="0.547" stop-color="#6fffae"/><stop offset="0.559" stop-color="#66ffb4"/><stop offset="0.573" stop-color="#66ffb4"/><stop offset="0.577" stop-color="#57ffbb"/><stop offset="0.596" stop-color="#57ffbb"/><stop offset="0.599" stop-color="#45ffc1"/><stop offset="0.622" stop-color="#45ffc1"/><stop offset="0.625" stop-color="#33ffc8"/><stop offset="0.648" stop-color="#33ffc8"/><stop offset="0.651" stop-color="#00ffd4"/><stop offset="0.892" stop-color="#00ffee"/><stop offset="0.904" stop-color="#00fff6"/><stop offset="0.922" stop-color="#00fff6"/><stop offset="0.933" stop-color="#00fffe"/><stop offset="1.000" stop-color="#00f7ff"/></linearGradient><linearGradient id="gBL71" gradientUnits="userSpaceOnUse" x1="395.6" x2="919.2"><stop offset="-0.001" stop-color="#d9ff4c"/><stop offset="0.339" stop-color="#aeff7e"/><stop offset="0.396" stop-color="#a4ff88"/><stop offset="0.408" stop-color="#9bff8e"/><stop offset="0.419" stop-color="#9bff8e"/><stop offset="0.430" stop-color="#93ff94"/><stop offset="0.446" stop-color="#93ff94"/><stop offset="0.457" stop-color="#8aff9b"/><stop offset="0.472" stop-color="#8aff9b"/><stop offset="0.484" stop-color="#81ffa1"/><stop offset="0.499" stop-color="#81ffa1"/><stop offset="0.511" stop-color="#78ffa8"/><stop offset="0.526" stop-color="#78ffa8"/><stop offset="0.537" stop-color="#6fffae"/><stop offset="0.549" stop-color="#6fffae"/><stop offset="0.560" stop-color="#66ffb4"/><stop offset="0.576" stop-color="#66ffb4"/><stop offset="0.579" stop-color="#57ffbb"/><stop offset="0.602" stop-color="#57ffbb"/><stop offset="0.606" stop-color="#45ffc1"/><stop offset="0.625" stop-color="#45ffc1"/><stop offset="0.629" stop-color="#33ffc8"/><stop offset="0.652" stop-color="#33ffc8"/><stop offset="0.656" stop-color="#00ffd4"/><stop offset="0.904" stop-color="#00ffee"/><stop offset="0.916" stop-color="#00fff6"/><stop offset="0.935" stop-color="#00fff6"/><stop offset="0.946" stop-color="#00fffe"/><stop offset="1.000" stop-color="#00fbff"/></linearGradient><linearGradient id="gBL72" gradientUnits="userSpaceOnUse" x1="395.6" x2="919.2"><stop offset="-0.001" stop-color="#d9ff4c"/><stop offset="0.312" stop-color="#b2ff7a"/><stop offset="0.396" stop-color="#a4ff88"/><stop offset="0.408" stop-color="#9bff8e"/><stop offset="0.423" stop-color="#9bff8e"/><stop offset="0.434" stop-color="#93ff94"/><stop offset="0.450" stop-color="#93ff94"/><stop offset="0.461" stop-color="#8aff9b"/><stop offset="0.472" stop-color="#8aff9b"/><stop offset="0.484" stop-color="#81ffa1"/><stop offset="0.499" stop-color="#81ffa1"/><stop offset="0.511" stop-color="#78ffa8"/><stop offset="0.526" stop-color="#78ffa8"/><stop offset="0.537" stop-color="#6fffae"/><stop offset="0.553" stop-color="#6fffae"/><stop offset="0.564" stop-color="#66ffb4"/><stop offset="0.576" stop-color="#66ffb4"/><stop offset="0.579" stop-color="#57ffbb"/><stop offset="0.602" stop-color="#57ffbb"/><stop offset="0.606" stop-color="#45ffc1"/><stop offset="0.629" stop-color="#45ffc1"/><stop offset="0.633" stop-color="#33ffc8"/><stop offset="0.656" stop-color="#33ffc8"/><stop offset="0.660" stop-color="#00ffd4"/><stop offset="0.904" stop-color="#00ffee"/><stop offset="0.916" stop-color="#00fff6"/><stop offset="0.935" stop-color="#00fff6"/><stop offset="0.946" stop-color="#00fffe"/><stop offset="1.000" stop-color="#00fbff"/></linearGradient><linearGradient id="gBL73" gradientUnits="userSpaceOnUse" x1="403.4" x2="911.4"><stop offset="-0.001" stop-color="#d9ff4c"/><stop offset="0.365" stop-color="#a9ff83"/><stop offset="0.393" stop-color="#a4ff88"/><stop offset="0.405" stop-color="#9bff8e"/><stop offset="0.420" stop-color="#9bff8e"/><stop offset="0.432" stop-color="#93ff94"/><stop offset="0.448" stop-color="#93ff94"/><stop offset="0.460" stop-color="#8aff9b"/><stop offset="0.476" stop-color="#8aff9b"/><stop offset="0.487" stop-color="#81ffa1"/><stop offset="0.499" stop-color="#81ffa1"/><stop offset="0.511" stop-color="#78ffa8"/><stop offset="0.527" stop-color="#78ffa8"/><stop offset="0.539" stop-color="#6fffae"/><stop offset="0.554" stop-color="#6fffae"/><stop offset="0.566" stop-color="#66ffb4"/><stop offset="0.582" stop-color="#66ffb4"/><stop offset="0.586" stop-color="#57ffbb"/><stop offset="0.606" stop-color="#57ffbb"/><stop offset="0.609" stop-color="#45ffc1"/><stop offset="0.633" stop-color="#45ffc1"/><stop offset="0.637" stop-color="#33ffc8"/><stop offset="0.661" stop-color="#33ffc8"/><stop offset="0.665" stop-color="#00ffd4"/><stop offset="0.917" stop-color="#00ffee"/><stop offset="0.928" stop-color="#00fff6"/><stop offset="0.952" stop-color="#00fff6"/><stop offset="0.964" stop-color="#00fffe"/><stop offset="0.999" stop-color="#00fbff"/></linearGradient><linearGradient id="gBL74" gradientUnits="userSpaceOnUse" x1="403.4" x2="903.6"><stop offset="-0.001" stop-color="#d9ff4c"/><stop offset="0.371" stop-color="#a9ff83"/><stop offset="0.399" stop-color="#a4ff88"/><stop offset="0.411" stop-color="#9bff8e"/><stop offset="0.427" stop-color="#9bff8e"/><stop offset="0.439" stop-color="#93ff94"/><stop offset="0.455" stop-color="#93ff94"/><stop offset="0.467" stop-color="#8aff9b"/><stop offset="0.483" stop-color="#8aff9b"/><stop offset="0.495" stop-color="#81ffa1"/><stop offset="0.511" stop-color="#81ffa1"/><stop offset="0.523" stop-color="#78ffa8"/><stop offset="0.535" stop-color="#78ffa8"/><stop offset="0.547" stop-color="#6fffae"/><stop offset="0.563" stop-color="#6fffae"/><stop offset="0.575" stop-color="#66ffb4"/><stop offset="0.591" stop-color="#66ffb4"/><stop offset="0.595" stop-color="#57ffbb"/><stop offset="0.619" stop-color="#57ffbb"/><stop offset="0.623" stop-color="#45ffc1"/><stop offset="0.643" stop-color="#45ffc1"/><stop offset="0.647" stop-color="#33ffc8"/><stop offset="0.671" stop-color="#33ffc8"/><stop offset="0.675" stop-color="#00ffd4"/><stop offset="0.935" stop-color="#00ffee"/><stop offset="0.947" stop-color="#00fff6"/><stop offset="0.967" stop-color="#00fff6"/><stop offset="0.979" stop-color="#00fffe"/><stop offset="0.999" stop-color="#00fffe"/></linearGradient><linearGradient id="gBL75" gradientUnits="userSpaceOnUse" x1="411.2" x2="903.6"><stop offset="-0.000" stop-color="#d5ff52"/><stop offset="0.304" stop-color="#b2ff7a"/><stop offset="0.394" stop-color="#a4ff88"/><stop offset="0.406" stop-color="#9bff8e"/><stop offset="0.422" stop-color="#9bff8e"/><stop offset="0.434" stop-color="#93ff94"/><stop offset="0.446" stop-color="#93ff94"/><stop offset="0.459" stop-color="#8aff9b"/><stop offset="0.475" stop-color="#8aff9b"/><stop offset="0.487" stop-color="#81ffa1"/><stop offset="0.503" stop-color="#81ffa1"/><stop offset="0.515" stop-color="#78ffa8"/><stop offset="0.532" stop-color="#78ffa8"/><stop offset="0.544" stop-color="#6fffae"/><stop offset="0.556" stop-color="#6fffae"/><stop offset="0.568" stop-color="#66ffb4"/><stop offset="0.584" stop-color="#66ffb4"/><stop offset="0.589" stop-color="#57ffbb"/><stop offset="0.613" stop-color="#57ffbb"/><stop offset="0.617" stop-color="#45ffc1"/><stop offset="0.641" stop-color="#45ffc1"/><stop offset="0.645" stop-color="#33ffc8"/><stop offset="0.666" stop-color="#33ffc8"/><stop offset="0.670" stop-color="#00ffd4"/><stop offset="0.934" stop-color="#00ffee"/><stop offset="0.946" stop-color="#00fff6"/><stop offset="0.966" stop-color="#00fff6"/><stop offset="0.979" stop-color="#00fffe"/><stop offset="0.999" stop-color="#00fffe"/></linearGradient><linearGradient id="gBL76" gradientUnits="userSpaceOnUse" x1="419.0" x2="895.8"><stop offset="-0.000" stop-color="#d5ff52"/><stop offset="0.361" stop-color="#a9ff83"/><stop offset="0.390" stop-color="#a4ff88"/><stop offset="0.403" stop-color="#9bff8e"/><stop offset="0.419" stop-color="#9bff8e"/><stop offset="0.432" stop-color="#93ff94"/><stop offset="0.449" stop-color="#93ff94"/><stop offset="0.461" stop-color="#8aff9b"/><stop offset="0.478" stop-color="#8aff9b"/><stop offset="0.491" stop-color="#81ffa1"/><stop offset="0.503" stop-color="#81ffa1"/><stop offset="0.516" stop-color="#78ffa8"/><stop offset="0.533" stop-color="#78ffa8"/><stop offset="0.545" stop-color="#6fffae"/><stop offset="0.562" stop-color="#6fffae"/><stop offset="0.575" stop-color="#66ffb4"/><stop offset="0.587" stop-color="#66ffb4"/><stop offset="0.591" stop-color="#57ffbb"/><stop offset="0.617" stop-color="#57ffbb"/><stop offset="0.621" stop-color="#45ffc1"/><stop offset="0.646" stop-color="#45ffc1"/><stop offset="0.650" stop-color="#33ffc8"/><stop offset="0.675" stop-color="#33ffc8"/><stop offset="0.680" stop-color="#00ffd4"/><stop offset="0.948" stop-color="#00ffee"/><stop offset="0.961" stop-color="#00fff6"/><stop offset="0.982" stop-color="#00fff6"/><stop offset="0.994" stop-color="#00fffe"/><stop offset="0.998" stop-color="#00fffe"/></linearGradient><linearGradient id="gBL77" gradientUnits="userSpaceOnUse" x1="426.9" x2="895.8"><stop offset="-0.002" stop-color="#d5ff52"/><stop offset="0.382" stop-color="#a4ff88"/><stop offset="0.395" stop-color="#9bff8e"/><stop offset="0.412" stop-color="#9bff8e"/><stop offset="0.425" stop-color="#93ff94"/><stop offset="0.442" stop-color="#93ff94"/><stop offset="0.455" stop-color="#8aff9b"/><stop offset="0.467" stop-color="#8aff9b"/><stop offset="0.480" stop-color="#81ffa1"/><stop offset="0.497" stop-color="#81ffa1"/><stop offset="0.510" stop-color="#78ffa8"/><stop offset="0.527" stop-color="#78ffa8"/><stop offset="0.540" stop-color="#6fffae"/><stop offset="0.557" stop-color="#6fffae"/><stop offset="0.570" stop-color="#66ffb4"/><stop offset="0.583" stop-color="#66ffb4"/><stop offset="0.587" stop-color="#57ffbb"/><stop offset="0.612" stop-color="#57ffbb"/><stop offset="0.617" stop-color="#45ffc1"/><stop offset="0.642" stop-color="#45ffc1"/><stop offset="0.646" stop-color="#33ffc8"/><stop offset="0.668" stop-color="#33ffc8"/><stop offset="0.672" stop-color="#00ffd4"/><stop offset="0.949" stop-color="#00ffee"/><stop offset="0.962" stop-color="#00fff6"/><stop offset="0.983" stop-color="#00fff6"/><stop offset="0.996" stop-color="#00fffe"/><stop offset="1.001" stop-color="#00fffe"/></linearGradient><linearGradient id="gBL78" gradientUnits="userSpaceOnUse" x1="426.9" x2="887.9"><stop offset="-0.002" stop-color="#d5ff52"/><stop offset="0.389" stop-color="#a4ff88"/><stop offset="0.402" stop-color="#9bff8e"/><stop offset="0.419" stop-color="#9bff8e"/><stop offset="0.432" stop-color="#93ff94"/><stop offset="0.449" stop-color="#93ff94"/><stop offset="0.462" stop-color="#8aff9b"/><stop offset="0.480" stop-color="#8aff9b"/><stop offset="0.493" stop-color="#81ffa1"/><stop offset="0.506" stop-color="#81ffa1"/><stop offset="0.519" stop-color="#78ffa8"/><stop offset="0.536" stop-color="#78ffa8"/><stop offset="0.549" stop-color="#6fffae"/><stop offset="0.566" stop-color="#6fffae"/><stop offset="0.579" stop-color="#66ffb4"/><stop offset="0.597" stop-color="#66ffb4"/><stop offset="0.601" stop-color="#57ffbb"/><stop offset="0.623" stop-color="#57ffbb"/><stop offset="0.627" stop-color="#45ffc1"/><stop offset="0.653" stop-color="#45ffc1"/><stop offset="0.657" stop-color="#33ffc8"/><stop offset="0.683" stop-color="#33ffc8"/><stop offset="0.688" stop-color="#00ffd4"/><stop offset="0.965" stop-color="#00ffee"/><stop offset="0.978" stop-color="#00fff6"/><stop offset="1.000" stop-color="#00fff6"/></linearGradient><linearGradient id="gBL79" gradientUnits="userSpaceOnUse" x1="434.7" x2="880.1"><stop offset="-0.002" stop-color="#d0ff57"/><stop offset="0.353" stop-color="#a9ff83"/><stop offset="0.385" stop-color="#a4ff88"/><stop offset="0.398" stop-color="#9bff8e"/><stop offset="0.416" stop-color="#9bff8e"/><stop offset="0.430" stop-color="#93ff94"/><stop offset="0.447" stop-color="#93ff94"/><stop offset="0.461" stop-color="#8aff9b"/><stop offset="0.479" stop-color="#8aff9b"/><stop offset="0.492" stop-color="#81ffa1"/><stop offset="0.510" stop-color="#81ffa1"/><stop offset="0.524" stop-color="#78ffa8"/><stop offset="0.537" stop-color="#78ffa8"/><stop offset="0.551" stop-color="#6fffae"/><stop offset="0.569" stop-color="#6fffae"/><stop offset="0.582" stop-color="#66ffb4"/><stop offset="0.600" stop-color="#66ffb4"/><stop offset="0.605" stop-color="#57ffbb"/><stop offset="0.632" stop-color="#57ffbb"/><stop offset="0.636" stop-color="#45ffc1"/><stop offset="0.658" stop-color="#45ffc1"/><stop offset="0.663" stop-color="#33ffc8"/><stop offset="0.690" stop-color="#33ffc8"/><stop offset="0.694" stop-color="#00ffd4"/><stop offset="0.982" stop-color="#00ffee"/><stop offset="0.995" stop-color="#00fff6"/><stop offset="1.000" stop-color="#00fff6"/></linearGradient><linearGradient id="gBL80" gradientUnits="userSpaceOnUse" x1="442.5" x2="880.1"><stop offset="-0.001" stop-color="#d0ff57"/><stop offset="0.374" stop-color="#a4ff88"/><stop offset="0.387" stop-color="#9bff8e"/><stop offset="0.406" stop-color="#9bff8e"/><stop offset="0.419" stop-color="#93ff94"/><stop offset="0.438" stop-color="#93ff94"/><stop offset="0.451" stop-color="#8aff9b"/><stop offset="0.470" stop-color="#8aff9b"/><stop offset="0.483" stop-color="#81ffa1"/><stop offset="0.502" stop-color="#81ffa1"/><stop offset="0.515" stop-color="#78ffa8"/><stop offset="0.534" stop-color="#78ffa8"/><stop offset="0.547" stop-color="#6fffae"/><stop offset="0.561" stop-color="#6fffae"/><stop offset="0.575" stop-color="#66ffb4"/><stop offset="0.593" stop-color="#66ffb4"/><stop offset="0.598" stop-color="#57ffbb"/><stop offset="0.625" stop-color="#57ffbb"/><stop offset="0.630" stop-color="#45ffc1"/><stop offset="0.657" stop-color="#45ffc1"/><stop offset="0.662" stop-color="#33ffc8"/><stop offset="0.684" stop-color="#33ffc8"/><stop offset="0.689" stop-color="#00ffd4"/><stop offset="0.981" stop-color="#00ffee"/><stop offset="0.995" stop-color="#00fff6"/><stop offset="1.000" stop-color="#00fff6"/></linearGradient><linearGradient id="gBL81" gradientUnits="userSpaceOnUse" x1="450.3" x2="864.5"><stop offset="-0.001" stop-color="#ccff5d"/><stop offset="0.381" stop-color="#a4ff88"/><stop offset="0.395" stop-color="#9bff8e"/><stop offset="0.415" stop-color="#9bff8e"/><stop offset="0.429" stop-color="#93ff94"/><stop offset="0.448" stop-color="#93ff94"/><stop offset="0.463" stop-color="#8aff9b"/><stop offset="0.477" stop-color="#8aff9b"/><stop offset="0.492" stop-color="#81ffa1"/><stop offset="0.511" stop-color="#81ffa1"/><stop offset="0.526" stop-color="#78ffa8"/><stop offset="0.545" stop-color="#78ffa8"/><stop offset="0.559" stop-color="#6fffae"/><stop offset="0.579" stop-color="#6fffae"/><stop offset="0.593" stop-color="#66ffb4"/><stop offset="0.608" stop-color="#66ffb4"/><stop offset="0.613" stop-color="#57ffbb"/><stop offset="0.641" stop-color="#57ffbb"/><stop offset="0.646" stop-color="#45ffc1"/><stop offset="0.675" stop-color="#45ffc1"/><stop offset="0.680" stop-color="#33ffc8"/><stop offset="0.709" stop-color="#33ffc8"/><stop offset="0.714" stop-color="#00ffd4"/><stop offset="0.999" stop-color="#00ffee"/></linearGradient><linearGradient id="gBL82" gradientUnits="userSpaceOnUse" x1="489.4" x2="833.2"><stop offset="-0.001" stop-color="#c4ff68"/><stop offset="0.342" stop-color="#a4ff88"/><stop offset="0.360" stop-color="#9bff8e"/><stop offset="0.383" stop-color="#9bff8e"/><stop offset="0.400" stop-color="#93ff94"/><stop offset="0.423" stop-color="#93ff94"/><stop offset="0.441" stop-color="#8aff9b"/><stop offset="0.464" stop-color="#8aff9b"/><stop offset="0.482" stop-color="#81ffa1"/><stop offset="0.505" stop-color="#81ffa1"/><stop offset="0.522" stop-color="#78ffa8"/><stop offset="0.546" stop-color="#78ffa8"/><stop offset="0.563" stop-color="#6fffae"/><stop offset="0.581" stop-color="#6fffae"/><stop offset="0.598" stop-color="#66ffb4"/><stop offset="0.621" stop-color="#66ffb4"/><stop offset="0.627" stop-color="#57ffbb"/><stop offset="0.662" stop-color="#57ffbb"/><stop offset="0.668" stop-color="#45ffc1"/><stop offset="0.703" stop-color="#45ffc1"/><stop offset="0.708" stop-color="#33ffc8"/><stop offset="0.738" stop-color="#33ffc8"/><stop offset="0.743" stop-color="#00ffd4"/><stop offset="0.999" stop-color="#00ffe6"/></linearGradient><linearGradient id="gBL83" gradientUnits="userSpaceOnUse" x1="661.3" x2="786.4"><stop offset="-0.002" stop-color="#81ffa1"/><stop offset="0.093" stop-color="#78ffa8"/><stop offset="0.237" stop-color="#6fffae"/><stop offset="0.285" stop-color="#66ffb4"/><stop offset="0.333" stop-color="#66ffb4"/><stop offset="0.349" stop-color="#57ffbb"/><stop offset="0.445" stop-color="#57ffbb"/><stop offset="0.461" stop-color="#45ffc1"/><stop offset="0.557" stop-color="#45ffc1"/><stop offset="0.573" stop-color="#33ffc8"/><stop offset="0.669" stop-color="#33ffc8"/><stop offset="0.685" stop-color="#00ffd4"/><stop offset="1.005" stop-color="#00ffdb"/></linearGradient><linearGradient id="gBR0" gradientUnits="userSpaceOnUse" x1="1887.1" x2="1926.6"><stop offset="-0.004" stop-color="#00ffd9"/><stop offset="1.010" stop-color="#00ffde"/></linearGradient><linearGradient id="gBR1" gradientUnits="userSpaceOnUse" x1="1824.0" x2="1926.6"><stop offset="-0.000" stop-color="#00ffd4"/><stop offset="0.994" stop-color="#00ffe3"/></linearGradient><linearGradient id="gBR2" gradientUnits="userSpaceOnUse" x1="1768.8" x2="1934.5"><stop offset="-0.005" stop-color="#53ffb4"/><stop offset="0.068" stop-color="#53ffb4"/><stop offset="0.080" stop-color="#00ffcf"/><stop offset="0.961" stop-color="#00ffe3"/><stop offset="0.997" stop-color="#00fee9"/></linearGradient><linearGradient id="gBR3" gradientUnits="userSpaceOnUse" x1="1713.6" x2="1950.3"><stop offset="-0.002" stop-color="#6dffaa"/><stop offset="0.150" stop-color="#68ffad"/><stop offset="0.158" stop-color="#53ffb4"/><stop offset="0.268" stop-color="#53ffb4"/><stop offset="0.276" stop-color="#00ffcf"/><stop offset="0.851" stop-color="#00ffe3"/><stop offset="1.003" stop-color="#00fdef"/></linearGradient><linearGradient id="gBR4" gradientUnits="userSpaceOnUse" x1="1666.2" x2="1966.0"><stop offset="-0.001" stop-color="#77ffa6"/><stop offset="0.273" stop-color="#68ffad"/><stop offset="0.279" stop-color="#53ffb4"/><stop offset="0.366" stop-color="#53ffb4"/><stop offset="0.373" stop-color="#00ffcf"/><stop offset="0.793" stop-color="#00ffe3"/><stop offset="1.000" stop-color="#00fcf6"/></linearGradient><linearGradient id="gBR5" gradientUnits="userSpaceOnUse" x1="1611.0" x2="1973.9"><stop offset="-0.003" stop-color="#80ffa1"/><stop offset="0.378" stop-color="#68ffad"/><stop offset="0.383" stop-color="#53ffb4"/><stop offset="0.449" stop-color="#53ffb4"/><stop offset="0.455" stop-color="#00ffcf"/><stop offset="0.846" stop-color="#00fee9"/><stop offset="1.000" stop-color="#00fbfc"/></linearGradient><linearGradient id="gBR6" gradientUnits="userSpaceOnUse" x1="1571.5" x2="1981.8"><stop offset="-0.001" stop-color="#8aff9c"/><stop offset="0.428" stop-color="#68ffad"/><stop offset="0.433" stop-color="#53ffb4"/><stop offset="0.486" stop-color="#53ffb4"/><stop offset="0.491" stop-color="#00ffcf"/><stop offset="0.769" stop-color="#00ffe3"/><stop offset="0.998" stop-color="#00f9ff"/></linearGradient><linearGradient id="gBR7" gradientUnits="userSpaceOnUse" x1="1532.1" x2="1989.7"><stop offset="-0.000" stop-color="#94ff97"/><stop offset="0.467" stop-color="#68ffad"/><stop offset="0.472" stop-color="#53ffb4"/><stop offset="0.520" stop-color="#53ffb4"/><stop offset="0.524" stop-color="#00ffcf"/><stop offset="0.808" stop-color="#00fee9"/><stop offset="0.939" stop-color="#00fbfc"/><stop offset="1.001" stop-color="#00f6ff"/></linearGradient><linearGradient id="gBR8" gradientUnits="userSpaceOnUse" x1="1508.4" x2="2005.5"><stop offset="-0.001" stop-color="#9bff91"/><stop offset="0.478" stop-color="#68ffad"/><stop offset="0.482" stop-color="#53ffb4"/><stop offset="0.522" stop-color="#53ffb4"/><stop offset="0.526" stop-color="#00ffcf"/><stop offset="0.735" stop-color="#00ffe3"/><stop offset="0.917" stop-color="#00f9ff"/><stop offset="1.001" stop-color="#00f4ff"/></linearGradient><linearGradient id="gBR9" gradientUnits="userSpaceOnUse" x1="1484.8" x2="2013.4"><stop offset="-0.001" stop-color="#9fff8d"/><stop offset="0.494" stop-color="#68ffad"/><stop offset="0.498" stop-color="#53ffb4"/><stop offset="0.532" stop-color="#53ffb4"/><stop offset="0.536" stop-color="#00ffcf"/><stop offset="0.763" stop-color="#00fee9"/><stop offset="0.888" stop-color="#00f9ff"/><stop offset="1.001" stop-color="#00f1ff"/></linearGradient><linearGradient id="gBR10" gradientUnits="userSpaceOnUse" x1="1461.1" x2="2021.3"><stop offset="-0.000" stop-color="#a6ff86"/><stop offset="0.364" stop-color="#7cffa3"/><stop offset="0.507" stop-color="#68ffad"/><stop offset="0.510" stop-color="#53ffb4"/><stop offset="0.543" stop-color="#53ffb4"/><stop offset="0.546" stop-color="#00ffcf"/><stop offset="0.717" stop-color="#00ffe3"/><stop offset="0.814" stop-color="#00fcf6"/><stop offset="0.921" stop-color="#00f4ff"/><stop offset="1.000" stop-color="#00efff"/></linearGradient><linearGradient id="gBR11" gradientUnits="userSpaceOnUse" x1="1437.4" x2="2029.2"><stop offset="-0.001" stop-color="#adff7f"/><stop offset="0.354" stop-color="#80ffa1"/><stop offset="0.520" stop-color="#68ffad"/><stop offset="0.523" stop-color="#53ffb4"/><stop offset="0.554" stop-color="#53ffb4"/><stop offset="0.557" stop-color="#00ffcf"/><stop offset="0.743" stop-color="#00fee9"/><stop offset="0.827" stop-color="#00fbfc"/><stop offset="1.000" stop-color="#00ecff"/></linearGradient><linearGradient id="gBR12" gradientUnits="userSpaceOnUse" x1="1413.7" x2="2037.0"><stop offset="-0.001" stop-color="#b4ff78"/><stop offset="0.352" stop-color="#85ff9e"/><stop offset="0.531" stop-color="#68ffad"/><stop offset="0.535" stop-color="#53ffb4"/><stop offset="0.560" stop-color="#53ffb4"/><stop offset="0.564" stop-color="#00ffcf"/><stop offset="0.705" stop-color="#00ffe3"/><stop offset="0.830" stop-color="#00f9ff"/><stop offset="1.000" stop-color="#00eaff"/></linearGradient><linearGradient id="gBR13" gradientUnits="userSpaceOnUse" x1="1405.8" x2="2044.9"><stop offset="-0.001" stop-color="#b7ff75"/><stop offset="0.334" stop-color="#8aff9c"/><stop offset="0.531" stop-color="#68ffad"/><stop offset="0.534" stop-color="#53ffb4"/><stop offset="0.559" stop-color="#53ffb4"/><stop offset="0.562" stop-color="#00ffcf"/><stop offset="0.693" stop-color="#00ffe3"/><stop offset="0.812" stop-color="#00f9ff"/><stop offset="1.000" stop-color="#00e7ff"/></linearGradient><linearGradient id="gBR14" gradientUnits="userSpaceOnUse" x1="1398.0" x2="2052.8"><stop offset="-0.001" stop-color="#baff71"/><stop offset="0.344" stop-color="#8aff9c"/><stop offset="0.530" stop-color="#68ffad"/><stop offset="0.533" stop-color="#53ffb4"/><stop offset="0.554" stop-color="#53ffb4"/><stop offset="0.557" stop-color="#00ffcf"/><stop offset="0.710" stop-color="#00fee9"/><stop offset="0.799" stop-color="#00f9ff"/><stop offset="1.000" stop-color="#00e5ff"/></linearGradient><linearGradient id="gBR15" gradientUnits="userSpaceOnUse" x1="1398.0" x2="2060.7"><stop offset="-0.001" stop-color="#bdff6e"/><stop offset="0.346" stop-color="#8aff9c"/><stop offset="0.524" stop-color="#68ffad"/><stop offset="0.527" stop-color="#53ffb4"/><stop offset="0.548" stop-color="#53ffb4"/><stop offset="0.551" stop-color="#00ffcf"/><stop offset="0.696" stop-color="#00fee9"/><stop offset="0.777" stop-color="#00f9ff"/><stop offset="1.000" stop-color="#00e2ff"/></linearGradient><linearGradient id="gBR16" gradientUnits="userSpaceOnUse" x1="1398.0" x2="2068.6"><stop offset="-0.001" stop-color="#bdff6e"/><stop offset="0.324" stop-color="#8fff9a"/><stop offset="0.514" stop-color="#68ffad"/><stop offset="0.517" stop-color="#53ffb4"/><stop offset="0.541" stop-color="#53ffb4"/><stop offset="0.544" stop-color="#00ffcf"/><stop offset="0.658" stop-color="#00ffe3"/><stop offset="0.762" stop-color="#00f9ff"/><stop offset="1.001" stop-color="#00e0ff"/></linearGradient><linearGradient id="gBR17" gradientUnits="userSpaceOnUse" x1="1390.1" x2="2076.5"><stop offset="-0.000" stop-color="#bfff6a"/><stop offset="0.309" stop-color="#94ff97"/><stop offset="0.516" stop-color="#68ffad"/><stop offset="0.519" stop-color="#53ffb4"/><stop offset="0.539" stop-color="#53ffb4"/><stop offset="0.542" stop-color="#00ffcf"/><stop offset="0.650" stop-color="#00ffe3"/><stop offset="0.749" stop-color="#00f9ff"/><stop offset="0.999" stop-color="#00dcff"/></linearGradient><linearGradient id="gBR18" gradientUnits="userSpaceOnUse" x1="1390.1" x2="2092.3"><stop offset="-0.000" stop-color="#c2ff67"/><stop offset="0.308" stop-color="#94ff97"/><stop offset="0.504" stop-color="#68ffad"/><stop offset="0.507" stop-color="#53ffb4"/><stop offset="0.527" stop-color="#53ffb4"/><stop offset="0.530" stop-color="#00ffcf"/><stop offset="0.652" stop-color="#00fee9"/><stop offset="0.726" stop-color="#00f9ff"/><stop offset="1.000" stop-color="#00d6ff"/></linearGradient><linearGradient id="gBR19" gradientUnits="userSpaceOnUse" x1="1390.1" x2="2092.3"><stop offset="-0.000" stop-color="#c4ff63"/><stop offset="0.313" stop-color="#94ff97"/><stop offset="0.504" stop-color="#68ffad"/><stop offset="0.507" stop-color="#53ffb4"/><stop offset="0.524" stop-color="#53ffb4"/><stop offset="0.527" stop-color="#00ffcf"/><stop offset="0.649" stop-color="#00fee9"/><stop offset="0.720" stop-color="#00f9ff"/><stop offset="1.000" stop-color="#00d6ff"/></linearGradient><linearGradient id="gBR20" gradientUnits="userSpaceOnUse" x1="1382.2" x2="2100.2"><stop offset="-0.000" stop-color="#c7ff60"/><stop offset="0.245" stop-color="#a2ff8a"/><stop offset="0.504" stop-color="#68ffad"/><stop offset="0.507" stop-color="#53ffb4"/><stop offset="0.523" stop-color="#53ffb4"/><stop offset="0.526" stop-color="#00ffcf"/><stop offset="0.621" stop-color="#00ffe3"/><stop offset="0.710" stop-color="#00f9ff"/><stop offset="1.000" stop-color="#00d4ff"/></linearGradient><linearGradient id="gBR21" gradientUnits="userSpaceOnUse" x1="1382.2" x2="2100.2"><stop offset="-0.000" stop-color="#c9ff5c"/><stop offset="0.250" stop-color="#a2ff8a"/><stop offset="0.504" stop-color="#68ffad"/><stop offset="0.507" stop-color="#53ffb4"/><stop offset="0.523" stop-color="#53ffb4"/><stop offset="0.526" stop-color="#00ffcf"/><stop offset="0.618" stop-color="#00ffe3"/><stop offset="0.704" stop-color="#00f9ff"/><stop offset="1.000" stop-color="#00d0ff"/></linearGradient><linearGradient id="gBR22" gradientUnits="userSpaceOnUse" x1="1382.2" x2="2100.2"><stop offset="-0.000" stop-color="#ccff59"/><stop offset="0.276" stop-color="#9fff8d"/><stop offset="0.504" stop-color="#68ffad"/><stop offset="0.507" stop-color="#53ffb4"/><stop offset="0.523" stop-color="#53ffb4"/><stop offset="0.526" stop-color="#00ffcf"/><stop offset="0.635" stop-color="#00fee9"/><stop offset="0.699" stop-color="#00f9ff"/><stop offset="1.000" stop-color="#00d0ff"/></linearGradient><linearGradient id="gBR23" gradientUnits="userSpaceOnUse" x1="1382.2" x2="2108.1"><stop offset="-0.000" stop-color="#ceff55"/><stop offset="0.314" stop-color="#98ff94"/><stop offset="0.498" stop-color="#68ffad"/><stop offset="0.501" stop-color="#53ffb4"/><stop offset="0.515" stop-color="#53ffb4"/><stop offset="0.518" stop-color="#00ffcf"/><stop offset="0.625" stop-color="#00fee9"/><stop offset="0.686" stop-color="#00f9ff"/><stop offset="1.000" stop-color="#00ceff"/></linearGradient><linearGradient id="gBR24" gradientUnits="userSpaceOnUse" x1="1382.2" x2="2108.1"><stop offset="-0.000" stop-color="#ceff55"/><stop offset="0.267" stop-color="#a2ff8a"/><stop offset="0.498" stop-color="#68ffad"/><stop offset="0.501" stop-color="#53ffb4"/><stop offset="0.515" stop-color="#53ffb4"/><stop offset="0.518" stop-color="#00ffcf"/><stop offset="0.622" stop-color="#00fee9"/><stop offset="0.683" stop-color="#00f9ff"/><stop offset="1.000" stop-color="#00caff"/></linearGradient><linearGradient id="gBR25" gradientUnits="userSpaceOnUse" x1="1382.2" x2="2108.1"><stop offset="-0.000" stop-color="#d1ff52"/><stop offset="0.289" stop-color="#9fff8d"/><stop offset="0.498" stop-color="#68ffad"/><stop offset="0.501" stop-color="#53ffb4"/><stop offset="0.515" stop-color="#53ffb4"/><stop offset="0.518" stop-color="#00ffcf"/><stop offset="0.636" stop-color="#00fdef"/><stop offset="0.680" stop-color="#00f9ff"/><stop offset="1.000" stop-color="#00c8ff"/></linearGradient><linearGradient id="gBR26" gradientUnits="userSpaceOnUse" x1="1382.2" x2="2115.9"><stop offset="-0.000" stop-color="#d3ff4d"/><stop offset="0.291" stop-color="#9fff8d"/><stop offset="0.493" stop-color="#68ffad"/><stop offset="0.496" stop-color="#53ffb4"/><stop offset="0.509" stop-color="#53ffb4"/><stop offset="0.512" stop-color="#00ffcf"/><stop offset="0.610" stop-color="#00fee9"/><stop offset="0.665" stop-color="#00f9ff"/><stop offset="1.000" stop-color="#00c8ff"/></linearGradient><linearGradient id="gBR27" gradientUnits="userSpaceOnUse" x1="1382.2" x2="2115.9"><stop offset="-0.000" stop-color="#d6ff48"/><stop offset="0.294" stop-color="#9fff8d"/><stop offset="0.493" stop-color="#68ffad"/><stop offset="0.496" stop-color="#53ffb4"/><stop offset="0.509" stop-color="#53ffb4"/><stop offset="0.512" stop-color="#00ffcf"/><stop offset="0.608" stop-color="#00fee9"/><stop offset="0.662" stop-color="#00f9ff"/><stop offset="1.000" stop-color="#00c4ff"/></linearGradient><linearGradient id="gBR28" gradientUnits="userSpaceOnUse" x1="1382.2" x2="2115.9"><stop offset="-0.000" stop-color="#d6ff48"/><stop offset="0.267" stop-color="#a6ff86"/><stop offset="0.493" stop-color="#68ffad"/><stop offset="0.496" stop-color="#53ffb4"/><stop offset="0.509" stop-color="#53ffb4"/><stop offset="0.512" stop-color="#00ffcf"/><stop offset="0.605" stop-color="#00fee9"/><stop offset="0.659" stop-color="#00f9ff"/><stop offset="1.000" stop-color="#00c1ff"/></linearGradient><linearGradient id="gBR29" gradientUnits="userSpaceOnUse" x1="1382.2" x2="2123.8"><stop offset="-0.000" stop-color="#d9ff42"/><stop offset="0.269" stop-color="#a6ff86"/><stop offset="0.488" stop-color="#68ffad"/><stop offset="0.491" stop-color="#53ffb4"/><stop offset="0.504" stop-color="#53ffb4"/><stop offset="0.507" stop-color="#00ffcf"/><stop offset="0.596" stop-color="#00fee9"/><stop offset="0.650" stop-color="#00f9ff"/><stop offset="0.998" stop-color="#00c1ff"/><stop offset="1.000" stop-color="#00c1ff"/></linearGradient><linearGradient id="gBR30" gradientUnits="userSpaceOnUse" x1="1382.2" x2="2123.8"><stop offset="-0.000" stop-color="#dcff3d"/><stop offset="0.129" stop-color="#c4ff63"/><stop offset="0.364" stop-color="#8fff9a"/><stop offset="0.488" stop-color="#68ffad"/><stop offset="0.491" stop-color="#53ffb4"/><stop offset="0.504" stop-color="#53ffb4"/><stop offset="0.507" stop-color="#00ffcf"/><stop offset="0.593" stop-color="#00fee9"/><stop offset="0.647" stop-color="#00f9ff"/><stop offset="1.000" stop-color="#00beff"/></linearGradient><linearGradient id="gBR31" gradientUnits="userSpaceOnUse" x1="1382.2" x2="2123.8"><stop offset="-0.000" stop-color="#dfff37"/><stop offset="0.083" stop-color="#ceff55"/><stop offset="0.353" stop-color="#94ff97"/><stop offset="0.488" stop-color="#68ffad"/><stop offset="0.491" stop-color="#53ffb4"/><stop offset="0.501" stop-color="#53ffb4"/><stop offset="0.504" stop-color="#00ffcf"/><stop offset="0.590" stop-color="#00fee9"/><stop offset="0.644" stop-color="#00f9ff"/><stop offset="0.992" stop-color="#00beff"/><stop offset="1.000" stop-color="#00beff"/></linearGradient><linearGradient id="gBR32" gradientUnits="userSpaceOnUse" x1="1382.2" x2="2131.7"><stop offset="-0.000" stop-color="#dfff37"/><stop offset="0.168" stop-color="#bfff6a"/><stop offset="0.381" stop-color="#8aff9c"/><stop offset="0.483" stop-color="#68ffad"/><stop offset="0.485" stop-color="#53ffb4"/><stop offset="0.496" stop-color="#53ffb4"/><stop offset="0.499" stop-color="#00ffcf"/><stop offset="0.584" stop-color="#00fee9"/><stop offset="0.632" stop-color="#00f9ff"/><stop offset="0.992" stop-color="#00bbff"/><stop offset="1.000" stop-color="#00bbff"/></linearGradient><linearGradient id="gBR33" gradientUnits="userSpaceOnUse" x1="1382.2" x2="2131.7"><stop offset="-0.000" stop-color="#e1ff32"/><stop offset="0.136" stop-color="#c7ff60"/><stop offset="0.368" stop-color="#8fff9a"/><stop offset="0.483" stop-color="#68ffad"/><stop offset="0.485" stop-color="#53ffb4"/><stop offset="0.496" stop-color="#53ffb4"/><stop offset="0.499" stop-color="#00ffcf"/><stop offset="0.581" stop-color="#00fee9"/><stop offset="0.629" stop-color="#00f9ff"/><stop offset="0.979" stop-color="#00bbff"/><stop offset="1.000" stop-color="#00b8ff"/></linearGradient><linearGradient id="gBR34" gradientUnits="userSpaceOnUse" x1="1382.2" x2="2131.7"><stop offset="-0.000" stop-color="#e4ff2c"/><stop offset="0.117" stop-color="#ccff59"/><stop offset="0.371" stop-color="#8fff9a"/><stop offset="0.483" stop-color="#68ffad"/><stop offset="0.485" stop-color="#53ffb4"/><stop offset="0.496" stop-color="#53ffb4"/><stop offset="0.499" stop-color="#00ffcf"/><stop offset="0.579" stop-color="#00fee9"/><stop offset="0.627" stop-color="#00f9ff"/><stop offset="0.987" stop-color="#00b8ff"/><stop offset="1.000" stop-color="#00b8ff"/></linearGradient><linearGradient id="gBR35" gradientUnits="userSpaceOnUse" x1="1382.2" x2="2139.6"><stop offset="-0.000" stop-color="#e7ff27"/><stop offset="0.111" stop-color="#ceff55"/><stop offset="0.356" stop-color="#94ff97"/><stop offset="0.478" stop-color="#68ffad"/><stop offset="0.480" stop-color="#53ffb4"/><stop offset="0.491" stop-color="#53ffb4"/><stop offset="0.494" stop-color="#00ffcf"/><stop offset="0.570" stop-color="#00fee9"/><stop offset="0.618" stop-color="#00f9ff"/><stop offset="0.966" stop-color="#00b8ff"/><stop offset="1.001" stop-color="#00b5ff"/></linearGradient><linearGradient id="gBR36" gradientUnits="userSpaceOnUse" x1="1382.2" x2="2139.6"><stop offset="-0.000" stop-color="#e7ff27"/><stop offset="0.140" stop-color="#c9ff5c"/><stop offset="0.372" stop-color="#8fff9a"/><stop offset="0.478" stop-color="#68ffad"/><stop offset="0.480" stop-color="#53ffb4"/><stop offset="0.491" stop-color="#53ffb4"/><stop offset="0.494" stop-color="#00ffcf"/><stop offset="0.570" stop-color="#00fee9"/><stop offset="0.615" stop-color="#00f9ff"/><stop offset="0.958" stop-color="#00b8ff"/><stop offset="1.001" stop-color="#00b5ff"/></linearGradient><linearGradient id="gBR37" gradientUnits="userSpaceOnUse" x1="1382.2" x2="2139.6"><stop offset="-0.000" stop-color="#eaff21"/><stop offset="0.124" stop-color="#ceff55"/><stop offset="0.362" stop-color="#94ff97"/><stop offset="0.478" stop-color="#68ffad"/><stop offset="0.480" stop-color="#53ffb4"/><stop offset="0.491" stop-color="#53ffb4"/><stop offset="0.494" stop-color="#00ffcf"/><stop offset="0.581" stop-color="#00fdef"/><stop offset="0.618" stop-color="#00f9ff"/><stop offset="0.964" stop-color="#00b5ff"/><stop offset="1.001" stop-color="#00b2ff"/></linearGradient><linearGradient id="gBR38" gradientUnits="userSpaceOnUse" x1="1382.2" x2="2147.5"><stop offset="-0.000" stop-color="#edff1c"/><stop offset="0.128" stop-color="#ceff55"/><stop offset="0.360" stop-color="#94ff97"/><stop offset="0.473" stop-color="#68ffad"/><stop offset="0.475" stop-color="#53ffb4"/><stop offset="0.486" stop-color="#53ffb4"/><stop offset="0.488" stop-color="#00ffcf"/><stop offset="0.572" stop-color="#00fdef"/><stop offset="0.609" stop-color="#00f9ff"/><stop offset="0.946" stop-color="#00b5ff"/><stop offset="1.001" stop-color="#00b2ff"/></linearGradient><linearGradient id="gBR39" gradientUnits="userSpaceOnUse" x1="1382.2" x2="2147.5"><stop offset="-0.000" stop-color="#effe18"/><stop offset="0.133" stop-color="#ceff55"/><stop offset="0.363" stop-color="#94ff97"/><stop offset="0.473" stop-color="#68ffad"/><stop offset="0.475" stop-color="#53ffb4"/><stop offset="0.486" stop-color="#53ffb4"/><stop offset="0.488" stop-color="#00ffcf"/><stop offset="0.559" stop-color="#00fee9"/><stop offset="0.603" stop-color="#00f9ff"/><stop offset="0.935" stop-color="#00b5ff"/><stop offset="1.001" stop-color="#00afff"/></linearGradient><linearGradient id="gBR40" gradientUnits="userSpaceOnUse" x1="1382.2" x2="2147.5"><stop offset="-0.000" stop-color="#effe18"/><stop offset="0.151" stop-color="#ccff59"/><stop offset="0.363" stop-color="#94ff97"/><stop offset="0.473" stop-color="#68ffad"/><stop offset="0.475" stop-color="#53ffb4"/><stop offset="0.486" stop-color="#53ffb4"/><stop offset="0.488" stop-color="#00ffcf"/><stop offset="0.556" stop-color="#00fee9"/><stop offset="0.601" stop-color="#00f9ff"/><stop offset="0.943" stop-color="#00b2ff"/><stop offset="1.001" stop-color="#00afff"/></linearGradient><linearGradient id="gBR41" gradientUnits="userSpaceOnUse" x1="1382.2" x2="2155.4"><stop offset="-0.000" stop-color="#f1fe15"/><stop offset="0.049" stop-color="#e7ff27"/><stop offset="0.145" stop-color="#ceff55"/><stop offset="0.362" stop-color="#94ff97"/><stop offset="0.468" stop-color="#68ffad"/><stop offset="0.471" stop-color="#53ffb4"/><stop offset="0.481" stop-color="#53ffb4"/><stop offset="0.483" stop-color="#00ffcf"/><stop offset="0.561" stop-color="#00fdef"/><stop offset="0.597" stop-color="#00f9ff"/><stop offset="0.923" stop-color="#00b2ff"/><stop offset="1.001" stop-color="#00acff"/></linearGradient><linearGradient id="gBR42" gradientUnits="userSpaceOnUse" x1="1382.2" x2="2155.4"><stop offset="-0.000" stop-color="#f2fc13"/><stop offset="0.057" stop-color="#e7ff27"/><stop offset="0.147" stop-color="#ceff55"/><stop offset="0.352" stop-color="#98ff94"/><stop offset="0.468" stop-color="#68ffad"/><stop offset="0.471" stop-color="#53ffb4"/><stop offset="0.481" stop-color="#53ffb4"/><stop offset="0.483" stop-color="#00ffcf"/><stop offset="0.548" stop-color="#00fee9"/><stop offset="0.592" stop-color="#00f9ff"/><stop offset="0.918" stop-color="#00b2ff"/><stop offset="1.001" stop-color="#00acff"/></linearGradient><linearGradient id="gBR43" gradientUnits="userSpaceOnUse" x1="1382.2" x2="2155.4"><stop offset="-0.000" stop-color="#f4fc10"/><stop offset="0.062" stop-color="#e7ff27"/><stop offset="0.165" stop-color="#ccff59"/><stop offset="0.367" stop-color="#94ff97"/><stop offset="0.468" stop-color="#68ffad"/><stop offset="0.471" stop-color="#53ffb4"/><stop offset="0.481" stop-color="#53ffb4"/><stop offset="0.483" stop-color="#00ffcf"/><stop offset="0.558" stop-color="#00fdef"/><stop offset="0.590" stop-color="#00f9ff"/><stop offset="0.923" stop-color="#00afff"/><stop offset="1.001" stop-color="#00acff"/></linearGradient><linearGradient id="gBR44" gradientUnits="userSpaceOnUse" x1="1382.2" x2="2155.4"><stop offset="-0.000" stop-color="#f4fc10"/><stop offset="0.059" stop-color="#eaff21"/><stop offset="0.160" stop-color="#ceff55"/><stop offset="0.367" stop-color="#94ff97"/><stop offset="0.468" stop-color="#68ffad"/><stop offset="0.471" stop-color="#53ffb4"/><stop offset="0.481" stop-color="#53ffb4"/><stop offset="0.483" stop-color="#00ffcf"/><stop offset="0.546" stop-color="#00fee9"/><stop offset="0.587" stop-color="#00f9ff"/><stop offset="0.915" stop-color="#00afff"/><stop offset="1.001" stop-color="#01a8ff"/></linearGradient><linearGradient id="gBR45" gradientUnits="userSpaceOnUse" x1="1382.2" x2="2155.4"><stop offset="-0.000" stop-color="#f6fa0e"/><stop offset="0.067" stop-color="#eaff21"/><stop offset="0.165" stop-color="#ceff55"/><stop offset="0.370" stop-color="#94ff97"/><stop offset="0.468" stop-color="#68ffad"/><stop offset="0.471" stop-color="#53ffb4"/><stop offset="0.481" stop-color="#53ffb4"/><stop offset="0.483" stop-color="#00ffcf"/><stop offset="0.546" stop-color="#00fee9"/><stop offset="0.584" stop-color="#00f9ff"/><stop offset="0.910" stop-color="#00afff"/><stop offset="1.001" stop-color="#01a8ff"/></linearGradient><linearGradient id="gBR46" gradientUnits="userSpaceOnUse" x1="1382.2" x2="2147.5"><stop offset="-0.000" stop-color="#f7fa0b"/><stop offset="0.073" stop-color="#eaff21"/><stop offset="0.172" stop-color="#ceff55"/><stop offset="0.376" stop-color="#94ff97"/><stop offset="0.473" stop-color="#68ffad"/><stop offset="0.475" stop-color="#53ffb4"/><stop offset="0.483" stop-color="#53ffb4"/><stop offset="0.486" stop-color="#00ffcf"/><stop offset="0.549" stop-color="#00fee9"/><stop offset="0.588" stop-color="#00f9ff"/><stop offset="0.927" stop-color="#00acff"/><stop offset="1.001" stop-color="#01a8ff"/></linearGradient><linearGradient id="gBR47" gradientUnits="userSpaceOnUse" x1="1382.2" x2="2147.5"><stop offset="-0.000" stop-color="#f9f809"/><stop offset="0.078" stop-color="#eaff21"/><stop offset="0.177" stop-color="#ceff55"/><stop offset="0.376" stop-color="#94ff97"/><stop offset="0.473" stop-color="#68ffad"/><stop offset="0.475" stop-color="#53ffb4"/><stop offset="0.483" stop-color="#53ffb4"/><stop offset="0.486" stop-color="#00ffcf"/><stop offset="0.549" stop-color="#00fee9"/><stop offset="0.588" stop-color="#00f9ff"/><stop offset="0.920" stop-color="#00acff"/><stop offset="1.001" stop-color="#04a5ff"/></linearGradient><linearGradient id="gBR48" gradientUnits="userSpaceOnUse" x1="1382.2" x2="2139.6"><stop offset="-0.000" stop-color="#f9f809"/><stop offset="0.087" stop-color="#eaff21"/><stop offset="0.182" stop-color="#ceff55"/><stop offset="0.383" stop-color="#94ff97"/><stop offset="0.478" stop-color="#68ffad"/><stop offset="0.480" stop-color="#53ffb4"/><stop offset="0.488" stop-color="#53ffb4"/><stop offset="0.491" stop-color="#00ffcf"/><stop offset="0.562" stop-color="#00fdef"/><stop offset="0.594" stop-color="#00f9ff"/><stop offset="0.919" stop-color="#00acff"/><stop offset="1.001" stop-color="#04a5ff"/></linearGradient><linearGradient id="gBR49" gradientUnits="userSpaceOnUse" x1="1382.2" x2="2131.7"><stop offset="-0.000" stop-color="#fbf806"/><stop offset="0.082" stop-color="#edff1c"/><stop offset="0.189" stop-color="#ceff55"/><stop offset="0.379" stop-color="#98ff94"/><stop offset="0.483" stop-color="#68ffad"/><stop offset="0.485" stop-color="#53ffb4"/><stop offset="0.493" stop-color="#53ffb4"/><stop offset="0.496" stop-color="#00ffcf"/><stop offset="0.568" stop-color="#00fdef"/><stop offset="0.600" stop-color="#00f6ff"/><stop offset="0.939" stop-color="#01a8ff"/><stop offset="1.000" stop-color="#04a5ff"/></linearGradient><linearGradient id="gBR50" gradientUnits="userSpaceOnUse" x1="1382.2" x2="2131.7"><stop offset="-0.000" stop-color="#fcf604"/><stop offset="0.098" stop-color="#eaff21"/><stop offset="0.195" stop-color="#ceff55"/><stop offset="0.379" stop-color="#98ff94"/><stop offset="0.483" stop-color="#68ffad"/><stop offset="0.485" stop-color="#53ffb4"/><stop offset="0.493" stop-color="#53ffb4"/><stop offset="0.496" stop-color="#00ffcf"/><stop offset="0.555" stop-color="#00fee9"/><stop offset="0.595" stop-color="#00f9ff"/><stop offset="0.915" stop-color="#00acff"/><stop offset="1.000" stop-color="#06a2ff"/></linearGradient><linearGradient id="gBR51" gradientUnits="userSpaceOnUse" x1="1382.2" x2="2123.8"><stop offset="-0.000" stop-color="#fef601"/><stop offset="0.105" stop-color="#eaff21"/><stop offset="0.210" stop-color="#ccff59"/><stop offset="0.396" stop-color="#94ff97"/><stop offset="0.488" stop-color="#68ffad"/><stop offset="0.491" stop-color="#53ffb4"/><stop offset="0.499" stop-color="#53ffb4"/><stop offset="0.501" stop-color="#00ffcf"/><stop offset="0.571" stop-color="#00fdef"/><stop offset="0.604" stop-color="#00f6ff"/><stop offset="0.935" stop-color="#01a8ff"/><stop offset="1.000" stop-color="#06a2ff"/></linearGradient><linearGradient id="gBR52" gradientUnits="userSpaceOnUse" x1="1382.2" x2="2123.8"><stop offset="-0.000" stop-color="#fef601"/><stop offset="0.110" stop-color="#eaff21"/><stop offset="0.205" stop-color="#ceff55"/><stop offset="0.396" stop-color="#94ff97"/><stop offset="0.488" stop-color="#68ffad"/><stop offset="0.491" stop-color="#53ffb4"/><stop offset="0.499" stop-color="#53ffb4"/><stop offset="0.501" stop-color="#00ffcf"/><stop offset="0.569" stop-color="#00fdef"/><stop offset="0.601" stop-color="#00f6ff"/><stop offset="0.927" stop-color="#01a8ff"/><stop offset="1.000" stop-color="#06a2ff"/></linearGradient><linearGradient id="gBR53" gradientUnits="userSpaceOnUse" x1="1382.2" x2="2115.9"><stop offset="-0.000" stop-color="#fff300"/><stop offset="0.117" stop-color="#eaff21"/><stop offset="0.212" stop-color="#ceff55"/><stop offset="0.403" stop-color="#94ff97"/><stop offset="0.493" stop-color="#68ffad"/><stop offset="0.496" stop-color="#53ffb4"/><stop offset="0.504" stop-color="#53ffb4"/><stop offset="0.507" stop-color="#00ffcf"/><stop offset="0.564" stop-color="#00fee9"/><stop offset="0.599" stop-color="#00f9ff"/><stop offset="0.932" stop-color="#01a8ff"/><stop offset="1.000" stop-color="#099fff"/></linearGradient><linearGradient id="gBR54" gradientUnits="userSpaceOnUse" x1="1382.2" x2="2115.9"><stop offset="-0.000" stop-color="#ffee00"/><stop offset="0.122" stop-color="#eaff21"/><stop offset="0.223" stop-color="#ccff59"/><stop offset="0.395" stop-color="#98ff94"/><stop offset="0.493" stop-color="#68ffad"/><stop offset="0.496" stop-color="#53ffb4"/><stop offset="0.504" stop-color="#53ffb4"/><stop offset="0.507" stop-color="#00ffcf"/><stop offset="0.572" stop-color="#00fdef"/><stop offset="0.605" stop-color="#00f6ff"/><stop offset="0.937" stop-color="#04a5ff"/><stop offset="1.000" stop-color="#099fff"/></linearGradient><linearGradient id="gBR55" gradientUnits="userSpaceOnUse" x1="1382.2" x2="2108.1"><stop offset="-0.000" stop-color="#ffee00"/><stop offset="0.121" stop-color="#edff1c"/><stop offset="0.223" stop-color="#ceff55"/><stop offset="0.399" stop-color="#98ff94"/><stop offset="0.498" stop-color="#68ffad"/><stop offset="0.501" stop-color="#53ffb4"/><stop offset="0.509" stop-color="#53ffb4"/><stop offset="0.512" stop-color="#00ffcf"/><stop offset="0.567" stop-color="#00fee9"/><stop offset="0.603" stop-color="#00f9ff"/><stop offset="0.942" stop-color="#04a5ff"/><stop offset="1.000" stop-color="#099fff"/></linearGradient><linearGradient id="gBR56" gradientUnits="userSpaceOnUse" x1="1382.2" x2="2100.2"><stop offset="-0.000" stop-color="#ffea00"/><stop offset="0.092" stop-color="#f2fc13"/><stop offset="0.136" stop-color="#eaff21"/><stop offset="0.228" stop-color="#ceff55"/><stop offset="0.406" stop-color="#98ff94"/><stop offset="0.504" stop-color="#68ffad"/><stop offset="0.507" stop-color="#53ffb4"/><stop offset="0.515" stop-color="#53ffb4"/><stop offset="0.518" stop-color="#00ffcf"/><stop offset="0.582" stop-color="#00fdef"/><stop offset="0.615" stop-color="#00f6ff"/><stop offset="0.947" stop-color="#04a5ff"/><stop offset="1.000" stop-color="#099fff"/></linearGradient><linearGradient id="gBR57" gradientUnits="userSpaceOnUse" x1="1382.2" x2="2100.2"><stop offset="-0.000" stop-color="#ffe600"/><stop offset="0.064" stop-color="#f9f809"/><stop offset="0.142" stop-color="#eaff21"/><stop offset="0.231" stop-color="#ceff55"/><stop offset="0.406" stop-color="#98ff94"/><stop offset="0.504" stop-color="#68ffad"/><stop offset="0.507" stop-color="#53ffb4"/><stop offset="0.515" stop-color="#53ffb4"/><stop offset="0.518" stop-color="#00ffcf"/><stop offset="0.571" stop-color="#00fee9"/><stop offset="0.607" stop-color="#00f9ff"/><stop offset="0.938" stop-color="#04a5ff"/><stop offset="1.000" stop-color="#099fff"/></linearGradient><linearGradient id="gBR58" gradientUnits="userSpaceOnUse" x1="1382.2" x2="2092.3"><stop offset="-0.000" stop-color="#ffe100"/><stop offset="0.059" stop-color="#fbf806"/><stop offset="0.149" stop-color="#eaff21"/><stop offset="0.239" stop-color="#ceff55"/><stop offset="0.414" stop-color="#98ff94"/><stop offset="0.510" stop-color="#68ffad"/><stop offset="0.512" stop-color="#53ffb4"/><stop offset="0.521" stop-color="#53ffb4"/><stop offset="0.524" stop-color="#00ffcf"/><stop offset="0.577" stop-color="#00fee9"/><stop offset="0.614" stop-color="#00f9ff"/><stop offset="0.943" stop-color="#04a5ff"/><stop offset="1.000" stop-color="#099fff"/></linearGradient><linearGradient id="gBR59" gradientUnits="userSpaceOnUse" x1="1382.2" x2="2092.3"><stop offset="-0.000" stop-color="#ffe100"/><stop offset="0.073" stop-color="#f9f809"/><stop offset="0.152" stop-color="#eaff21"/><stop offset="0.242" stop-color="#ceff55"/><stop offset="0.414" stop-color="#98ff94"/><stop offset="0.510" stop-color="#68ffad"/><stop offset="0.512" stop-color="#53ffb4"/><stop offset="0.518" stop-color="#53ffb4"/><stop offset="0.521" stop-color="#00ffcf"/><stop offset="0.586" stop-color="#00fdef"/><stop offset="0.619" stop-color="#00f6ff"/><stop offset="0.938" stop-color="#04a5ff"/><stop offset="1.000" stop-color="#0b9cff"/></linearGradient><linearGradient id="gBR60" gradientUnits="userSpaceOnUse" x1="1382.2" x2="2084.4"><stop offset="-0.000" stop-color="#ffdd00"/><stop offset="0.071" stop-color="#fbf806"/><stop offset="0.159" stop-color="#eaff21"/><stop offset="0.256" stop-color="#ccff59"/><stop offset="0.421" stop-color="#98ff94"/><stop offset="0.515" stop-color="#68ffad"/><stop offset="0.518" stop-color="#53ffb4"/><stop offset="0.524" stop-color="#53ffb4"/><stop offset="0.527" stop-color="#00ffcf"/><stop offset="0.581" stop-color="#00fee9"/><stop offset="0.618" stop-color="#00f9ff"/><stop offset="0.942" stop-color="#04a5ff"/><stop offset="0.999" stop-color="#0b9cff"/></linearGradient><linearGradient id="gBR61" gradientUnits="userSpaceOnUse" x1="1382.2" x2="2084.4"><stop offset="-0.000" stop-color="#ffd900"/><stop offset="0.071" stop-color="#fcf604"/><stop offset="0.165" stop-color="#eaff21"/><stop offset="0.253" stop-color="#ceff55"/><stop offset="0.421" stop-color="#98ff94"/><stop offset="0.515" stop-color="#68ffad"/><stop offset="0.518" stop-color="#53ffb4"/><stop offset="0.524" stop-color="#53ffb4"/><stop offset="0.527" stop-color="#00ffcf"/><stop offset="0.581" stop-color="#00fee9"/><stop offset="0.618" stop-color="#00f9ff"/><stop offset="0.948" stop-color="#06a2ff"/><stop offset="0.999" stop-color="#0b9cff"/></linearGradient><linearGradient id="gBR62" gradientUnits="userSpaceOnUse" x1="1382.2" x2="2076.5"><stop offset="-0.000" stop-color="#ffd900"/><stop offset="0.083" stop-color="#fbf806"/><stop offset="0.170" stop-color="#eaff21"/><stop offset="0.259" stop-color="#ceff55"/><stop offset="0.417" stop-color="#9bff91"/><stop offset="0.521" stop-color="#68ffad"/><stop offset="0.524" stop-color="#53ffb4"/><stop offset="0.530" stop-color="#53ffb4"/><stop offset="0.533" stop-color="#00ffcf"/><stop offset="0.605" stop-color="#00fcf6"/><stop offset="0.636" stop-color="#00f4ff"/><stop offset="0.956" stop-color="#06a2ff"/><stop offset="0.999" stop-color="#0b9cff"/></linearGradient><linearGradient id="gBR63" gradientUnits="userSpaceOnUse" x1="1382.2" x2="2068.6"><stop offset="-0.000" stop-color="#ffd400"/><stop offset="0.084" stop-color="#fcf604"/><stop offset="0.177" stop-color="#eaff21"/><stop offset="0.265" stop-color="#ceff55"/><stop offset="0.434" stop-color="#98ff94"/><stop offset="0.527" stop-color="#68ffad"/><stop offset="0.530" stop-color="#53ffb4"/><stop offset="0.536" stop-color="#53ffb4"/><stop offset="0.539" stop-color="#00ffcf"/><stop offset="0.612" stop-color="#00fcf6"/><stop offset="0.644" stop-color="#00f4ff"/><stop offset="0.961" stop-color="#06a2ff"/><stop offset="0.999" stop-color="#0b9cff"/></linearGradient><linearGradient id="gBR64" gradientUnits="userSpaceOnUse" x1="1382.2" x2="2068.6"><stop offset="-0.000" stop-color="#ffd000"/><stop offset="0.087" stop-color="#fcf604"/><stop offset="0.180" stop-color="#eaff21"/><stop offset="0.277" stop-color="#ccff59"/><stop offset="0.434" stop-color="#98ff94"/><stop offset="0.527" stop-color="#68ffad"/><stop offset="0.530" stop-color="#53ffb4"/><stop offset="0.536" stop-color="#53ffb4"/><stop offset="0.539" stop-color="#00ffcf"/><stop offset="0.600" stop-color="#00fdef"/><stop offset="0.626" stop-color="#00f9ff"/><stop offset="0.955" stop-color="#06a2ff"/><stop offset="0.999" stop-color="#0b9cff"/></linearGradient><linearGradient id="gBR65" gradientUnits="userSpaceOnUse" x1="1382.2" x2="2060.7"><stop offset="-0.000" stop-color="#ffd000"/><stop offset="0.100" stop-color="#fbf806"/><stop offset="0.188" stop-color="#eaff21"/><stop offset="0.283" stop-color="#ccff59"/><stop offset="0.442" stop-color="#98ff94"/><stop offset="0.533" stop-color="#68ffad"/><stop offset="0.536" stop-color="#53ffb4"/><stop offset="0.542" stop-color="#53ffb4"/><stop offset="0.545" stop-color="#00ffcf"/><stop offset="0.607" stop-color="#00fdef"/><stop offset="0.633" stop-color="#00f9ff"/><stop offset="0.961" stop-color="#06a2ff"/><stop offset="0.999" stop-color="#0b9cff"/></linearGradient><linearGradient id="gBR66" gradientUnits="userSpaceOnUse" x1="1382.2" x2="2060.7"><stop offset="-0.000" stop-color="#ffcd00"/><stop offset="0.106" stop-color="#fbf806"/><stop offset="0.191" stop-color="#eaff21"/><stop offset="0.286" stop-color="#ccff59"/><stop offset="0.433" stop-color="#9bff91"/><stop offset="0.533" stop-color="#68ffad"/><stop offset="0.536" stop-color="#53ffb4"/><stop offset="0.542" stop-color="#53ffb4"/><stop offset="0.545" stop-color="#00ffcf"/><stop offset="0.604" stop-color="#00fdef"/><stop offset="0.639" stop-color="#00f6ff"/><stop offset="0.955" stop-color="#06a2ff"/><stop offset="0.999" stop-color="#0b9cff"/></linearGradient><linearGradient id="gBR67" gradientUnits="userSpaceOnUse" x1="1382.2" x2="2052.8"><stop offset="-0.000" stop-color="#ffca00"/><stop offset="0.107" stop-color="#fcf604"/><stop offset="0.197" stop-color="#eaff21"/><stop offset="0.292" stop-color="#ccff59"/><stop offset="0.459" stop-color="#94ff97"/><stop offset="0.540" stop-color="#68ffad"/><stop offset="0.542" stop-color="#53ffb4"/><stop offset="0.548" stop-color="#53ffb4"/><stop offset="0.551" stop-color="#00ffcf"/><stop offset="0.611" stop-color="#00fdef"/><stop offset="0.638" stop-color="#00f9ff"/><stop offset="0.963" stop-color="#06a2ff"/><stop offset="0.999" stop-color="#0b9cff"/></linearGradient><linearGradient id="gBR68" gradientUnits="userSpaceOnUse" x1="1382.2" x2="2052.8"><stop offset="-0.000" stop-color="#ffca00"/><stop offset="0.116" stop-color="#fbf806"/><stop offset="0.203" stop-color="#eaff21"/><stop offset="0.286" stop-color="#ceff55"/><stop offset="0.450" stop-color="#98ff94"/><stop offset="0.540" stop-color="#68ffad"/><stop offset="0.542" stop-color="#53ffb4"/><stop offset="0.548" stop-color="#53ffb4"/><stop offset="0.551" stop-color="#00ffcf"/><stop offset="0.611" stop-color="#00fdef"/><stop offset="0.638" stop-color="#00f9ff"/><stop offset="0.957" stop-color="#06a2ff"/><stop offset="0.999" stop-color="#0b9cff"/></linearGradient><linearGradient id="gBR69" gradientUnits="userSpaceOnUse" x1="1382.2" x2="2044.9"><stop offset="-0.000" stop-color="#ffc600"/><stop offset="0.120" stop-color="#fcf604"/><stop offset="0.208" stop-color="#eaff21"/><stop offset="0.301" stop-color="#ccff59"/><stop offset="0.446" stop-color="#9bff91"/><stop offset="0.546" stop-color="#68ffad"/><stop offset="0.549" stop-color="#53ffb4"/><stop offset="0.555" stop-color="#53ffb4"/><stop offset="0.558" stop-color="#00ffcf"/><stop offset="0.615" stop-color="#00fdef"/><stop offset="0.642" stop-color="#00f9ff"/><stop offset="0.965" stop-color="#06a2ff"/><stop offset="0.999" stop-color="#0b9cff"/></linearGradient><linearGradient id="gBR70" gradientUnits="userSpaceOnUse" x1="1390.1" x2="2044.9"><stop offset="-0.000" stop-color="#ffca00"/><stop offset="0.110" stop-color="#fcf604"/><stop offset="0.201" stop-color="#eaff21"/><stop offset="0.296" stop-color="#ccff59"/><stop offset="0.452" stop-color="#98ff94"/><stop offset="0.540" stop-color="#68ffad"/><stop offset="0.544" stop-color="#53ffb4"/><stop offset="0.550" stop-color="#53ffb4"/><stop offset="0.553" stop-color="#00ffcf"/><stop offset="0.638" stop-color="#00f9ff"/><stop offset="0.959" stop-color="#06a2ff"/><stop offset="0.999" stop-color="#0b9cff"/></linearGradient><linearGradient id="gBR71" gradientUnits="userSpaceOnUse" x1="1398.0" x2="2029.2"><stop offset="-0.002" stop-color="#ffca00"/><stop offset="0.113" stop-color="#fbf806"/><stop offset="0.201" stop-color="#eaff21"/><stop offset="0.290" stop-color="#ceff55"/><stop offset="0.455" stop-color="#98ff94"/><stop offset="0.547" stop-color="#68ffad"/><stop offset="0.550" stop-color="#53ffb4"/><stop offset="0.556" stop-color="#53ffb4"/><stop offset="0.559" stop-color="#00ffcf"/><stop offset="0.610" stop-color="#00fee9"/><stop offset="0.648" stop-color="#00f9ff"/><stop offset="0.978" stop-color="#06a2ff"/><stop offset="1.000" stop-color="#099fff"/></linearGradient><linearGradient id="gBR72" gradientUnits="userSpaceOnUse" x1="1413.7" x2="2005.5"><stop offset="-0.001" stop-color="#ffd000"/><stop offset="0.093" stop-color="#fcf604"/><stop offset="0.191" stop-color="#eaff21"/><stop offset="0.286" stop-color="#ceff55"/><stop offset="0.472" stop-color="#94ff97"/><stop offset="0.556" stop-color="#68ffad"/><stop offset="0.560" stop-color="#53ffb4"/><stop offset="0.567" stop-color="#53ffb4"/><stop offset="0.570" stop-color="#00ffcf"/><stop offset="0.665" stop-color="#00f9ff"/><stop offset="0.999" stop-color="#06a2ff"/></linearGradient><linearGradient id="gBR73" gradientUnits="userSpaceOnUse" x1="1421.6" x2="1989.7"><stop offset="-0.001" stop-color="#ffd400"/><stop offset="0.087" stop-color="#fcf604"/><stop offset="0.178" stop-color="#edff1c"/><stop offset="0.295" stop-color="#ccff59"/><stop offset="0.457" stop-color="#9bff91"/><stop offset="0.566" stop-color="#68ffad"/><stop offset="0.569" stop-color="#53ffb4"/><stop offset="0.576" stop-color="#53ffb4"/><stop offset="0.580" stop-color="#00ffcf"/><stop offset="0.678" stop-color="#00f6ff"/><stop offset="0.999" stop-color="#01a8ff"/></linearGradient><linearGradient id="gBR74" gradientUnits="userSpaceOnUse" x1="1437.4" x2="1966.0"><stop offset="-0.001" stop-color="#ffe100"/><stop offset="0.090" stop-color="#f9f809"/><stop offset="0.177" stop-color="#eaff21"/><stop offset="0.291" stop-color="#ccff59"/><stop offset="0.472" stop-color="#98ff94"/><stop offset="0.578" stop-color="#68ffad"/><stop offset="0.582" stop-color="#53ffb4"/><stop offset="0.589" stop-color="#53ffb4"/><stop offset="0.593" stop-color="#00ffcf"/><stop offset="0.673" stop-color="#00fcf6"/><stop offset="0.714" stop-color="#00f4ff"/><stop offset="1.002" stop-color="#00afff"/></linearGradient><linearGradient id="gBR75" gradientUnits="userSpaceOnUse" x1="1453.2" x2="1942.4"><stop offset="-0.000" stop-color="#ffea00"/><stop offset="0.102" stop-color="#f4fc10"/><stop offset="0.163" stop-color="#eaff21"/><stop offset="0.286" stop-color="#ccff59"/><stop offset="0.490" stop-color="#94ff97"/><stop offset="0.592" stop-color="#68ffad"/><stop offset="0.597" stop-color="#53ffb4"/><stop offset="0.605" stop-color="#53ffb4"/><stop offset="0.609" stop-color="#00ffcf"/><stop offset="0.682" stop-color="#00fdef"/><stop offset="0.719" stop-color="#00f9ff"/><stop offset="1.001" stop-color="#00b8ff"/></linearGradient><linearGradient id="gBR76" gradientUnits="userSpaceOnUse" x1="1469.0" x2="1926.6"><stop offset="-0.002" stop-color="#fff300"/><stop offset="0.146" stop-color="#eaff21"/><stop offset="0.273" stop-color="#ccff59"/><stop offset="0.479" stop-color="#98ff94"/><stop offset="0.601" stop-color="#68ffad"/><stop offset="0.605" stop-color="#53ffb4"/><stop offset="0.610" stop-color="#53ffb4"/><stop offset="0.614" stop-color="#00ffcf"/><stop offset="0.706" stop-color="#00fcf6"/><stop offset="0.754" stop-color="#00f4ff"/><stop offset="0.999" stop-color="#00beff"/></linearGradient><linearGradient id="gBR77" gradientUnits="userSpaceOnUse" x1="1484.8" x2="1902.9"><stop offset="-0.002" stop-color="#fcf604"/><stop offset="0.127" stop-color="#eaff21"/><stop offset="0.266" stop-color="#ccff59"/><stop offset="0.500" stop-color="#94ff97"/><stop offset="0.620" stop-color="#68ffad"/><stop offset="0.625" stop-color="#53ffb4"/><stop offset="0.630" stop-color="#53ffb4"/><stop offset="0.634" stop-color="#00ffcf"/><stop offset="0.720" stop-color="#00fdef"/><stop offset="0.763" stop-color="#00f9ff"/><stop offset="0.998" stop-color="#00caff"/></linearGradient><linearGradient id="gBR78" gradientUnits="userSpaceOnUse" x1="1500.5" x2="1887.1"><stop offset="-0.001" stop-color="#f7fa0b"/><stop offset="0.102" stop-color="#eaff21"/><stop offset="0.237" stop-color="#ceff55"/><stop offset="0.490" stop-color="#98ff94"/><stop offset="0.630" stop-color="#68ffad"/><stop offset="0.635" stop-color="#53ffb4"/><stop offset="0.640" stop-color="#53ffb4"/><stop offset="0.645" stop-color="#00ffcf"/><stop offset="0.723" stop-color="#00fee9"/><stop offset="0.785" stop-color="#00f6ff"/><stop offset="1.002" stop-color="#00d0ff"/></linearGradient><linearGradient id="gBR79" gradientUnits="userSpaceOnUse" x1="1516.3" x2="1863.5"><stop offset="-0.001" stop-color="#f2fc13"/><stop offset="0.103" stop-color="#e4ff2c"/><stop offset="0.247" stop-color="#c9ff5c"/><stop offset="0.483" stop-color="#9bff91"/><stop offset="0.656" stop-color="#68ffad"/><stop offset="0.662" stop-color="#53ffb4"/><stop offset="0.667" stop-color="#53ffb4"/><stop offset="0.673" stop-color="#00ffcf"/><stop offset="0.760" stop-color="#00fee9"/><stop offset="0.829" stop-color="#00f6ff"/><stop offset="1.002" stop-color="#00dcff"/></linearGradient><linearGradient id="gBR80" gradientUnits="userSpaceOnUse" x1="1540.0" x2="1839.8"><stop offset="-0.003" stop-color="#edff1c"/><stop offset="0.184" stop-color="#ceff55"/><stop offset="0.484" stop-color="#9bff91"/><stop offset="0.677" stop-color="#68ffad"/><stop offset="0.684" stop-color="#53ffb4"/><stop offset="0.697" stop-color="#53ffb4"/><stop offset="0.704" stop-color="#00ffcf"/><stop offset="0.817" stop-color="#00fdef"/><stop offset="0.877" stop-color="#00f6ff"/><stop offset="0.997" stop-color="#00e7ff"/></linearGradient><linearGradient id="gBR81" gradientUnits="userSpaceOnUse" x1="1555.8" x2="1824.0"><stop offset="-0.003" stop-color="#e4ff2c"/><stop offset="0.184" stop-color="#c9ff5c"/><stop offset="0.504" stop-color="#98ff94"/><stop offset="0.698" stop-color="#68ffad"/><stop offset="0.705" stop-color="#53ffb4"/><stop offset="0.720" stop-color="#53ffb4"/><stop offset="0.728" stop-color="#00ffcf"/><stop offset="0.855" stop-color="#00fdef"/><stop offset="0.922" stop-color="#00f6ff"/><stop offset="1.004" stop-color="#00ecff"/></linearGradient><linearGradient id="gBR82" gradientUnits="userSpaceOnUse" x1="1579.4" x2="1776.7"><stop offset="-0.002" stop-color="#d9ff42"/><stop offset="0.170" stop-color="#c7ff60"/><stop offset="0.616" stop-color="#8fff9a"/><stop offset="0.829" stop-color="#68ffad"/><stop offset="0.839" stop-color="#53ffb4"/><stop offset="0.860" stop-color="#53ffb4"/><stop offset="0.870" stop-color="#00ffcf"/><stop offset="1.002" stop-color="#00fee9"/></linearGradient><linearGradient id="gBR83" gradientUnits="userSpaceOnUse" x1="1626.8" x2="1729.3"><stop offset="-0.008" stop-color="#c2ff67"/><stop offset="0.792" stop-color="#8aff9c"/><stop offset="1.006" stop-color="#72ffa8"/></linearGradient></defs><rect x="792.9" y="206.81" width="23.6" height="7.06" fill="url(#gTL0)"/><rect x="753.6" y="213.58" width="63.0" height="7.06" fill="url(#gTL1)"/><rect x="722.1" y="220.34" width="102.3" height="7.06" fill="url(#gTL2)"/><rect x="690.6" y="227.11" width="141.7" height="7.06" fill="url(#gTL3)"/><rect x="651.3" y="233.87" width="181.0" height="7.06" fill="url(#gTL4)"/><rect x="619.8" y="240.64" width="220.4" height="7.06" fill="url(#gTL5)"/><rect x="588.3" y="247.40" width="259.7" height="7.06" fill="url(#gTL6)"/><rect x="556.8" y="254.17" width="291.2" height="7.06" fill="url(#gTL7)"/><rect x="533.2" y="260.93" width="322.7" height="7.06" fill="url(#gTL8)"/><rect x="501.7" y="267.70" width="362.0" height="7.06" fill="url(#gTL9)"/><rect x="470.3" y="274.46" width="393.5" height="7.06" fill="url(#gTL10)"/><rect x="446.6" y="281.23" width="417.1" height="7.06" fill="url(#gTL11)"/><rect x="415.2" y="287.99" width="456.5" height="7.06" fill="url(#gTL12)"/><rect x="399.4" y="294.76" width="472.2" height="7.06" fill="url(#gTL13)"/><rect x="383.7" y="301.52" width="495.8" height="7.06" fill="url(#gTL14)"/><rect x="383.7" y="308.29" width="495.8" height="7.06" fill="url(#gTL15)"/><rect x="375.8" y="315.05" width="503.7" height="7.06" fill="url(#gTL16)"/><rect x="375.8" y="321.82" width="511.6" height="7.06" fill="url(#gTL17)"/><rect x="375.8" y="328.58" width="511.6" height="7.06" fill="url(#gTL18)"/><rect x="375.8" y="335.35" width="511.6" height="7.06" fill="url(#gTL19)"/><rect x="375.8" y="342.11" width="519.4" height="7.06" fill="url(#gTL20)"/><rect x="375.8" y="348.88" width="519.4" height="7.06" fill="url(#gTL21)"/><rect x="375.8" y="355.64" width="527.3" height="7.06" fill="url(#gTL22)"/><rect x="375.8" y="362.41" width="527.3" height="7.06" fill="url(#gTL23)"/><rect x="375.8" y="369.17" width="527.3" height="7.06" fill="url(#gTL24)"/><rect x="375.8" y="375.94" width="535.2" height="7.06" fill="url(#gTL25)"/><rect x="375.8" y="382.70" width="535.2" height="7.06" fill="url(#gTL26)"/><rect x="367.9" y="389.47" width="543.0" height="7.06" fill="url(#gTL27)"/><rect x="367.9" y="396.23" width="543.0" height="7.06" fill="url(#gTL28)"/><rect x="367.9" y="403.00" width="550.9" height="7.06" fill="url(#gTL29)"/><rect x="367.9" y="409.76" width="550.9" height="7.06" fill="url(#gTL30)"/><rect x="367.9" y="416.53" width="558.8" height="7.06" fill="url(#gTL31)"/><rect x="367.9" y="423.29" width="558.8" height="7.06" fill="url(#gTL32)"/><rect x="367.9" y="430.06" width="558.8" height="7.06" fill="url(#gTL33)"/><rect x="367.9" y="436.82" width="566.6" height="7.06" fill="url(#gTL34)"/><rect x="367.9" y="443.59" width="566.6" height="7.06" fill="url(#gTL35)"/><rect x="367.9" y="450.35" width="566.6" height="7.06" fill="url(#gTL36)"/><rect x="367.9" y="457.12" width="574.5" height="7.06" fill="url(#gTL37)"/><rect x="360.1" y="463.88" width="582.4" height="7.06" fill="url(#gTL38)"/><rect x="360.1" y="470.65" width="582.4" height="7.06" fill="url(#gTL39)"/><rect x="360.1" y="477.41" width="590.2" height="7.06" fill="url(#gTL40)"/><rect x="360.1" y="484.18" width="590.2" height="7.06" fill="url(#gTL41)"/><rect x="360.1" y="490.94" width="590.2" height="7.06" fill="url(#gTL42)"/><rect x="360.1" y="497.71" width="590.2" height="7.06" fill="url(#gTL43)"/><rect x="360.1" y="504.47" width="598.1" height="7.06" fill="url(#gTL44)"/><rect x="360.1" y="511.24" width="598.1" height="7.06" fill="url(#gTL45)"/><rect x="360.1" y="518.00" width="598.1" height="7.06" fill="url(#gTL46)"/><rect x="360.1" y="524.77" width="598.1" height="7.06" fill="url(#gTL47)"/><rect x="360.1" y="531.53" width="598.1" height="7.06" fill="url(#gTL48)"/><rect x="360.1" y="538.30" width="598.1" height="7.06" fill="url(#gTL49)"/><rect x="360.1" y="545.06" width="590.2" height="7.06" fill="url(#gTL50)"/><rect x="360.1" y="551.83" width="590.2" height="7.06" fill="url(#gTL51)"/><rect x="360.1" y="558.59" width="590.2" height="7.06" fill="url(#gTL52)"/><rect x="360.1" y="565.36" width="590.2" height="7.06" fill="url(#gTL53)"/><rect x="352.2" y="572.12" width="590.2" height="7.06" fill="url(#gTL54)"/><rect x="352.2" y="578.89" width="590.2" height="7.06" fill="url(#gTL55)"/><rect x="352.2" y="585.65" width="590.2" height="7.06" fill="url(#gTL56)"/><rect x="352.2" y="592.42" width="582.4" height="7.06" fill="url(#gTL57)"/><rect x="352.2" y="599.18" width="582.4" height="7.06" fill="url(#gTL58)"/><rect x="352.2" y="605.95" width="582.4" height="7.06" fill="url(#gTL59)"/><rect x="352.2" y="612.71" width="574.5" height="7.06" fill="url(#gTL60)"/><rect x="352.2" y="619.48" width="574.5" height="7.06" fill="url(#gTL61)"/><rect x="352.2" y="626.24" width="558.8" height="7.06" fill="url(#gTL62)"/><rect x="352.2" y="633.01" width="550.9" height="7.06" fill="url(#gTL63)"/><rect x="352.2" y="639.77" width="550.9" height="7.06" fill="url(#gTL64)"/><rect x="352.2" y="646.54" width="543.0" height="7.06" fill="url(#gTL65)"/><rect x="352.2" y="653.30" width="535.2" height="7.06" fill="url(#gTL66)"/><rect x="352.2" y="660.07" width="527.3" height="7.06" fill="url(#gTL67)"/><rect x="352.2" y="666.83" width="527.3" height="7.06" fill="url(#gTL68)"/><rect x="352.2" y="673.60" width="527.3" height="7.06" fill="url(#gTL69)"/><rect x="352.2" y="680.36" width="511.5" height="7.06" fill="url(#gTL70)"/><rect x="352.2" y="687.13" width="511.5" height="7.06" fill="url(#gTL71)"/><rect x="360.1" y="693.89" width="495.8" height="7.06" fill="url(#gTL72)"/><rect x="360.1" y="700.66" width="487.9" height="7.06" fill="url(#gTL73)"/><rect x="360.1" y="707.42" width="480.1" height="7.06" fill="url(#gTL74)"/><rect x="360.1" y="714.19" width="472.2" height="7.06" fill="url(#gTL75)"/><rect x="360.1" y="720.95" width="472.2" height="7.06" fill="url(#gTL76)"/><rect x="360.1" y="727.72" width="472.2" height="7.06" fill="url(#gTL77)"/><rect x="360.1" y="734.48" width="464.3" height="7.06" fill="url(#gTL78)"/><rect x="360.1" y="741.25" width="456.5" height="7.06" fill="url(#gTL79)"/><rect x="360.1" y="748.01" width="448.6" height="7.06" fill="url(#gTL80)"/><rect x="360.1" y="754.78" width="440.7" height="7.06" fill="url(#gTL81)"/><rect x="360.1" y="761.54" width="440.7" height="7.06" fill="url(#gTL82)"/><rect x="360.1" y="768.31" width="425.0" height="7.06" fill="url(#gTL83)"/><rect x="367.9" y="775.07" width="409.2" height="7.06" fill="url(#gTL84)"/><rect x="375.8" y="781.84" width="377.8" height="7.06" fill="url(#gTL85)"/><rect x="383.7" y="788.60" width="346.3" height="7.06" fill="url(#gTL86)"/><rect x="423.0" y="795.37" width="267.6" height="7.06" fill="url(#gTL87)"/><rect x="1810.8" y="183.04" width="39.6" height="7.18" fill="url(#gTR0)"/><rect x="1747.4" y="189.92" width="110.9" height="7.18" fill="url(#gTR1)"/><rect x="1699.9" y="196.80" width="166.3" height="7.18" fill="url(#gTR2)"/><rect x="1660.3" y="203.68" width="213.8" height="7.18" fill="url(#gTR3)"/><rect x="1628.6" y="210.56" width="253.4" height="7.18" fill="url(#gTR4)"/><rect x="1604.9" y="217.44" width="285.1" height="7.18" fill="url(#gTR5)"/><rect x="1573.2" y="224.32" width="324.7" height="7.18" fill="url(#gTR6)"/><rect x="1549.4" y="231.20" width="356.4" height="7.18" fill="url(#gTR7)"/><rect x="1517.8" y="238.08" width="396.0" height="7.18" fill="url(#gTR8)"/><rect x="1494.0" y="244.96" width="427.7" height="7.18" fill="url(#gTR9)"/><rect x="1470.2" y="251.84" width="459.4" height="7.18" fill="url(#gTR10)"/><rect x="1454.4" y="258.72" width="483.1" height="7.18" fill="url(#gTR11)"/><rect x="1438.5" y="265.60" width="499.0" height="7.18" fill="url(#gTR12)"/><rect x="1414.8" y="272.48" width="530.6" height="7.18" fill="url(#gTR13)"/><rect x="1399.0" y="279.36" width="546.5" height="7.18" fill="url(#gTR14)"/><rect x="1391.0" y="286.24" width="562.3" height="7.18" fill="url(#gTR15)"/><rect x="1391.0" y="293.12" width="562.3" height="7.18" fill="url(#gTR16)"/><rect x="1383.1" y="300.00" width="570.2" height="7.18" fill="url(#gTR17)"/><rect x="1383.1" y="306.88" width="578.2" height="7.18" fill="url(#gTR18)"/><rect x="1383.1" y="313.76" width="578.2" height="7.18" fill="url(#gTR19)"/><rect x="1375.2" y="320.64" width="594.0" height="7.18" fill="url(#gTR20)"/><rect x="1375.2" y="327.52" width="594.0" height="7.18" fill="url(#gTR21)"/><rect x="1375.2" y="334.40" width="601.9" height="7.18" fill="url(#gTR22)"/><rect x="1375.2" y="341.28" width="601.9" height="7.18" fill="url(#gTR23)"/><rect x="1375.2" y="348.16" width="601.9" height="7.18" fill="url(#gTR24)"/><rect x="1375.2" y="355.04" width="609.8" height="7.18" fill="url(#gTR25)"/><rect x="1375.2" y="361.92" width="609.8" height="7.18" fill="url(#gTR26)"/><rect x="1375.2" y="368.80" width="617.8" height="7.18" fill="url(#gTR27)"/><rect x="1375.2" y="375.68" width="617.8" height="7.18" fill="url(#gTR28)"/><rect x="1375.2" y="382.56" width="625.7" height="7.18" fill="url(#gTR29)"/><rect x="1375.2" y="389.44" width="625.7" height="7.18" fill="url(#gTR30)"/><rect x="1375.2" y="396.32" width="625.7" height="7.18" fill="url(#gTR31)"/><rect x="1375.2" y="403.20" width="633.6" height="7.18" fill="url(#gTR32)"/><rect x="1375.2" y="410.08" width="633.6" height="7.18" fill="url(#gTR33)"/><rect x="1375.2" y="416.96" width="641.5" height="7.18" fill="url(#gTR34)"/><rect x="1375.2" y="423.84" width="641.5" height="7.18" fill="url(#gTR35)"/><rect x="1375.2" y="430.72" width="641.5" height="7.18" fill="url(#gTR36)"/><rect x="1375.2" y="437.60" width="641.5" height="7.18" fill="url(#gTR37)"/><rect x="1375.2" y="444.48" width="649.4" height="7.18" fill="url(#gTR38)"/><rect x="1375.2" y="451.36" width="649.4" height="7.18" fill="url(#gTR39)"/><rect x="1375.2" y="458.24" width="657.4" height="7.18" fill="url(#gTR40)"/><rect x="1375.2" y="465.12" width="665.3" height="7.18" fill="url(#gTR41)"/><rect x="1375.2" y="472.00" width="673.2" height="7.18" fill="url(#gTR42)"/><rect x="1375.2" y="478.88" width="673.2" height="7.18" fill="url(#gTR43)"/><rect x="1375.2" y="485.76" width="673.2" height="7.18" fill="url(#gTR44)"/><rect x="1375.2" y="492.64" width="673.2" height="7.18" fill="url(#gTR45)"/><rect x="1375.2" y="499.52" width="665.3" height="7.18" fill="url(#gTR46)"/><rect x="1375.2" y="506.40" width="665.3" height="7.18" fill="url(#gTR47)"/><rect x="1375.2" y="513.28" width="657.4" height="7.18" fill="url(#gTR48)"/><rect x="1375.2" y="520.16" width="649.4" height="7.18" fill="url(#gTR49)"/><rect x="1375.2" y="527.04" width="649.4" height="7.18" fill="url(#gTR50)"/><rect x="1375.2" y="533.92" width="633.6" height="7.18" fill="url(#gTR51)"/><rect x="1375.2" y="540.80" width="633.6" height="7.18" fill="url(#gTR52)"/><rect x="1375.2" y="547.68" width="633.6" height="7.18" fill="url(#gTR53)"/><rect x="1375.2" y="554.56" width="617.8" height="7.18" fill="url(#gTR54)"/><rect x="1375.2" y="561.44" width="617.8" height="7.18" fill="url(#gTR55)"/><rect x="1375.2" y="568.32" width="617.8" height="7.18" fill="url(#gTR56)"/><rect x="1375.2" y="575.20" width="601.9" height="7.18" fill="url(#gTR57)"/><rect x="1375.2" y="582.08" width="601.9" height="7.18" fill="url(#gTR58)"/><rect x="1375.2" y="588.96" width="601.9" height="7.18" fill="url(#gTR59)"/><rect x="1375.2" y="595.84" width="594.0" height="7.18" fill="url(#gTR60)"/><rect x="1375.2" y="602.72" width="594.0" height="7.18" fill="url(#gTR61)"/><rect x="1375.2" y="609.60" width="578.2" height="7.18" fill="url(#gTR62)"/><rect x="1375.2" y="616.48" width="578.2" height="7.18" fill="url(#gTR63)"/><rect x="1375.2" y="623.36" width="578.2" height="7.18" fill="url(#gTR64)"/><rect x="1375.2" y="630.24" width="562.3" height="7.18" fill="url(#gTR65)"/><rect x="1375.2" y="637.12" width="562.3" height="7.18" fill="url(#gTR66)"/><rect x="1375.2" y="644.00" width="562.3" height="7.18" fill="url(#gTR67)"/><rect x="1375.2" y="650.88" width="546.5" height="7.18" fill="url(#gTR68)"/><rect x="1375.2" y="657.76" width="546.5" height="7.18" fill="url(#gTR69)"/><rect x="1375.2" y="664.64" width="546.5" height="7.18" fill="url(#gTR70)"/><rect x="1375.2" y="671.52" width="530.6" height="7.18" fill="url(#gTR71)"/><rect x="1375.2" y="678.40" width="522.7" height="7.18" fill="url(#gTR72)"/><rect x="1375.2" y="685.28" width="522.7" height="7.18" fill="url(#gTR73)"/><rect x="1375.2" y="692.16" width="506.9" height="7.18" fill="url(#gTR74)"/><rect x="1375.2" y="699.04" width="483.1" height="7.18" fill="url(#gTR75)"/><rect x="1375.2" y="705.92" width="467.3" height="7.18" fill="url(#gTR76)"/><rect x="1375.2" y="712.80" width="451.4" height="7.18" fill="url(#gTR77)"/><rect x="1383.1" y="719.68" width="427.7" height="7.18" fill="url(#gTR78)"/><rect x="1383.1" y="726.56" width="411.8" height="7.18" fill="url(#gTR79)"/><rect x="1383.1" y="733.44" width="396.0" height="7.18" fill="url(#gTR80)"/><rect x="1391.0" y="740.32" width="372.2" height="7.18" fill="url(#gTR81)"/><rect x="1391.0" y="747.20" width="356.4" height="7.18" fill="url(#gTR82)"/><rect x="1399.0" y="754.08" width="332.6" height="7.18" fill="url(#gTR83)"/><rect x="1414.8" y="760.96" width="269.3" height="7.18" fill="url(#gTR84)"/><rect x="1422.7" y="767.84" width="237.6" height="7.18" fill="url(#gTR85)"/><rect x="1430.6" y="774.72" width="182.2" height="7.18" fill="url(#gTR86)"/><rect x="809.8" y="1210.13" width="31.3" height="7.19" fill="url(#gBL0)"/><rect x="770.7" y="1217.02" width="93.8" height="7.19" fill="url(#gBL1)"/><rect x="723.8" y="1223.91" width="156.3" height="7.19" fill="url(#gBL2)"/><rect x="684.8" y="1230.80" width="218.8" height="7.19" fill="url(#gBL3)"/><rect x="645.7" y="1237.69" width="273.5" height="7.19" fill="url(#gBL4)"/><rect x="622.2" y="1244.58" width="312.6" height="7.19" fill="url(#gBL5)"/><rect x="583.2" y="1251.47" width="375.1" height="7.19" fill="url(#gBL6)"/><rect x="559.7" y="1258.36" width="406.4" height="7.19" fill="url(#gBL7)"/><rect x="528.5" y="1265.25" width="445.5" height="7.19" fill="url(#gBL8)"/><rect x="497.2" y="1272.14" width="476.7" height="7.19" fill="url(#gBL9)"/><rect x="465.9" y="1279.03" width="515.8" height="7.19" fill="url(#gBL10)"/><rect x="434.7" y="1285.92" width="547.0" height="7.19" fill="url(#gBL11)"/><rect x="403.4" y="1292.81" width="586.1" height="7.19" fill="url(#gBL12)"/><rect x="395.6" y="1299.70" width="593.9" height="7.19" fill="url(#gBL13)"/><rect x="387.8" y="1306.59" width="609.6" height="7.19" fill="url(#gBL14)"/><rect x="387.8" y="1313.48" width="609.6" height="7.19" fill="url(#gBL15)"/><rect x="387.8" y="1320.37" width="617.4" height="7.19" fill="url(#gBL16)"/><rect x="387.8" y="1327.26" width="617.4" height="7.19" fill="url(#gBL17)"/><rect x="387.8" y="1334.15" width="617.4" height="7.19" fill="url(#gBL18)"/><rect x="387.8" y="1341.04" width="617.4" height="7.19" fill="url(#gBL19)"/><rect x="387.8" y="1347.93" width="617.4" height="7.19" fill="url(#gBL20)"/><rect x="387.8" y="1354.82" width="617.4" height="7.19" fill="url(#gBL21)"/><rect x="387.8" y="1361.71" width="625.2" height="7.19" fill="url(#gBL22)"/><rect x="380.0" y="1368.60" width="633.0" height="7.19" fill="url(#gBL23)"/><rect x="380.0" y="1375.49" width="633.0" height="7.19" fill="url(#gBL24)"/><rect x="380.0" y="1382.38" width="633.0" height="7.19" fill="url(#gBL25)"/><rect x="380.0" y="1389.27" width="633.0" height="7.19" fill="url(#gBL26)"/><rect x="380.0" y="1396.16" width="633.0" height="7.19" fill="url(#gBL27)"/><rect x="380.0" y="1403.05" width="633.0" height="7.19" fill="url(#gBL28)"/><rect x="380.0" y="1409.94" width="633.0" height="7.19" fill="url(#gBL29)"/><rect x="380.0" y="1416.83" width="633.0" height="7.19" fill="url(#gBL30)"/><rect x="380.0" y="1423.72" width="633.0" height="7.19" fill="url(#gBL31)"/><rect x="372.2" y="1430.61" width="640.8" height="7.19" fill="url(#gBL32)"/><rect x="372.2" y="1437.50" width="640.8" height="7.19" fill="url(#gBL33)"/><rect x="372.2" y="1444.39" width="640.8" height="7.19" fill="url(#gBL34)"/><rect x="372.2" y="1451.28" width="640.8" height="7.19" fill="url(#gBL35)"/><rect x="372.2" y="1458.17" width="648.6" height="7.19" fill="url(#gBL36)"/><rect x="372.2" y="1465.06" width="648.6" height="7.19" fill="url(#gBL37)"/><rect x="372.2" y="1471.95" width="648.6" height="7.19" fill="url(#gBL38)"/><rect x="372.2" y="1478.84" width="648.6" height="7.19" fill="url(#gBL39)"/><rect x="372.2" y="1485.73" width="648.6" height="7.19" fill="url(#gBL40)"/><rect x="372.2" y="1492.62" width="648.6" height="7.19" fill="url(#gBL41)"/><rect x="372.2" y="1499.51" width="640.8" height="7.19" fill="url(#gBL42)"/><rect x="372.2" y="1506.40" width="640.8" height="7.19" fill="url(#gBL43)"/><rect x="364.3" y="1513.29" width="648.6" height="7.19" fill="url(#gBL44)"/><rect x="364.3" y="1520.18" width="648.6" height="7.19" fill="url(#gBL45)"/><rect x="364.3" y="1527.07" width="648.6" height="7.19" fill="url(#gBL46)"/><rect x="364.3" y="1533.96" width="640.8" height="7.19" fill="url(#gBL47)"/><rect x="364.3" y="1540.85" width="640.8" height="7.19" fill="url(#gBL48)"/><rect x="364.3" y="1547.74" width="640.8" height="7.19" fill="url(#gBL49)"/><rect x="364.3" y="1554.63" width="633.0" height="7.19" fill="url(#gBL50)"/><rect x="364.3" y="1561.52" width="633.0" height="7.19" fill="url(#gBL51)"/><rect x="364.3" y="1568.41" width="625.2" height="7.19" fill="url(#gBL52)"/><rect x="364.3" y="1575.30" width="625.2" height="7.19" fill="url(#gBL53)"/><rect x="364.3" y="1582.19" width="617.4" height="7.19" fill="url(#gBL54)"/><rect x="364.3" y="1589.08" width="617.4" height="7.19" fill="url(#gBL55)"/><rect x="364.3" y="1595.97" width="617.4" height="7.19" fill="url(#gBL56)"/><rect x="356.5" y="1602.86" width="617.4" height="7.19" fill="url(#gBL57)"/><rect x="356.5" y="1609.75" width="617.4" height="7.19" fill="url(#gBL58)"/><rect x="356.5" y="1616.64" width="609.6" height="7.19" fill="url(#gBL59)"/><rect x="356.5" y="1623.53" width="609.6" height="7.19" fill="url(#gBL60)"/><rect x="364.3" y="1630.42" width="593.9" height="7.19" fill="url(#gBL61)"/><rect x="364.3" y="1637.31" width="593.9" height="7.19" fill="url(#gBL62)"/><rect x="372.2" y="1644.20" width="586.1" height="7.19" fill="url(#gBL63)"/><rect x="372.2" y="1651.09" width="578.3" height="7.19" fill="url(#gBL64)"/><rect x="372.2" y="1657.98" width="578.3" height="7.19" fill="url(#gBL65)"/><rect x="380.0" y="1664.87" width="562.7" height="7.19" fill="url(#gBL66)"/><rect x="380.0" y="1671.76" width="562.7" height="7.19" fill="url(#gBL67)"/><rect x="387.8" y="1678.65" width="547.0" height="7.19" fill="url(#gBL68)"/><rect x="387.8" y="1685.54" width="539.2" height="7.19" fill="url(#gBL69)"/><rect x="387.8" y="1692.43" width="539.2" height="7.19" fill="url(#gBL70)"/><rect x="395.6" y="1699.32" width="523.6" height="7.19" fill="url(#gBL71)"/><rect x="395.6" y="1706.21" width="523.6" height="7.19" fill="url(#gBL72)"/><rect x="403.4" y="1713.10" width="508.0" height="7.19" fill="url(#gBL73)"/><rect x="403.4" y="1719.99" width="500.2" height="7.19" fill="url(#gBL74)"/><rect x="411.2" y="1726.88" width="492.3" height="7.19" fill="url(#gBL75)"/><rect x="419.0" y="1733.77" width="476.7" height="7.19" fill="url(#gBL76)"/><rect x="426.9" y="1740.66" width="468.9" height="7.19" fill="url(#gBL77)"/><rect x="426.9" y="1747.55" width="461.1" height="7.19" fill="url(#gBL78)"/><rect x="434.7" y="1754.44" width="445.5" height="7.19" fill="url(#gBL79)"/><rect x="442.5" y="1761.33" width="437.6" height="7.19" fill="url(#gBL80)"/><rect x="450.3" y="1768.22" width="414.2" height="7.19" fill="url(#gBL81)"/><rect x="489.4" y="1775.11" width="343.9" height="7.19" fill="url(#gBL82)"/><rect x="661.3" y="1782.00" width="125.0" height="7.19" fill="url(#gBL83)"/><rect x="1887.1" y="1214.33" width="39.4" height="7.19" fill="url(#gBR0)"/><rect x="1824.0" y="1221.22" width="102.6" height="7.19" fill="url(#gBR1)"/><rect x="1768.8" y="1228.11" width="165.7" height="7.19" fill="url(#gBR2)"/><rect x="1713.6" y="1235.00" width="236.7" height="7.19" fill="url(#gBR3)"/><rect x="1666.2" y="1241.89" width="299.8" height="7.19" fill="url(#gBR4)"/><rect x="1611.0" y="1248.78" width="362.9" height="7.19" fill="url(#gBR5)"/><rect x="1571.5" y="1255.67" width="410.3" height="7.19" fill="url(#gBR6)"/><rect x="1532.1" y="1262.56" width="457.6" height="7.19" fill="url(#gBR7)"/><rect x="1508.4" y="1269.45" width="497.1" height="7.19" fill="url(#gBR8)"/><rect x="1484.8" y="1276.34" width="528.6" height="7.19" fill="url(#gBR9)"/><rect x="1461.1" y="1283.23" width="560.2" height="7.19" fill="url(#gBR10)"/><rect x="1437.4" y="1290.12" width="591.8" height="7.19" fill="url(#gBR11)"/><rect x="1413.7" y="1297.01" width="623.3" height="7.19" fill="url(#gBR12)"/><rect x="1405.8" y="1303.90" width="639.1" height="7.19" fill="url(#gBR13)"/><rect x="1398.0" y="1310.79" width="654.9" height="7.19" fill="url(#gBR14)"/><rect x="1398.0" y="1317.68" width="662.8" height="7.19" fill="url(#gBR15)"/><rect x="1398.0" y="1324.57" width="670.6" height="7.19" fill="url(#gBR16)"/><rect x="1390.1" y="1331.46" width="686.4" height="7.19" fill="url(#gBR17)"/><rect x="1390.1" y="1338.35" width="702.2" height="7.19" fill="url(#gBR18)"/><rect x="1390.1" y="1345.24" width="702.2" height="7.19" fill="url(#gBR19)"/><rect x="1382.2" y="1352.13" width="718.0" height="7.19" fill="url(#gBR20)"/><rect x="1382.2" y="1359.02" width="718.0" height="7.19" fill="url(#gBR21)"/><rect x="1382.2" y="1365.91" width="718.0" height="7.19" fill="url(#gBR22)"/><rect x="1382.2" y="1372.80" width="725.9" height="7.19" fill="url(#gBR23)"/><rect x="1382.2" y="1379.69" width="725.9" height="7.19" fill="url(#gBR24)"/><rect x="1382.2" y="1386.58" width="725.9" height="7.19" fill="url(#gBR25)"/><rect x="1382.2" y="1393.47" width="733.8" height="7.19" fill="url(#gBR26)"/><rect x="1382.2" y="1400.36" width="733.8" height="7.19" fill="url(#gBR27)"/><rect x="1382.2" y="1407.25" width="733.8" height="7.19" fill="url(#gBR28)"/><rect x="1382.2" y="1414.14" width="741.7" height="7.19" fill="url(#gBR29)"/><rect x="1382.2" y="1421.03" width="741.7" height="7.19" fill="url(#gBR30)"/><rect x="1382.2" y="1427.92" width="741.7" height="7.19" fill="url(#gBR31)"/><rect x="1382.2" y="1434.81" width="749.5" height="7.19" fill="url(#gBR32)"/><rect x="1382.2" y="1441.70" width="749.5" height="7.19" fill="url(#gBR33)"/><rect x="1382.2" y="1448.59" width="749.5" height="7.19" fill="url(#gBR34)"/><rect x="1382.2" y="1455.48" width="757.4" height="7.19" fill="url(#gBR35)"/><rect x="1382.2" y="1462.37" width="757.4" height="7.19" fill="url(#gBR36)"/><rect x="1382.2" y="1469.26" width="757.4" height="7.19" fill="url(#gBR37)"/><rect x="1382.2" y="1476.15" width="765.3" height="7.19" fill="url(#gBR38)"/><rect x="1382.2" y="1483.04" width="765.3" height="7.19" fill="url(#gBR39)"/><rect x="1382.2" y="1489.93" width="765.3" height="7.19" fill="url(#gBR40)"/><rect x="1382.2" y="1496.82" width="773.2" height="7.19" fill="url(#gBR41)"/><rect x="1382.2" y="1503.71" width="773.2" height="7.19" fill="url(#gBR42)"/><rect x="1382.2" y="1510.60" width="773.2" height="7.19" fill="url(#gBR43)"/><rect x="1382.2" y="1517.49" width="773.2" height="7.19" fill="url(#gBR44)"/><rect x="1382.2" y="1524.38" width="773.2" height="7.19" fill="url(#gBR45)"/><rect x="1382.2" y="1531.27" width="765.3" height="7.19" fill="url(#gBR46)"/><rect x="1382.2" y="1538.16" width="765.3" height="7.19" fill="url(#gBR47)"/><rect x="1382.2" y="1545.05" width="757.4" height="7.19" fill="url(#gBR48)"/><rect x="1382.2" y="1551.94" width="749.5" height="7.19" fill="url(#gBR49)"/><rect x="1382.2" y="1558.83" width="749.5" height="7.19" fill="url(#gBR50)"/><rect x="1382.2" y="1565.72" width="741.7" height="7.19" fill="url(#gBR51)"/><rect x="1382.2" y="1572.61" width="741.7" height="7.19" fill="url(#gBR52)"/><rect x="1382.2" y="1579.50" width="733.8" height="7.19" fill="url(#gBR53)"/><rect x="1382.2" y="1586.39" width="733.8" height="7.19" fill="url(#gBR54)"/><rect x="1382.2" y="1593.28" width="725.9" height="7.19" fill="url(#gBR55)"/><rect x="1382.2" y="1600.17" width="718.0" height="7.19" fill="url(#gBR56)"/><rect x="1382.2" y="1607.06" width="718.0" height="7.19" fill="url(#gBR57)"/><rect x="1382.2" y="1613.95" width="710.1" height="7.19" fill="url(#gBR58)"/><rect x="1382.2" y="1620.84" width="710.1" height="7.19" fill="url(#gBR59)"/><rect x="1382.2" y="1627.73" width="702.2" height="7.19" fill="url(#gBR60)"/><rect x="1382.2" y="1634.62" width="702.2" height="7.19" fill="url(#gBR61)"/><rect x="1382.2" y="1641.51" width="694.3" height="7.19" fill="url(#gBR62)"/><rect x="1382.2" y="1648.40" width="686.4" height="7.19" fill="url(#gBR63)"/><rect x="1382.2" y="1655.29" width="686.4" height="7.19" fill="url(#gBR64)"/><rect x="1382.2" y="1662.18" width="678.5" height="7.19" fill="url(#gBR65)"/><rect x="1382.2" y="1669.07" width="678.5" height="7.19" fill="url(#gBR66)"/><rect x="1382.2" y="1675.96" width="670.6" height="7.19" fill="url(#gBR67)"/><rect x="1382.2" y="1682.85" width="670.6" height="7.19" fill="url(#gBR68)"/><rect x="1382.2" y="1689.74" width="662.8" height="7.19" fill="url(#gBR69)"/><rect x="1390.1" y="1696.63" width="654.9" height="7.19" fill="url(#gBR70)"/><rect x="1398.0" y="1703.52" width="631.2" height="7.19" fill="url(#gBR71)"/><rect x="1413.7" y="1710.41" width="591.8" height="7.19" fill="url(#gBR72)"/><rect x="1421.6" y="1717.30" width="568.1" height="7.19" fill="url(#gBR73)"/><rect x="1437.4" y="1724.19" width="528.6" height="7.19" fill="url(#gBR74)"/><rect x="1453.2" y="1731.08" width="489.2" height="7.19" fill="url(#gBR75)"/><rect x="1469.0" y="1737.97" width="457.6" height="7.19" fill="url(#gBR76)"/><rect x="1484.8" y="1744.86" width="418.2" height="7.19" fill="url(#gBR77)"/><rect x="1500.5" y="1751.75" width="386.6" height="7.19" fill="url(#gBR78)"/><rect x="1516.3" y="1758.64" width="347.2" height="7.19" fill="url(#gBR79)"/><rect x="1540.0" y="1765.53" width="299.8" height="7.19" fill="url(#gBR80)"/><rect x="1555.8" y="1772.42" width="268.3" height="7.19" fill="url(#gBR81)"/><rect x="1579.4" y="1779.31" width="197.2" height="7.19" fill="url(#gBR82)"/><rect x="1626.8" y="1786.20" width="102.6" height="7.19" fill="url(#gBR83)"/></svg></noscript><canvas id="cTL" width="614" height="601" style="position:absolute;left:348px;top:204px"></canvas><canvas id="cTR" width="682" height="611" style="position:absolute;left:1370px;top:179px"></canvas><canvas id="cBL" width="673" height="587" style="position:absolute;left:352px;top:1206px"></canvas><canvas id="cBR" width="785" height="586" style="position:absolute;left:1377px;top:1210px"></canvas>
<svg width="2208" height="1986" viewBox="0 0 2208 1986" xmlns="http://www.w3.org/2000/svg">
<path d="M338.2,807.0V143.0M338.2,807.0H325.2M338.2,641.0H325.2M338.2,475.0H325.2M338.2,309.0H325.2M338.2,143.0H325.2M342.5,827.7H1127.0M342.5,827.7V840.7M473.2,827.7V840.7M604.0,827.7V840.7M734.8,827.7V840.7M865.5,827.7V840.7M996.2,827.7V840.7M1127.0,827.7V840.7" stroke="#999999" stroke-width="3.4" fill="none" stroke-linecap="square"/>
<text x="307.70" y="807.00" font-size="43.00" text-anchor="middle" transform="rotate(-90.00 307.70 807.00)" class="tk">20</text>
<text x="307.70" y="641.00" font-size="43.00" text-anchor="middle" transform="rotate(-90.00 307.70 641.00)" class="tk">40</text>
<text x="307.70" y="475.00" font-size="43.00" text-anchor="middle" transform="rotate(-90.00 307.70 475.00)" class="tk">60</text>
<text x="307.70" y="309.00" font-size="43.00" text-anchor="middle" transform="rotate(-90.00 307.70 309.00)" class="tk">80</text>
<text x="307.70" y="143.00" font-size="43.00" text-anchor="middle" transform="rotate(-90.00 307.70 143.00)" class="tk">100</text>
<text x="342.50" y="873.20" font-size="43.00" text-anchor="middle" class="tk">0</text>
<text x="473.25" y="873.20" font-size="43.00" text-anchor="middle" class="tk">1</text>
<text x="604.00" y="873.20" font-size="43.00" text-anchor="middle" class="tk">2</text>
<text x="734.75" y="873.20" font-size="43.00" text-anchor="middle" class="tk">3</text>
<text x="865.50" y="873.20" font-size="43.00" text-anchor="middle" class="tk">4</text>
<text x="996.25" y="873.20" font-size="43.00" text-anchor="middle" class="tk">5</text>
<text x="1127.00" y="873.20" font-size="43.00" text-anchor="middle" class="tk">6</text>
<text x="726.60" y="88.80" font-size="65.30" text-anchor="middle">Insulin (uU/mL)</text>
<text x="736.00" y="951.70" font-size="65.30" text-anchor="middle">Enterolactone</text>
<text x="230.30" y="483.20" font-size="65.30" text-anchor="middle" transform="rotate(-90.00 230.30 483.20)">HEI</text>
<path d="M700.0,230.9L701.0,231.1" stroke="#000" stroke-width="5.6" fill="none" stroke-linecap="round" stroke-linejoin="round"/>
<path d="M754.1,242.4L759.3,243.7L764.5,245.0L769.7,246.3L774.9,247.6L780.1,248.9L785.3,250.3L790.5,251.6L795.7,253.0L800.9,254.3L806.0,255.7L811.2,257.1L816.4,258.5L821.6,259.8L826.8,261.2L831.9,262.6L837.1,264.0L842.3,265.5L847.5,266.9L852.6,268.3L857.8,269.7" stroke="#000" stroke-width="5.6" fill="none" stroke-linecap="round" stroke-linejoin="round"/>
<path d="M445.5,289.0L464.8,292.5" stroke="#000" stroke-width="5.6" fill="none" stroke-linecap="round" stroke-linejoin="round"/>
<path d="M544.0,310.1L549.0,311.2L554.0,312.4L559.0,313.6L564.0,314.7L568.9,315.9L573.9,317.2L578.9,318.4L583.8,319.7L588.8,320.9L593.7,322.2L598.7,323.5L603.6,324.8L608.6,326.2L613.5,327.6L618.4,328.9L623.3,330.3L628.2,331.7L633.1,333.2L638.0,334.6L642.9,336.1L647.8,337.6L652.7,339.1L657.5,340.6L662.4,342.1L667.3,343.7L672.1,345.3L677.0,346.8L681.8,348.5L686.7,350.1L691.5,351.7L696.3,353.4L701.2,355.0L706.0,356.7L710.8,358.4L715.6,360.2L720.4,361.9L725.2,363.7L730.0,365.4L734.7,367.2L739.5,369.0L744.3,370.8L749.0,372.7L753.8,374.5L758.5,376.4L763.3,378.3L768.0,380.2L772.8,382.1L777.5,384.0L782.2,386.0L786.9,387.9L791.6,389.9L796.3,391.9L801.0,393.9L805.7,395.9L810.4,398.0L815.1,400.0L819.8,402.0L824.5,404.1L829.1,406.2L833.8,408.3L838.5,410.4L843.1,412.5L847.8,414.6L852.4,416.7L857.0,418.9L861.7,421.0L866.3,423.2L871.0,425.4L875.6,427.5L880.2,429.7L884.8,431.9L889.4,434.1L894.0,436.3L898.6,438.6L903.3,440.8L907.9,443.0L912.4,445.3L917.0,447.5L921.6,449.8L926.2,452.0L930.8,454.3" stroke="#000" stroke-width="5.6" fill="none" stroke-linecap="round" stroke-linejoin="round"/>
<path d="M433.2,378.7L438.0,380.4L442.8,382.0L447.6,383.6L452.4,385.2L457.3,386.8L462.1,388.4L466.9,389.9L471.8,391.5L476.6,393.0L481.4,394.6L486.3,396.1L491.1,397.7L496.0,399.2L500.8,400.7L505.7,402.2L510.6,403.8L515.4,405.3L520.3,406.8L525.1,408.3L530.0,409.9L534.8,411.4L539.7,412.9L544.6,414.4L549.4,416.0L554.3,417.5L559.1,419.1L564.0,420.6L568.8,422.2L573.6,423.8L578.5,425.3L583.3,426.9L588.1,428.5L592.9,430.2L597.8,431.8L602.6,433.4L607.4,435.1L612.2,436.7L617.0,438.4L621.7,440.1L626.5,441.9L631.3,443.6L636.0,445.3L640.8,447.1L645.5,448.9L650.3,450.7L655.0,452.6L659.7,454.4L664.4,456.3L669.1,458.2L673.8,460.2L678.4,462.1L683.1,464.1L687.7,466.2L692.4,468.2L697.0,470.3L701.6,472.4L706.2,474.5L710.8,476.7L715.3,478.9L719.9,481.1L724.4,483.4L729.0,485.6L733.5,487.9L738.0,490.2L742.5,492.6L747.0,494.9L751.5,497.3L755.9,499.7L760.4,502.2L764.9,504.6L769.3,507.1L773.7,509.6L778.1,512.1L782.6,514.6L787.0,517.2L791.4,519.7L795.7,522.3L800.1,524.9L804.5,527.5L808.9,530.1L813.2,532.8L817.6,535.4L821.9,538.1L826.3,540.7L830.6,543.4L834.9,546.1L839.2,548.8L843.5,551.5L847.8,554.2L852.2,557.0L856.4,559.7L860.7,562.4L865.0,565.2L869.3,567.9L873.6,570.7L877.9,573.5L882.1,576.2L886.4,579.0L890.7,581.7L894.9,584.5L899.2,587.3L903.5,590.0L907.7,592.8L912.0,595.6L916.2,598.3L920.5,601.1L924.7,603.9L929.0,606.6" stroke="#000" stroke-width="5.6" fill="none" stroke-linecap="round" stroke-linejoin="round"/>
<path d="M370.8,444.8L405.9,456.3" stroke="#000" stroke-width="5.6" fill="none" stroke-linecap="round" stroke-linejoin="round"/>
<path d="M482.4,482.6L487.1,484.5L491.9,486.4L496.6,488.4L501.4,490.3L506.1,492.3L510.8,494.2L515.5,496.2L520.3,498.2L525.0,500.2L529.7,502.3L534.4,504.3L539.1,506.3L543.7,508.4L548.4,510.5L553.1,512.6L557.8,514.7L562.4,516.8L567.1,518.9L571.7,521.1L576.4,523.2L581.0,525.4L585.6,527.6L590.3,529.8L594.9,532.0L599.5,534.2L604.1,536.4L608.7,538.7L613.3,540.9L617.9,543.2L622.4,545.5L627.0,547.8L631.6,550.1L636.1,552.5L640.7,554.8L645.2,557.2L649.7,559.6L654.2,561.9L658.8,564.4L663.3,566.8L667.8,569.2L672.3,571.6L676.7,574.1L681.2,576.6L685.7,579.1L690.1,581.6L694.6,584.1L699.0,586.6L703.5,589.2L707.9,591.7L712.3,594.3L716.7,596.9L721.1,599.5L725.5,602.1L729.9,604.8L734.3,607.4L738.6,610.1L743.0,612.8L747.3,615.5L751.7,618.2L756.0,620.9L760.3,623.7L764.6,626.4L768.9,629.2L773.2,632.0L777.5,634.8L781.8,637.6L786.0,640.4L790.3,643.3L794.5,646.1L798.8,649.0L803.0,651.9L807.2,654.8L811.4,657.8L815.6,660.7L819.8,663.7L823.9,666.6L828.1,669.6L832.2,672.6L836.4,675.7L840.5,678.7L844.6,681.7L848.7,684.8L852.8,687.9L856.9,691.0" stroke="#000" stroke-width="5.6" fill="none" stroke-linecap="round" stroke-linejoin="round"/>
<path d="M362.9,521.3L388.4,531.0" stroke="#000" stroke-width="5.6" fill="none" stroke-linecap="round" stroke-linejoin="round"/>
<path d="M438.5,551.2L443.1,553.4L447.6,555.6L452.2,557.8L456.8,560.0L461.3,562.1L465.9,564.3L470.5,566.5L475.1,568.7L479.6,570.9L484.2,573.1L488.8,575.3L493.3,577.5L497.9,579.7L502.5,581.9L507.1,584.2L511.6,586.4L516.2,588.6L520.8,590.9L525.3,593.1L529.9,595.3L534.4,597.6L539.0,599.9L543.5,602.1L548.1,604.4L552.6,606.7L557.1,609.0L561.7,611.3L566.2,613.6L570.7,616.0L575.2,618.3L579.7,620.6L584.2,623.0L588.7,625.4L593.2,627.8L597.6,630.2L602.1,632.6L606.6,635.0L611.0,637.4L615.5,639.9L619.9,642.4L624.3,644.8L628.7,647.3L633.1,649.9L637.5,652.4L641.9,654.9L646.3,657.5L650.6,660.1L655.0,662.7L659.3,665.3L663.6,668.0L667.9,670.6L672.2,673.3L676.5,676.0L680.8,678.7L685.0,681.5L689.3,684.2L693.5,687.0L697.7,689.8L701.9,692.6L706.1,695.5L710.3,698.4L714.4,701.3L718.5,704.2L722.7,707.1L726.8,710.1L730.8,713.1L734.9,716.1L739.0,719.2L743.0,722.2L747.0,725.3L751.0,728.5L755.0,731.6L758.9,734.8L762.9,738.0L766.8,741.3L770.7,744.5L774.5,747.8L778.4,751.2L782.2,754.5L786.0,757.9L789.8,761.4L793.6,764.8" stroke="#000" stroke-width="5.6" fill="none" stroke-linecap="round" stroke-linejoin="round"/>
<path d="M355.0,595.2L366.4,599.6" stroke="#000" stroke-width="5.6" fill="none" stroke-linecap="round" stroke-linejoin="round"/>
<path d="M439.3,632.1L444.0,634.1L448.7,636.2L453.3,638.3L458.0,640.5L462.6,642.7L467.2,644.9L471.8,647.2L476.3,649.5L480.9,651.8L485.4,654.2L489.9,656.6L494.4,659.0L498.8,661.4L503.3,663.9L507.7,666.4L512.1,669.0L516.5,671.6L520.9,674.2L525.3,676.8L529.6,679.4L534.0,682.1L538.3,684.8L542.6,687.5L547.0,690.2L551.3,692.9L555.6,695.7L559.8,698.5L564.1,701.3L568.4,704.1L572.6,706.9L576.9,709.7L581.1,712.6L585.4,715.4L589.6,718.3L593.8,721.1L598.0,724.0L602.3,726.9L606.5,729.8L610.7,732.7L614.9,735.6L619.1,738.5L623.3,741.4L627.5,744.3L631.7,747.2L635.9,750.1L640.1,753.0L644.4,755.9L648.6,758.8L652.8,761.6L657.0,764.5L661.2,767.4L665.4,770.3L669.7,773.1L673.9,776.0L678.2,778.8L682.4,781.6L686.7,784.4L690.9,787.2L695.2,790.0" stroke="#000" stroke-width="5.6" fill="none" stroke-linecap="round" stroke-linejoin="round"/>
<path d="M404.0,691.2L408.8,693.3L413.7,695.4L418.5,697.5L423.2,699.8L428.0,702.0L432.7,704.3L437.4,706.7L442.0,709.1L446.7,711.5L451.3,714.0L455.9,716.5L460.5,719.1L465.0,721.7L469.6,724.3L474.1,727.0L478.6,729.7L483.1,732.4L487.5,735.2L492.0,737.9L496.4,740.8L500.8,743.6L505.2,746.4L509.6,749.3L514.0,752.2L518.4,755.1L522.8,758.1L527.1,761.0L531.4,764.0L535.8,767.0L540.1,770.0L544.4,772.9L548.7,776.0L553.0,779.0L557.3,782.0L561.6,785.0L565.9,788.0L570.2,791.1L574.5,794.1L578.8,797.1" stroke="#000" stroke-width="5.6" fill="none" stroke-linecap="round" stroke-linejoin="round"/>
<path d="M364.2,742.8L365.2,743.3" stroke="#000" stroke-width="5.6" fill="none" stroke-linecap="round" stroke-linejoin="round"/>
<path d="M435.0,783.8L459.5,797.1" stroke="#000" stroke-width="5.6" fill="none" stroke-linecap="round" stroke-linejoin="round"/>
<text x="732.10" y="238.90" font-size="31.00" text-anchor="middle" transform="rotate(12.00 732.10 238.90)" dominant-baseline="central" class="cl">10</text>
<text x="505.30" y="301.30" font-size="31.00" text-anchor="middle" transform="rotate(12.50 505.30 301.30)" dominant-baseline="central" class="cl">10.5</text>
<text x="406.30" y="372.00" font-size="31.00" text-anchor="middle" transform="rotate(17.70 406.30 372.00)" dominant-baseline="central" class="cl">11</text>
<text x="445.50" y="470.30" font-size="31.00" text-anchor="middle" transform="rotate(19.00 445.50 470.30)" dominant-baseline="central" class="cl">11.5</text>
<text x="413.80" y="543.30" font-size="31.00" text-anchor="middle" transform="rotate(22.00 413.80 543.30)" dominant-baseline="central" class="cl">12</text>
<text x="404.70" y="617.10" font-size="31.00" text-anchor="middle" transform="rotate(24.00 404.70 617.10)" dominant-baseline="central" class="cl">12.5</text>
<text x="382.20" y="683.10" font-size="31.00" text-anchor="middle" transform="rotate(25.00 382.20 683.10)" dominant-baseline="central" class="cl">13</text>
<text x="402.40" y="767.50" font-size="31.00" text-anchor="middle" transform="rotate(30.00 402.40 767.50)" dominant-baseline="central" class="cl">13.5</text>
<path d="M1367.2,788.4V118.9M1367.2,788.4H1354.2M1367.2,621.0H1354.2M1367.2,453.6H1354.2M1367.2,286.3H1354.2M1367.2,118.9H1354.2M1372.3,807.7H2161.7M1372.3,807.7V820.7M1530.2,807.7V820.7M1688.1,807.7V820.7M1845.9,807.7V820.7M2003.8,807.7V820.7M2161.7,807.7V820.7" stroke="#999999" stroke-width="3.4" fill="none" stroke-linecap="square"/>
<text x="1336.70" y="788.40" font-size="43.00" text-anchor="middle" transform="rotate(-90.00 1336.70 788.40)" class="tk">20</text>
<text x="1336.70" y="621.02" font-size="43.00" text-anchor="middle" transform="rotate(-90.00 1336.70 621.02)" class="tk">40</text>
<text x="1336.70" y="453.65" font-size="43.00" text-anchor="middle" transform="rotate(-90.00 1336.70 453.65)" class="tk">60</text>
<text x="1336.70" y="286.27" font-size="43.00" text-anchor="middle" transform="rotate(-90.00 1336.70 286.27)" class="tk">80</text>
<text x="1336.70" y="118.90" font-size="43.00" text-anchor="middle" transform="rotate(-90.00 1336.70 118.90)" class="tk">100</text>
<text x="1372.30" y="853.20" font-size="43.00" text-anchor="middle" class="tk">0</text>
<text x="1530.18" y="853.20" font-size="43.00" text-anchor="middle" class="tk">1</text>
<text x="1688.06" y="853.20" font-size="43.00" text-anchor="middle" class="tk">2</text>
<text x="1845.94" y="853.20" font-size="43.00" text-anchor="middle" class="tk">3</text>
<text x="2003.82" y="853.20" font-size="43.00" text-anchor="middle" class="tk">4</text>
<text x="2161.70" y="853.20" font-size="43.00" text-anchor="middle" class="tk">5</text>
<text x="1759.20" y="67.90" font-size="65.30" text-anchor="middle">Insulin (uU/mL)</text>
<text x="1767.20" y="932.20" font-size="65.30" text-anchor="middle">Enterodiol</text>
<text x="1260.30" y="462.00" font-size="65.30" text-anchor="middle" transform="rotate(-90.00 1260.30 462.00)">HEI</text>
<path d="M1432.3,338.1L1437.2,336.5L1442.2,334.8L1447.0,333.0L1451.9,331.2L1456.8,329.4L1461.6,327.5L1466.4,325.5L1471.1,323.5L1475.9,321.5L1480.6,319.3L1485.3,317.2L1489.9,315.0L1494.6,312.7L1499.2,310.4L1503.8,308.1L1508.4,305.7L1512.9,303.2L1517.4,300.8L1521.9,298.2L1526.4,295.7L1530.9,293.1L1535.3,290.4L1539.7,287.7L1544.1,285.0L1548.4,282.2L1552.8,279.4L1557.1,276.6L1561.4,273.7L1565.7,270.8L1569.9,267.9L1574.1,264.9L1578.4,261.9L1582.5,258.8L1586.7,255.8L1590.9,252.7L1595.0,249.6L1599.1,246.4L1603.2,243.2L1607.2,240.0L1611.3,236.8L1615.3,233.5L1619.3,230.2L1623.3,226.9L1627.2,223.6L1631.2,220.3L1635.1,216.9L1639.0,213.5" stroke="#000" stroke-width="5.7" fill="none" stroke-linecap="round" stroke-linejoin="round"/>
<path d="M1432.3,445.9L1437.4,445.8L1442.6,445.8L1447.7,445.7L1452.8,445.7L1458.0,445.6L1463.1,445.6L1468.2,445.5L1473.3,445.5L1478.4,445.5L1483.4,445.4L1488.5,445.4L1493.6,445.4L1498.6,445.4L1503.7,445.3L1508.8,445.3L1513.8,445.3L1518.9,445.3L1523.9,445.3L1528.9,445.2L1534.0,445.2L1539.0,445.2L1544.1,445.2L1549.1,445.2L1554.1,445.2L1559.2,445.2L1564.2,445.1L1569.2,445.1L1574.3,445.1L1579.3,445.1L1584.3,445.1L1589.4,445.1L1594.4,445.0L1599.5,445.0L1604.5,445.0L1609.6,444.9L1614.6,444.9L1619.7,444.9L1624.7,444.8L1629.8,444.8L1634.9,444.7L1639.9,444.7L1645.0,444.6L1650.1,444.6L1655.2,444.5L1660.3,444.4L1665.4,444.3L1670.5,444.3L1675.7,444.2L1680.8,444.1L1685.9,444.0L1691.1,443.9L1696.2,443.8L1701.4,443.6L1706.6,443.5L1711.8,443.4L1717.0,443.2L1722.2,443.1L1727.4,442.9L1732.7,442.8L1737.9,442.5L1743.1,442.3L1748.2,441.9L1753.3,441.5L1758.3,440.9L1763.2,440.1L1768.0,439.1L1772.6,438.0L1777.1,436.6L1781.4,434.9L1785.4,432.9L1789.3,430.7L1792.9,428.0L1796.3,425.1L1799.4,421.7L1802.1,417.9L1804.6,413.7L1806.8,409.2L1808.7,404.3L1810.4,399.2L1811.8,394.0L1813.0,388.6L1813.9,383.2L1814.7,377.8L1815.3,372.5L1815.8,367.3L1816.1,362.1L1816.3,356.9L1816.5,351.9L1816.6,346.8L1816.6,341.7L1816.6,336.7L1816.6,331.7L1816.7,326.6L1816.7,321.6L1816.7,316.6L1816.7,311.5L1816.8,306.5L1816.8,301.4L1816.8,296.4L1816.8,291.3L1816.9,286.3L1816.9,281.2L1816.9,276.2L1816.9,271.1L1817.0,266.1L1817.0,261.0L1817.0,255.9L1817.0,250.9L1817.0,245.8L1817.0,240.7L1817.1,235.7L1817.1,230.6L1817.1,225.5L1817.1,220.4L1817.1,215.3L1817.1,210.3L1817.1,205.2L1817.1,200.1L1817.0,195.0L1817.0,189.9L1817.0,184.8" stroke="#000" stroke-width="5.7" fill="none" stroke-linecap="round" stroke-linejoin="round"/>
<path d="M1820.0,718.3L1820.0,713.1L1820.0,707.9L1820.0,702.8L1820.0,697.6L1820.0,692.5L1820.0,687.3L1820.1,682.2L1820.1,677.1L1820.2,672.0L1820.2,666.9L1820.3,661.8L1820.4,656.8L1820.4,651.7L1820.5,646.6L1820.6,641.5L1820.7,636.5L1820.8,631.4L1820.9,626.3L1821.0,621.3L1821.1,616.2L1821.2,611.1L1821.3,606.0L1821.4,600.9L1821.5,595.8L1821.6,590.7L1821.7,585.6L1821.8,580.5L1821.9,575.4L1822.0,570.3L1822.1,565.1L1822.2,559.9L1822.3,554.8L1822.4,549.6L1822.4,544.4L1822.5,539.1L1822.6,533.9L1822.6,528.6L1822.7,523.4L1822.9,518.1L1823.1,512.9L1823.6,507.8L1824.2,502.7L1825.0,497.7L1826.1,492.8L1827.5,488.0L1829.2,483.4L1831.3,478.9L1833.7,474.7L1836.5,470.8L1839.6,467.1L1843.1,463.9L1846.9,461.0L1851.0,458.5L1855.4,456.3L1860.1,454.5L1864.9,453.1L1869.8,451.9L1874.8,451.0L1879.9,450.3L1885.0,449.8L1890.3,449.5L1895.5,449.4L1900.8,449.3L1906.1,449.4L1911.4,449.5L1916.8,449.7L1922.0,449.9L1927.3,450.0L1932.5,450.1L1937.7,450.2L1942.7,450.1L1947.7,449.9L1952.6,449.5L1957.4,448.9" stroke="#000" stroke-width="5.7" fill="none" stroke-linecap="round" stroke-linejoin="round"/>
<path d="M2010.8,447.9L2021.7,447.9" stroke="#000" stroke-width="5.7" fill="none" stroke-linecap="round" stroke-linejoin="round"/>
<path d="M1432.6,544.0L1437.4,545.4L1442.1,546.9L1446.9,548.4L1451.7,549.9L1456.5,551.5L1461.3,553.1L1466.1,554.7L1470.9,556.4L1475.6,558.1L1480.4,559.9L1485.2,561.7L1490.0,563.5L1494.7,565.4L1499.5,567.4L1504.2,569.3L1508.9,571.4L1513.6,573.4L1518.3,575.5L1523.0,577.7L1527.7,579.9L1532.3,582.1L1536.9,584.4L1541.5,586.8L1546.0,589.2L1550.6,591.6L1555.1,594.1L1559.5,596.6L1563.9,599.2L1568.3,601.8L1572.7,604.5L1577.0,607.2L1581.3,610.0L1585.5,612.8L1589.7,615.7L1593.9,618.6L1598.0,621.6L1602.0,624.7L1606.0,627.8L1610.0,630.9L1613.9,634.1L1617.7,637.4L1621.5,640.7L1625.2,644.1L1628.9,647.5L1632.5,651.0L1636.1,654.5L1639.5,658.1L1643.0,661.8L1646.3,665.5L1649.6,669.3L1652.8,673.1L1655.9,677.0L1659.0,680.9L1662.0,685.0L1664.9,689.0L1667.7,693.2L1670.4,697.4L1673.1,701.6L1675.7,705.9L1678.2,710.3L1680.6,714.8L1682.9,719.3L1685.1,723.9L1687.2,728.5L1689.3,733.2L1691.2,738.0L1693.0,742.8L1694.8,747.7L1696.4,752.7L1698.0,757.7L1699.4,762.8" stroke="#000" stroke-width="5.7" fill="none" stroke-linecap="round" stroke-linejoin="round"/>
<path d="M1381.4,612.2L1382.4,612.8" stroke="#000" stroke-width="5.7" fill="none" stroke-linecap="round" stroke-linejoin="round"/>
<path d="M1432.6,634.7L1437.4,636.9L1442.1,639.1L1446.8,641.4L1451.5,643.7L1456.2,646.1L1460.8,648.5L1465.4,651.0L1470.0,653.6L1474.5,656.2L1479.0,658.8L1483.4,661.6L1487.9,664.4L1492.2,667.2L1496.6,670.1L1500.9,673.0L1505.1,676.1L1509.3,679.1L1513.5,682.2L1517.6,685.4L1521.7,688.7L1525.7,692.0L1529.7,695.3L1533.6,698.7L1537.5,702.2L1541.3,705.7L1545.1,709.3L1548.8,712.9L1552.4,716.6L1556.0,720.4L1559.6,724.2L1563.1,728.0L1566.5,731.9L1569.8,735.9L1573.1,740.0L1576.4,744.0L1579.5,748.2L1582.6,752.4L1585.7,756.7L1588.6,761.0L1591.5,765.3L1594.4,769.8L1597.1,774.3L1599.8,778.8" stroke="#000" stroke-width="5.7" fill="none" stroke-linecap="round" stroke-linejoin="round"/>
<path d="M1379.2,684.6L1387.2,689.9" stroke="#000" stroke-width="5.7" fill="none" stroke-linecap="round" stroke-linejoin="round"/>
<path d="M1433.5,718.3L1438.0,721.3L1442.5,724.3L1446.8,727.5L1451.1,730.8L1455.3,734.2L1459.4,737.6L1463.5,741.2L1467.5,744.7L1471.4,748.4L1475.3,752.1L1479.2,755.9L1483.0,759.6L1486.8,763.4L1490.6,767.3L1494.4,771.1L1498.2,775.0L1502.0,778.8" stroke="#000" stroke-width="5.7" fill="none" stroke-linecap="round" stroke-linejoin="round"/>
<text x="1406.50" y="344.00" font-size="31.00" text-anchor="middle" transform="rotate(-20.50 1406.50 344.00)" dominant-baseline="central" class="cl">10</text>
<text x="1405.50" y="446.90" font-size="31.00" text-anchor="middle" transform="rotate(0.00 1405.50 446.90)" dominant-baseline="central" class="cl">11</text>
<text x="1983.10" y="448.90" font-size="31.00" text-anchor="middle" transform="rotate(0.00 1983.10 448.90)" dominant-baseline="central" class="cl">11</text>
<text x="1406.80" y="540.50" font-size="31.00" text-anchor="middle" transform="rotate(17.00 1406.80 540.50)" dominant-baseline="central" class="cl">12</text>
<text x="1409.50" y="625.90" font-size="31.00" text-anchor="middle" transform="rotate(23.60 1409.50 625.90)" dominant-baseline="central" class="cl">13</text>
<text x="1410.40" y="705.90" font-size="31.00" text-anchor="middle" transform="rotate(31.50 1410.40 705.90)" dominant-baseline="central" class="cl">14</text>
<path d="M340.8,1802.6V1131.9M340.8,1802.6H327.8M340.8,1634.9H327.8M340.8,1467.2H327.8M340.8,1299.6H327.8M340.8,1131.9H327.8M345.4,1822.5H1135.0M345.4,1822.5V1835.5M503.3,1822.5V1835.5M661.2,1822.5V1835.5M819.2,1822.5V1835.5M977.1,1822.5V1835.5M1135.0,1822.5V1835.5" stroke="#999999" stroke-width="3.4" fill="none" stroke-linecap="square"/>
<text x="310.30" y="1802.60" font-size="43.00" text-anchor="middle" transform="rotate(-90.00 310.30 1802.60)" class="tk">20</text>
<text x="310.30" y="1634.92" font-size="43.00" text-anchor="middle" transform="rotate(-90.00 310.30 1634.92)" class="tk">40</text>
<text x="310.30" y="1467.25" font-size="43.00" text-anchor="middle" transform="rotate(-90.00 310.30 1467.25)" class="tk">60</text>
<text x="310.30" y="1299.58" font-size="43.00" text-anchor="middle" transform="rotate(-90.00 310.30 1299.58)" class="tk">80</text>
<text x="310.30" y="1131.90" font-size="43.00" text-anchor="middle" transform="rotate(-90.00 310.30 1131.90)" class="tk">100</text>
<text x="345.40" y="1868.00" font-size="43.00" text-anchor="middle" class="tk">0</text>
<text x="503.32" y="1868.00" font-size="43.00" text-anchor="middle" class="tk">1</text>
<text x="661.24" y="1868.00" font-size="43.00" text-anchor="middle" class="tk">2</text>
<text x="819.16" y="1868.00" font-size="43.00" text-anchor="middle" class="tk">3</text>
<text x="977.08" y="1868.00" font-size="43.00" text-anchor="middle" class="tk">4</text>
<text x="1135.00" y="1868.00" font-size="43.00" text-anchor="middle" class="tk">5</text>
<text x="757.80" y="1090.50" font-size="65.30" text-anchor="middle">OGTT (mg/dL)</text>
<text x="741.60" y="1947.40" font-size="65.30" text-anchor="middle">Enterolactone</text>
<text x="231.60" y="1475.50" font-size="65.30" text-anchor="middle" transform="rotate(-90.00 231.60 1475.50)">HEI</text>
<path d="M417.7,1295.4L424.2,1326.2" stroke="#000" stroke-width="4.3" fill="none" stroke-linecap="round" stroke-linejoin="round"/>
<path d="M435.8,1397.3L436.9,1402.3L437.9,1407.3L439.0,1412.3L440.1,1417.3L441.1,1422.3L442.1,1427.3L443.2,1432.3L444.2,1437.3L445.2,1442.4L446.2,1447.4L447.2,1452.4L448.2,1457.4L449.2,1462.4L450.1,1467.4L451.1,1472.5L452.0,1477.5L453.0,1482.5L453.9,1487.5L454.8,1492.6L455.8,1497.6L456.7,1502.6L457.6,1507.7L458.5,1512.7L459.3,1517.7L460.2,1522.8L461.1,1527.8L461.9,1532.8L462.8,1537.9L463.6,1542.9L464.5,1548.0L465.3,1553.0L466.1,1558.0L467.0,1563.1L467.8,1568.1L468.6,1573.2L469.4,1578.2L470.1,1583.3L470.9,1588.3L471.7,1593.4L472.5,1598.4L473.2,1603.5L474.0,1608.6L474.7,1613.6L475.5,1618.7L476.2,1623.7L476.9,1628.8L477.6,1633.8L478.3,1638.9L479.0,1644.0L479.7,1649.0L480.4,1654.1L481.1,1659.2L481.8,1664.2L482.4,1669.3L483.1,1674.4L483.8,1679.4L484.4,1684.5L485.1,1689.6L485.7,1694.7L486.3,1699.7L487.0,1704.8L487.6,1709.9L488.2,1715.0L488.8,1720.0L489.4,1725.1L490.0,1730.2L490.6,1735.3L491.2,1740.3L491.8,1745.4L492.4,1750.5L492.9,1755.6L493.5,1760.7L494.0,1765.7L494.6,1770.8L495.2,1775.9L495.7,1781.0" stroke="#000" stroke-width="4.3" fill="none" stroke-linecap="round" stroke-linejoin="round"/>
<path d="M641.5,1246.2L643.5,1257.7" stroke="#000" stroke-width="4.3" fill="none" stroke-linecap="round" stroke-linejoin="round"/>
<path d="M653.0,1326.2L653.5,1331.3L654.1,1336.3L654.6,1341.4L655.2,1346.5L655.7,1351.5L656.3,1356.6L656.9,1361.6L657.4,1366.7L658.0,1371.8L658.6,1376.8L659.1,1381.9L659.7,1387.0L660.3,1392.0L660.9,1397.1L661.5,1402.1L662.1,1407.2L662.7,1412.2L663.2,1417.3L663.8,1422.4L664.4,1427.4L665.0,1432.5L665.6,1437.5L666.2,1442.6L666.8,1447.7L667.4,1452.7L668.1,1457.8L668.7,1462.8L669.3,1467.9L669.9,1472.9L670.5,1478.0L671.1,1483.1L671.7,1488.1L672.3,1493.2L672.9,1498.2L673.5,1503.3L674.1,1508.3L674.7,1513.4L675.3,1518.5L675.9,1523.5L676.5,1528.6L677.1,1533.6L677.7,1538.7L678.3,1543.7L678.9,1548.8L679.5,1553.9L680.1,1558.9L680.7,1564.0L681.3,1569.0L681.9,1574.1L682.5,1579.2L683.1,1584.2L683.6,1589.3L684.2,1594.3L684.8,1599.4L685.3,1604.5L685.9,1609.5L686.5,1614.6L687.0,1619.6L687.6,1624.7L688.1,1629.8L688.7,1634.8L689.2,1639.9L689.8,1645.0L690.3,1650.0L690.8,1655.1L691.3,1660.1L691.9,1665.2L692.4,1670.3L692.9,1675.3L693.4,1680.4L693.9,1685.5L694.4,1690.6L694.9,1695.6L695.3,1700.7L695.8,1705.8L696.3,1710.8L696.7,1715.9L697.2,1721.0L697.6,1726.1L698.1,1731.1L698.5,1736.2L698.9,1741.3L699.3,1746.4L699.7,1751.4L700.1,1756.5L700.5,1761.6L700.9,1766.7L701.3,1771.8L701.7,1776.8L702.0,1781.9L702.4,1787.0" stroke="#000" stroke-width="4.3" fill="none" stroke-linecap="round" stroke-linejoin="round"/>
<path d="M883.8,1233.0L885.0,1245.4" stroke="#000" stroke-width="4.3" fill="none" stroke-linecap="round" stroke-linejoin="round"/>
<path d="M889.6,1316.5L890.0,1321.6L890.3,1326.6L890.7,1331.7L891.1,1336.7L891.4,1341.8L891.8,1346.8L892.1,1351.9L892.5,1357.0L892.8,1362.0L893.2,1367.1L893.5,1372.1L893.8,1377.2L894.1,1382.3L894.4,1387.3L894.8,1392.4L895.1,1397.4L895.4,1402.5L895.7,1407.6L896.0,1412.6L896.3,1417.7L896.6,1422.7L896.9,1427.8L897.1,1432.9L897.4,1437.9L897.7,1443.0L898.0,1448.0L898.3,1453.1L898.6,1458.2L898.8,1463.2L899.1,1468.3L899.4,1473.4L899.7,1478.4L899.9,1483.5L900.2,1488.5L900.5,1493.6L900.7,1498.7L901.0,1503.7L901.3,1508.8L901.5,1513.9L901.8,1518.9L902.1,1524.0L902.3,1529.0L902.6,1534.1L902.9,1539.2L903.2,1544.2L903.4,1549.3L903.7,1554.4L904.0,1559.4L904.3,1564.5L904.5,1569.5L904.8,1574.6L905.1,1579.7L905.4,1584.7L905.7,1589.8L906.0,1594.9L906.2,1599.9L906.5,1605.0L906.8,1610.0L907.1,1615.1L907.4,1620.2L907.7,1625.2L908.1,1630.3L908.4,1635.3L908.7,1640.4L909.0,1645.5L909.3,1650.5L909.7,1655.6L910.0,1660.6L910.3,1665.7L910.7,1670.7L911.0,1675.8L911.4,1680.9L911.7,1685.9L912.1,1691.0L912.5,1696.0L912.8,1701.1L913.2,1706.1L913.6,1711.2" stroke="#000" stroke-width="4.3" fill="none" stroke-linecap="round" stroke-linejoin="round"/>
<text x="428.00" y="1362.70" font-size="31.00" text-anchor="middle" transform="rotate(80.70 428.00 1362.70)" dominant-baseline="central" class="cl">120</text>
<text x="647.30" y="1289.60" font-size="31.00" text-anchor="middle" transform="rotate(82.10 647.30 1289.60)" dominant-baseline="central" class="cl">115</text>
<text x="885.80" y="1281.90" font-size="31.00" text-anchor="middle" transform="rotate(86.30 885.80 1281.90)" dominant-baseline="central" class="cl">110</text>
<path d="M1374.5,1805.5V1135.8M1374.5,1805.5H1361.5M1374.5,1638.1H1361.5M1374.5,1470.7H1361.5M1374.5,1303.2H1361.5M1374.5,1135.8H1361.5M1379.1,1825.0H2168.6M1379.1,1825.0V1838.0M1576.5,1825.0V1838.0M1773.8,1825.0V1838.0M1971.2,1825.0V1838.0M2168.6,1825.0V1838.0" stroke="#999999" stroke-width="3.4" fill="none" stroke-linecap="square"/>
<text x="1344.00" y="1805.50" font-size="43.00" text-anchor="middle" transform="rotate(-90.00 1344.00 1805.50)" class="tk">20</text>
<text x="1344.00" y="1638.08" font-size="43.00" text-anchor="middle" transform="rotate(-90.00 1344.00 1638.08)" class="tk">40</text>
<text x="1344.00" y="1470.65" font-size="43.00" text-anchor="middle" transform="rotate(-90.00 1344.00 1470.65)" class="tk">60</text>
<text x="1344.00" y="1303.22" font-size="43.00" text-anchor="middle" transform="rotate(-90.00 1344.00 1303.22)" class="tk">80</text>
<text x="1344.00" y="1135.80" font-size="43.00" text-anchor="middle" transform="rotate(-90.00 1344.00 1135.80)" class="tk">100</text>
<text x="1379.10" y="1870.50" font-size="43.00" text-anchor="middle" class="tk">0</text>
<text x="1576.47" y="1870.50" font-size="43.00" text-anchor="middle" class="tk">1</text>
<text x="1773.85" y="1870.50" font-size="43.00" text-anchor="middle" class="tk">2</text>
<text x="1971.22" y="1870.50" font-size="43.00" text-anchor="middle" class="tk">3</text>
<text x="2168.60" y="1870.50" font-size="43.00" text-anchor="middle" class="tk">4</text>
<text x="1791.80" y="1092.10" font-size="65.30" text-anchor="middle">OGTT (mg/dL)</text>
<text x="1774.50" y="1949.70" font-size="65.30" text-anchor="middle">Enterodiol</text>
<text x="1266.90" y="1480.20" font-size="65.30" text-anchor="middle" transform="rotate(-90.00 1266.90 1480.20)">HEI</text>
<path d="M1386.3,1581.7L1387.3,1582.7" stroke="#000" stroke-width="5.6" fill="none" stroke-linecap="round" stroke-linejoin="round"/>
<path d="M1427.5,1643.7L1430.4,1648.4L1433.2,1653.1L1435.9,1657.9L1438.6,1662.7L1441.3,1667.5L1443.8,1672.4L1446.3,1677.2L1448.8,1682.1L1451.2,1687.1L1453.6,1692.0L1455.9,1697.0L1458.2,1702.0L1460.4,1707.0L1462.6,1712.0L1464.7,1717.1L1466.9,1722.2L1468.9,1727.3L1471.0,1732.4L1473.0,1737.5L1475.0,1742.6" stroke="#000" stroke-width="5.6" fill="none" stroke-linecap="round" stroke-linejoin="round"/>
<path d="M1387.1,1396.3L1388.1,1397.3" stroke="#000" stroke-width="5.6" fill="none" stroke-linecap="round" stroke-linejoin="round"/>
<path d="M1440.6,1448.1L1444.0,1452.0L1447.3,1456.0L1450.6,1460.0L1453.8,1464.0L1457.0,1468.0L1460.1,1472.1L1463.2,1476.2L1466.3,1480.4L1469.2,1484.5L1472.2,1488.7L1475.1,1493.0L1477.9,1497.2L1480.7,1501.5L1483.5,1505.8L1486.2,1510.1L1488.8,1514.5L1491.5,1518.9L1494.0,1523.3L1496.6,1527.7L1499.1,1532.2L1501.5,1536.6L1504.0,1541.1L1506.4,1545.7L1508.7,1550.2L1511.0,1554.7L1513.3,1559.3L1515.5,1563.9L1517.7,1568.5L1519.9,1573.2L1522.0,1577.8L1524.1,1582.5L1526.2,1587.2L1528.2,1591.9L1530.2,1596.6L1532.2,1601.3L1534.1,1606.1L1536.0,1610.9L1537.9,1615.6L1539.8,1620.4L1541.6,1625.2L1543.4,1630.0L1545.2,1634.9L1547.0,1639.7L1548.7,1644.5L1550.4,1649.4L1552.1,1654.3L1553.7,1659.1L1555.4,1664.0L1557.0,1668.9L1558.6,1673.8L1560.2,1678.7L1561.7,1683.6L1563.3,1688.5L1564.8,1693.4L1566.3,1698.4L1567.8,1703.3L1569.2,1708.2L1570.7,1713.1L1572.1,1718.1L1573.6,1723.0L1575.0,1728.0L1576.4,1732.9L1577.8,1737.8L1579.2,1742.8L1580.5,1747.7L1581.9,1752.6L1583.2,1757.6L1584.6,1762.5L1585.9,1767.4L1587.3,1772.4L1588.6,1777.3L1589.9,1782.2" stroke="#000" stroke-width="5.6" fill="none" stroke-linecap="round" stroke-linejoin="round"/>
<path d="M1532.6,1271.4L1533.6,1272.4" stroke="#000" stroke-width="5.6" fill="none" stroke-linecap="round" stroke-linejoin="round"/>
<path d="M1583.7,1326.5L1586.3,1330.9L1588.8,1335.3L1591.2,1339.7L1593.7,1344.2L1596.1,1348.7L1598.4,1353.1L1600.7,1357.6L1603.0,1362.2L1605.3,1366.7L1607.5,1371.2L1609.7,1375.8L1611.8,1380.4L1613.9,1385.0L1616.0,1389.6L1618.1,1394.2L1620.1,1398.8L1622.0,1403.5L1624.0,1408.1L1625.9,1412.8L1627.8,1417.5L1629.6,1422.2L1631.4,1426.9L1633.2,1431.6L1634.9,1436.4L1636.6,1441.1L1638.3,1445.9L1640.0,1450.6L1641.6,1455.4L1643.2,1460.2L1644.7,1465.0L1646.2,1469.8L1647.7,1474.7L1649.2,1479.5L1650.6,1484.4L1652.0,1489.2L1653.4,1494.1L1654.7,1498.9L1656.1,1503.8L1657.3,1508.7L1658.6,1513.6L1659.8,1518.5L1661.0,1523.4L1662.2,1528.4L1663.4,1533.3L1664.5,1538.2L1665.6,1543.2L1666.6,1548.1L1667.7,1553.1L1668.7,1558.1L1669.7,1563.0L1670.6,1568.0L1671.6,1573.0L1672.5,1578.0L1673.4,1583.0L1674.2,1588.0L1675.1,1593.0L1675.9,1598.0L1676.7,1603.0L1677.4,1608.0L1678.2,1613.1L1678.9,1618.1L1679.6,1623.1L1680.3,1628.2L1680.9,1633.2L1681.5,1638.2L1682.2,1643.3L1682.7,1648.3L1683.3,1653.4L1683.8,1658.4L1684.4,1663.5L1684.9,1668.5L1685.3,1673.6L1685.8,1678.6L1686.2,1683.7L1686.6,1688.7L1687.0,1693.8L1687.4,1698.8L1687.8,1703.9L1688.1,1709.0L1688.5,1714.0L1688.8,1719.1L1689.0,1724.1L1689.3,1729.2L1689.6,1734.2L1689.8,1739.3L1690.0,1744.3L1690.2,1749.4L1690.4,1754.4L1690.6,1759.4L1690.7,1764.5L1690.8,1769.5L1691.0,1774.5L1691.1,1779.6L1691.1,1784.6L1691.2,1789.6" stroke="#000" stroke-width="5.6" fill="none" stroke-linecap="round" stroke-linejoin="round"/>
<path d="M1976.9,1258.4L1975.9,1259.4" stroke="#000" stroke-width="5.6" fill="none" stroke-linecap="round" stroke-linejoin="round"/>
<path d="M1920.0,1307.7L1916.4,1311.5L1912.9,1315.3L1909.5,1319.1L1906.2,1323.1L1903.0,1327.0L1899.9,1331.1L1896.9,1335.1L1894.0,1339.3L1891.1,1343.4L1888.4,1347.6L1885.7,1351.9L1883.1,1356.2L1880.6,1360.5L1878.2,1364.9L1875.8,1369.3L1873.5,1373.8L1871.3,1378.2L1869.2,1382.8L1867.1,1387.3L1865.1,1391.9L1863.1,1396.5L1861.3,1401.2L1859.4,1405.9L1857.7,1410.6L1856.0,1415.3L1854.3,1420.1L1852.7,1424.9L1851.2,1429.7L1849.7,1434.5L1848.3,1439.4L1846.9,1444.2L1845.5,1449.1L1844.2,1454.0L1842.9,1459.0L1841.7,1463.9L1840.5,1468.9L1839.3,1473.9L1838.1,1478.8L1837.0,1483.8L1836.0,1488.8L1834.9,1493.9L1833.9,1498.9L1832.9,1503.9L1831.9,1508.9L1830.9,1514.0L1830.0,1519.0L1829.0,1524.1L1828.1,1529.1L1827.2,1534.1L1826.3,1539.2L1825.4,1544.2L1824.5,1549.3L1823.7,1554.3L1822.8,1559.3L1821.9,1564.4L1821.1,1569.4L1820.2,1574.4L1819.4,1579.4L1818.6,1584.5L1817.7,1589.5L1816.9,1594.5L1816.1,1599.5L1815.4,1604.5L1814.6,1609.6L1813.8,1614.6L1813.0,1619.6L1812.3,1624.6L1811.6,1629.6L1810.8,1634.6L1810.1,1639.7L1809.4,1644.7L1808.7,1649.7L1808.1,1654.7L1807.4,1659.7L1806.8,1664.8L1806.1,1669.8L1805.5,1674.8L1804.9,1679.8L1804.3,1684.9L1803.7,1689.9L1803.1,1694.9L1802.6,1700.0L1802.1,1705.0L1801.5,1710.1L1801.0,1715.1L1800.5,1720.2L1800.1,1725.2L1799.6,1730.3L1799.2,1735.3L1798.7,1740.4L1798.3,1745.5L1797.9,1750.6L1797.5,1755.6L1797.2,1760.7L1796.8,1765.8L1796.5,1770.9L1796.2,1776.0" stroke="#000" stroke-width="5.6" fill="none" stroke-linecap="round" stroke-linejoin="round"/>
<path d="M2113.7,1403.5L2112.7,1404.5" stroke="#000" stroke-width="5.6" fill="none" stroke-linecap="round" stroke-linejoin="round"/>
<path d="M2059.6,1454.1L2056.1,1457.9L2052.7,1461.7L2049.3,1465.6L2046.0,1469.4L2042.7,1473.4L2039.4,1477.3L2036.2,1481.3L2033.0,1485.3L2029.9,1489.3L2026.8,1493.4L2023.8,1497.5L2020.8,1501.6L2017.9,1505.8L2015.0,1510.0L2012.1,1514.2L2009.3,1518.4L2006.5,1522.7L2003.7,1526.9L2001.0,1531.3L1998.4,1535.6L1995.8,1540.0L1993.2,1544.3L1990.6,1548.7L1988.1,1553.2L1985.7,1557.6L1983.2,1562.1L1980.9,1566.6L1978.5,1571.1L1976.2,1575.7L1973.9,1580.2L1971.7,1584.8L1969.5,1589.4L1967.4,1594.0L1965.2,1598.6L1963.2,1603.3L1961.1,1608.0L1959.1,1612.7L1957.1,1617.4L1955.2,1622.1L1953.3,1626.8L1951.4,1631.6L1949.6,1636.3L1947.8,1641.1L1946.1,1645.9L1944.3,1650.7L1942.6,1655.5L1941.0,1660.3L1939.3,1665.2L1937.8,1670.0L1936.2,1674.9L1934.7,1679.8L1933.2,1684.7L1931.7,1689.6L1930.3,1694.5L1928.9,1699.4L1927.5,1704.3L1926.2,1709.2L1924.9,1714.2L1923.6,1719.1L1922.4,1724.1L1921.2,1729.0L1920.0,1734.0L1918.8,1738.9L1917.7,1743.9" stroke="#000" stroke-width="5.6" fill="none" stroke-linecap="round" stroke-linejoin="round"/>
<text x="1560.80" y="1301.20" font-size="31.00" text-anchor="middle" transform="rotate(47.20 1560.80 1301.20)" dominant-baseline="central" class="cl">115</text>
<text x="1415.40" y="1422.90" font-size="31.00" text-anchor="middle" transform="rotate(44.00 1415.40 1422.90)" dominant-baseline="central" class="cl">120</text>
<text x="1408.80" y="1613.00" font-size="31.00" text-anchor="middle" transform="rotate(56.50 1408.80 1613.00)" dominant-baseline="central" class="cl">125</text>
<text x="1949.70" y="1282.60" font-size="31.00" text-anchor="middle" transform="rotate(-40.90 1949.70 1282.60)" dominant-baseline="central" class="cl">110</text>
<text x="2088.60" y="1426.80" font-size="31.00" text-anchor="middle" transform="rotate(-43.00 2088.60 1426.80)" dominant-baseline="central" class="cl">105</text>
<text x="41.90" y="130.90" font-size="115.00" text-anchor="start" font-weight="bold">A</text>
<text x="45.60" y="1138.60" font-size="115.00" text-anchor="start" font-weight="bold">B</text>
</svg></div>
<script>
(function(){
var P=[{"x0":348,"y0":204,"w":614,"h":601,"cx":655.0,"cy":504.5,"s":300.0,"deg":3,"coef":[11.2321,1.39067,0.101397,0.0246694,-0.654865,-0.511324,-0.0548402,0.0195381,0.0268429,0.00609816],"poly":[[376.56,316.06],[384.06,316.06],[384.06,302.06],[399.06,302.06],[399.06,296.06],[416.06,296.06],[416.06,290.06],[448.06,290.06],[448.06,283.06],[472.06,283.06],[472.06,276.06],[503.06,276.06],[503.06,268.06],[535.06,268.06],[535.06,261.06],[556.06,261.06],[556.06,254.06],[589.06,254.06],[589.06,248.06],[621.06,248.06],[621.06,242.06],[652.06,242.06],[652.06,235.56],[691.86,235.56],[691.86,227.66],[723.46,227.66],[723.46,220.66],[753.36,220.66],[753.36,214.46],[793.76,214.46],[793.76,209.16],[814.54,209.16],[814.54,220.66],[823.34,220.66],[823.34,227.66],[831.24,227.66],[831.24,241.76],[839.14,241.76],[839.14,248.76],[847.04,248.76],[847.04,261.06],[854.14,261.06],[854.14,268.06],[862.94,268.06],[862.94,290.06],[869.94,290.06],[869.94,302.36],[878.74,302.36],[878.74,324.36],[885.74,324.36],[885.74,344.56],[894.54,344.56],[894.54,358.66],[901.54,358.66],[901.54,377.96],[910.34,377.96],[910.34,399.96],[918.24,399.96],[918.24,417.56],[926.24,417.56],[926.24,438.66],[934.14,438.66],[934.14,458.86],[942.04,458.86],[942.04,479.96],[949.94,479.96],[949.91,507.03],[956.01,507.43],[955.78,540.8],[950.58,544.3],[950.79,570.39],[941.99,571.29],[941.92,589.87],[934.82,591.57],[934.83,609.06],[926.13,610.96],[926.04,621.58],[918.49,624.64],[910.51,631.79],[901.3,637.46],[901.34,647.98],[893.82,651.09],[885.78,660.0],[878.46,665.73],[878.49,676.16],[870.08,681.02],[862.97,688.11],[854.9,695.28],[846.97,705.82],[840.04,712.74],[830.91,722.03],[830.99,732.46],[822.54,737.34],[814.49,746.29],[806.59,754.99],[798.79,763.69],[792.07,768.74],[784.11,770.57],[776.09,777.64],[768.69,780.93],[752.14,781.34],[752.1,786.68],[729.2,788.48],[729.23,793.65],[692.33,794.55],[692.34,799.74],[424.96,799.74],[424.97,794.65],[385.67,793.85],[385.72,788.0],[378.32,787.2],[378.31,781.29],[370.21,780.59],[370.2,773.89],[362.0,773.19],[362.08,698.38],[353.18,696.18],[353.06,568.96],[361.26,568.96],[361.26,465.26],[369.16,465.26],[369.34,391.84],[376.74,388.84]],"stops":[[9.8,70,104,255],[10.0,50,125,255],[10.25,15,152,255],[10.5,0,180,255],[10.75,0,212,255],[11.0,0,240,255],[11.15,0,255,255],[11.42,0,255,212],[11.5,90,255,185],[11.75,135,255,155],[12.0,175,255,125],[12.25,210,255,85],[12.5,240,255,35],[12.62,255,255,0],[13.0,255,205,0],[13.25,255,175,0],[13.5,255,135,0],[13.85,255,70,0]],"cell":[7.87,6.765],"org":[5.925,3.862],"id":"TL","q":0},{"x0":1370,"y0":179,"w":682,"h":611,"cx":1711.0,"cy":484.5,"s":300.0,"deg":4,"coef":[11.0796,0.746751,0.244435,0.00596447,-0.148835,-0.25739,-2.46886,-0.32508,0.173999,0.0877688,0.522578,-0.073249,0.00471724,0.574153,-0.00104817],"poly":[[1375.96,321.36],[1383.86,321.36],[1383.86,301.56],[1392.76,301.56],[1392.76,287.76],[1399.66,287.76],[1399.66,279.86],[1416.46,279.86],[1416.46,272.96],[1440.26,272.96],[1440.26,266.96],[1456.06,266.96],[1456.06,260.06],[1470.86,260.06],[1470.86,252.16],[1495.66,252.16],[1495.66,245.86],[1518.36,245.86],[1518.36,238.36],[1551.06,238.36],[1551.06,231.36],[1573.76,231.36],[1573.76,225.46],[1605.36,225.46],[1605.36,218.56],[1629.16,218.56],[1629.16,211.56],[1660.76,211.56],[1660.76,204.66],[1700.36,204.66],[1700.36,197.76],[1747.76,197.76],[1747.76,190.86],[1812.06,190.86],[1812.06,184.86],[1849.22,185.25],[1857.63,190.03],[1865.38,196.8],[1873.28,204.7],[1881.21,211.63],[1889.11,218.63],[1897.06,225.57],[1904.95,231.46],[1912.81,238.43],[1920.82,245.33],[1928.68,252.2],[1936.35,259.83],[1944.15,279.45],[1952.05,293.25],[1959.94,313.03],[1967.89,328.02],[1975.75,341.76],[1983.75,361.56],[1991.71,375.46],[1999.55,388.25],[2007.43,409.91],[2015.31,424.77],[2023.22,451.49],[2031.68,465.96],[2039.29,466.51],[2039.34,471.76],[2046.94,471.76],[2046.87,501.01],[2039.47,502.01],[2039.43,511.06],[2031.55,512.73],[2029.81,519.77],[2021.68,520.8],[2021.67,534.11],[2015.17,534.6],[2006.38,540.7],[2006.57,553.71],[2000.06,554.2],[1990.37,561.11],[1990.57,575.01],[1983.98,575.54],[1975.23,583.49],[1975.47,595.51],[1968.37,596.41],[1968.39,609.69],[1960.04,610.21],[1951.25,617.25],[1951.48,630.2],[1944.09,630.69],[1935.28,636.69],[1935.48,650.6],[1927.99,651.13],[1919.23,659.09],[1919.48,671.1],[1912.04,671.61],[1903.58,678.01],[1895.15,684.74],[1895.41,691.57],[1881.21,692.37],[1881.22,698.66],[1857.22,699.56],[1857.21,705.77],[1841.21,706.67],[1841.21,711.97],[1826.11,712.87],[1826.11,718.17],[1810.11,719.07],[1810.11,726.17],[1794.91,727.07],[1794.91,733.36],[1778.11,734.16],[1778.11,740.47],[1762.01,741.37],[1762.01,746.67],[1746.01,747.57],[1746.01,752.87],[1730.01,753.77],[1729.97,760.01],[1699.86,763.51],[1658.91,766.27],[1658.94,774.24],[1611.94,774.24],[1611.94,784.94],[1447.06,784.94],[1447.09,780.97],[1431.09,779.97],[1431.12,775.0],[1423.92,774.2],[1423.92,768.0],[1415.02,767.0],[1415.0,760.98],[1400.8,759.98],[1400.82,752.0],[1392.82,751.1],[1392.81,740.49],[1383.91,739.59],[1383.91,718.99],[1376.01,718.19]],"stops":[[9.6,66,104,255],[10.0,32,138,255],[10.3,0,160,255],[10.6,0,190,255],[11.0,0,225,255],[11.3,0,255,255],[11.85,0,255,212],[12.0,80,255,185],[12.5,145,255,150],[13.0,190,255,110],[13.5,225,255,60],[14.0,252,255,5],[14.2,255,245,0],[14.7,255,205,0]],"cell":[7.92,6.88],"org":[5.03,4.16],"id":"TR","q":0},{"x0":352,"y0":1206,"w":673,"h":587,"cx":688.5,"cy":1499.5,"s":300.0,"deg":3,"coef":[114.608,0.908809,-0.0971736,-0.0652004,-7.4332,-0.458987,0.305408,0.419142,-0.58156,1.19655],"poly":[[388.56,1307.76],[397.26,1307.76],[397.26,1301.06],[403.96,1301.06],[403.96,1294.36],[435.66,1294.36],[435.66,1286.66],[468.36,1286.66],[468.36,1279.86],[500.06,1279.86],[500.06,1274.16],[530.86,1274.16],[530.86,1267.36],[555.86,1267.36],[555.86,1259.76],[586.66,1259.76],[586.66,1252.96],[618.36,1252.96],[618.36,1246.26],[649.16,1246.26],[649.16,1239.56],[682.76,1239.56],[682.76,1232.76],[720.46,1232.76],[720.46,1226.06],[768.56,1226.06],[768.56,1219.36],[807.06,1219.36],[807.06,1211.66],[839.54,1211.66],[839.54,1217.36],[862.64,1217.36],[862.64,1224.16],[878.94,1224.16],[878.94,1231.86],[901.94,1231.86],[901.94,1238.56],[918.34,1238.56],[918.34,1245.26],[933.74,1245.26],[933.74,1252.06],[956.84,1252.06],[956.84,1258.76],[965.44,1258.76],[965.44,1265.46],[973.14,1265.46],[973.14,1279.86],[979.94,1279.86],[979.94,1293.36],[988.54,1293.36],[988.54,1306.86],[996.24,1306.86],[996.24,1321.26],[1003.94,1321.26],[1003.94,1360.66],[1012.64,1360.66],[1012.64,1458.76],[1019.94,1458.76],[1019.94,1498.14],[1013.04,1498.14],[1013.04,1532.54],[1004.24,1532.54],[1004.24,1554.54],[995.44,1554.54],[995.44,1566.84],[988.44,1566.84],[988.44,1581.84],[980.54,1581.84],[980.54,1602.94],[973.54,1602.94],[973.54,1615.24],[964.74,1615.24],[964.74,1629.34],[957.64,1629.34],[957.64,1649.54],[949.74,1649.54],[949.74,1663.64],[941.84,1663.64],[941.84,1678.54],[933.94,1678.54],[933.94,1684.74],[926.04,1684.74],[926.04,1697.94],[918.14,1697.94],[918.14,1711.04],[910.14,1711.04],[910.14,1718.94],[902.24,1718.94],[902.24,1733.04],[894.34,1733.04],[894.34,1747.14],[886.44,1747.14],[886.44,1753.34],[877.64,1753.34],[877.64,1766.44],[862.74,1766.44],[862.74,1774.44],[830.14,1774.44],[830.14,1780.54],[783.54,1780.54],[783.54,1787.24],[658.56,1787.24],[658.56,1780.04],[491.56,1780.04],[491.56,1774.44],[452.86,1774.44],[452.86,1767.54],[443.76,1767.54],[443.76,1761.94],[435.86,1761.94],[435.86,1755.04],[427.86,1755.04],[427.86,1740.34],[418.76,1740.34],[418.76,1733.44],[411.96,1733.44],[411.96,1725.54],[404.06,1725.54],[404.06,1713.04],[396.06,1713.04],[396.06,1698.24],[388.06,1698.24],[388.06,1678.94],[381.26,1678.94],[381.26,1664.14],[373.36,1664.14],[373.36,1644.84],[366.56,1644.84],[366.56,1630.04],[357.46,1630.04],[357.46,1603.76],[365.36,1603.76],[365.36,1513.56],[373.16,1513.56],[373.16,1430.86],[380.86,1430.86],[380.86,1368.36],[388.56,1368.36]],"stops":[[106.5,0,205,255],[108,0,225,255],[109.5,0,245,255],[110.3,0,255,255],[111,0,255,238],[112.5,0,255,220],[113.95,0,255,210],[114.05,50,255,200],[115,100,255,182],[117.5,165,255,135],[120,198,255,102],[122.5,228,255,60]],"cell":[7.815,6.89],"org":[4.85,4.38],"id":"BL","q":0.34},{"x0":1377,"y0":1210,"w":785,"h":586,"cx":1769.5,"cy":1503.0,"s":300.0,"deg":5,"coef":[111.832,-0.48789,-0.147419,-0.239709,0.165699,0.151735,-8.35404,-6.64816,-0.634863,0.166757,0.843875,-0.32609,0.531077,0.910273,0.0831168,-0.265068,1.14124,1.06522,0.647583,0.572483,0.411457],"poly":[[1382.36,1353.66],[1391.06,1353.66],[1391.06,1332.26],[1399.76,1332.26],[1399.76,1311.76],[1406.86,1311.76],[1406.86,1304.66],[1414.76,1304.66],[1414.76,1297.46],[1437.76,1297.46],[1437.76,1291.16],[1462.26,1291.16],[1462.26,1284.86],[1486.76,1284.86],[1486.76,1277.76],[1509.66,1277.76],[1509.66,1270.66],[1533.36,1270.66],[1533.36,1263.56],[1572.86,1263.56],[1572.86,1256.36],[1611.66,1256.36],[1611.66,1249.26],[1666.96,1249.26],[1667.02,1243.69],[1721.68,1237.29],[1779.38,1230.69],[1833.1,1223.5],[1890.06,1223.06],[1890.06,1215.96],[1926.64,1215.96],[1926.35,1221.75],[1935.53,1229.25],[1943.6,1236.47],[1960.34,1243.49],[1968.08,1249.58],[1975.94,1255.66],[1983.97,1262.75],[1998.97,1269.85],[2006.71,1276.72],[2014.63,1283.75],[2023.44,1290.85],[2030.44,1296.95],[2039.26,1304.07],[2047.97,1310.99],[2054.16,1317.98],[2063.0,1325.12],[2070.0,1332.12],[2079.31,1339.42],[2093.64,1339.06],[2093.58,1353.1],[2101.58,1354.0],[2101.58,1373.3],[2109.48,1374.2],[2109.48,1394.4],[2117.38,1395.3],[2117.38,1414.6],[2125.28,1415.5],[2125.28,1435.7],[2133.18,1436.6],[2133.18,1456.0],[2140.18,1456.8],[2140.18,1477.1],[2148.18,1478.0],[2148.18,1497.3],[2156.08,1498.2],[2156.09,1529.49],[2148.09,1530.29],[2148.09,1543.49],[2139.89,1544.29],[2139.88,1551.71],[2132.48,1552.61],[2132.48,1565.71],[2125.08,1566.61],[2125.08,1578.9],[2116.78,1579.8],[2116.78,1592.1],[2109.38,1592.9],[2109.39,1599.49],[2100.29,1600.39],[2100.28,1612.7],[2092.88,1613.5],[2092.89,1626.69],[2084.69,1627.49],[2084.68,1640.71],[2077.28,1641.61],[2077.29,1647.29],[2068.99,1648.09],[2068.98,1660.5],[2061.58,1661.3],[2061.59,1674.49],[2053.39,1675.29],[2053.38,1688.5],[2045.98,1689.3],[2046.02,1701.66],[2028.62,1702.46],[2028.62,1709.06],[2006.42,1709.86],[2006.41,1715.67],[1990.71,1716.47],[1990.72,1723.06],[1966.82,1723.96],[1966.82,1728.86],[1942.92,1729.66],[1942.91,1736.27],[1926.51,1737.07],[1926.52,1742.86],[1904.22,1743.66],[1904.21,1749.47],[1888.61,1750.27],[1888.62,1756.06],[1864.32,1756.86],[1864.34,1763.84],[1840.84,1763.84],[1840.84,1769.94],[1824.74,1769.94],[1824.74,1776.14],[1777.84,1776.14],[1777.84,1783.54],[1729.64,1783.54],[1729.64,1790.94],[1628.06,1790.94],[1628.08,1784.85],[1581.08,1783.55],[1581.09,1778.67],[1557.69,1777.47],[1557.7,1771.28],[1540.4,1769.98],[1540.39,1765.07],[1518.09,1763.87],[1518.1,1758.88],[1502.1,1757.68],[1502.1,1751.48],[1486.0,1750.28],[1486.0,1745.28],[1470.0,1744.08],[1470.0,1737.88],[1453.9,1736.68],[1453.9,1731.78],[1437.9,1730.48],[1437.9,1724.28],[1423.0,1723.08],[1423.03,1718.22],[1414.43,1717.02],[1414.41,1710.79],[1399.61,1709.49],[1399.63,1703.31],[1390.93,1702.11],[1390.86,1695.94],[1382.26,1695.94]],"stops":[[97,45,128,255],[99,38,133,255],[101,20,145,255],[103,0,170,255],[105,0,195,255],[107.5,0,225,255],[110,0,250,255],[111.2,0,255,225],[112.25,0,255,205],[112.4,100,255,175],[115,150,255,150],[117.5,185,255,115],[120,210,255,80],[122.5,238,255,25],[125,255,245,0],[127,255,210,0],[128.5,255,190,0]],"cell":[7.89,6.89],"org":[1.43,1.69],"id":"BR","q":0.25}];
function pip(x,y,poly){var c=false,n=poly.length;for(var i=0,j=n-1;i<n;j=i++){var xi=poly[i][0],yi=poly[i][1],xj=poly[j][0],yj=poly[j][1];
if(((yi>y)!=(yj>y))&&(x<(xj-xi)*(y-yi)/(yj-yi)+xi))c=!c;}return c;}
function col(v,s){if(v<=s[0][0])return s[0];var n=s.length;if(v>=s[n-1][0])return s[n-1];
for(var i=1;i<n;i++){if(v<=s[i][0]){var t=(v-s[i-1][0])/(s[i][0]-s[i-1][0]);return [0,s[i-1][1]+t*(s[i][1]-s[i-1][1]),s[i-1][2]+t*(s[i][2]-s[i-1][2]),s[i-1][3]+t*(s[i][3]-s[i-1][3])];}}return s[n-1];}
P.forEach(function(f){
 var cv=document.getElementById('c'+f.id),ctx=cv.getContext('2d'),W=f.w,H=f.h,img=ctx.createImageData(W,H),d=img.data;
 var cw=f.cell[0],ch=f.cell[1],ox=f.org[0],oy=f.org[1],cache={};
 for(var y=0;y<H;y++){for(var x=0;x<W;x++){
  var X=f.x0+x+0.5,Y=f.y0+y+0.5;
  var ci=Math.floor((X-ox)/cw),cj=Math.floor((Y-oy)/ch),k=ci+'_'+cj;
  var ins=cache[k];if(ins===undefined){ins=pip(ox+(ci+0.5)*cw,oy+(cj+0.5)*ch,f.poly);cache[k]=ins;}
  if(!ins)continue;
  var px=(X-f.cx)/f.s,py=(Y-f.cy)/f.s,v=0,kk=0,xi=1;
  for(var a=0;a<=f.deg;a++){var yj=1;for(var b=0;b<=f.deg-a;b++){v+=f.coef[kk++]*xi*yj;yj*=py;}xi*=px;}
  if(f.q>0){v=(Math.floor(v/f.q)+0.5)*f.q;}
  var c=col(v,f.stops),o=(y*W+x)*4;d[o]=c[1];d[o+1]=c[2];d[o+2]=c[3];d[o+3]=255;}}
 ctx.putImageData(img,0,0);
});
})();
</script>
</body></html>
